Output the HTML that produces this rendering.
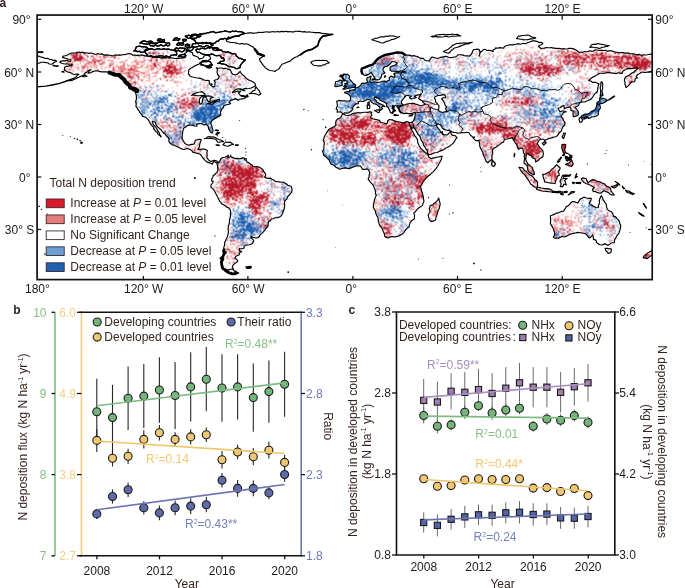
<!DOCTYPE html>
<html><head><meta charset="utf-8"><style>
html,body{margin:0;padding:0;background:#fff;}
svg{display:block;font-family:"Liberation Sans",sans-serif;}
</style></head><body>
<svg width="685" height="588" viewBox="0 0 685 588">
<rect width="685" height="588" fill="#fff"/>
<defs><clipPath id="mclip"><rect x="37.1" y="15.05" width="615.1" height="264.55"/></clipPath>
<clipPath id="lclip"><path d="M59.7,62.1 L61.3,61.1 L63.2,60.8 L65.0,60.9 L66.7,60.3 L68.4,61.1 L70.2,61.4 L71.0,59.8 L69.1,59.5 L67.2,58.7 L65.6,58.3 L63.9,57.9 L62.3,57.3 L63.2,56.1 L65.0,55.7 L66.8,55.2 L68.4,54.4 L70.1,53.5 L71.8,53.0 L73.7,53.0 L75.6,53.0 L77.4,52.3 L79.2,52.1 L80.8,52.6 L82.6,52.1 L84.1,52.8 L85.9,52.8 L87.6,53.0 L89.3,53.4 L91.1,53.0 L92.8,53.5 L94.5,54.1 L96.3,54.2 L98.1,53.5 L99.8,54.2 L101.6,53.9 L103.3,54.6 L105.0,55.1 L106.8,54.9 L108.6,55.1 L110.3,55.2 L112.0,55.8 L113.8,55.5 L115.5,54.9 L117.3,55.2 L119.0,54.9 L120.7,55.1 L122.5,54.8 L124.2,54.6 L126.0,54.4 L127.7,53.7 L129.5,53.5 L131.3,54.1 L133.0,55.2 L134.7,55.0 L136.4,55.4 L138.2,55.4 L139.9,55.2 L141.7,54.9 L143.4,55.4 L145.1,55.9 L146.9,55.8 L148.6,56.1 L150.4,56.1 L152.2,56.2 L153.8,57.3 L155.6,57.2 L157.3,57.8 L159.2,57.3 L160.9,57.9 L162.6,57.6 L164.4,57.9 L166.1,57.5 L167.8,57.8 L169.6,58.2 L171.3,57.9 L173.1,58.0 L174.8,58.5 L176.6,58.4 L178.3,58.5 L180.0,58.1 L181.8,58.2 L183.5,57.9 L185.3,57.5 L185.2,55.4 L184.4,53.5 L186.4,52.4 L187.9,50.9 L190.1,51.7 L192.3,52.6 L193.1,55.2 L194.8,55.9 L196.6,56.5 L198.3,57.5 L199.2,59.3 L200.9,58.5 L202.7,58.2 L203.9,56.7 L204.5,54.9 L206.2,55.2 L208.0,55.4 L209.7,56.1 L210.6,58.7 L209.2,59.8 L207.9,61.0 L206.2,60.6 L204.5,60.5 L202.7,60.5 L201.5,61.6 L200.1,62.6 L199.2,64.0 L197.1,64.9 L194.9,65.7 L193.1,66.9 L191.4,68.0 L189.9,68.8 L188.8,70.0 L188.6,72.0 L188.4,74.0 L190.5,76.3 L192.3,77.0 L194.0,77.2 L195.7,77.7 L197.5,78.0 L199.4,78.1 L201.1,78.6 L202.7,79.6 L204.3,80.0 L205.9,80.5 L207.5,80.3 L209.2,80.5 L209.3,83.3 L210.6,85.0 L211.9,86.0 L213.2,87.1 L214.9,86.2 L214.8,84.3 L215.3,82.4 L214.1,80.6 L215.5,79.9 L217.2,79.5 L218.4,78.4 L219.3,76.3 L217.5,74.5 L217.0,71.9 L217.5,69.3 L216.3,67.9 L218.2,68.2 L220.0,68.0 L221.9,68.0 L223.6,68.6 L225.4,68.2 L227.1,68.7 L228.9,69.4 L230.6,70.1 L231.5,72.8 L233.2,74.5 L235.9,74.7 L237.4,74.1 L238.5,72.8 L240.2,71.4 L241.0,73.0 L242.0,74.5 L244.6,76.3 L246.3,78.4 L248.9,80.1 L250.7,80.8 L252.4,81.5 L255.0,83.3 L255.6,85.5 L253.3,86.9 L251.2,88.0 L248.9,88.5 L247.2,88.7 L245.4,88.4 L243.7,89.0 L242.0,89.6 L240.2,88.9 L238.5,88.9 L236.7,89.2 L235.0,90.0 L233.7,91.1 L232.4,92.4 L234.2,92.2 L235.9,91.5 L237.6,91.0 L240.7,91.5 L238.5,92.9 L239.7,94.7 L241.1,96.1 L242.8,96.4 L244.6,96.6 L246.3,96.9 L248.1,96.1 L245.4,97.8 L243.8,98.8 L242.0,98.9 L239.7,99.3 L237.8,100.4 L237.6,99.6 L235.9,98.9 L233.2,99.6 L230.6,100.4 L229.4,102.2 L230.6,103.8 L228.9,104.3 L226.3,104.8 L223.6,105.9 L223.6,107.3 L221.9,109.0 L221.4,110.4 L220.2,112.2 L220.9,114.8 L219.3,116.2 L216.8,117.6 L214.6,118.8 L213.1,119.7 L211.8,120.8 L210.7,123.6 L211.7,125.3 L212.1,127.2 L212.6,128.9 L213.0,130.6 L212.5,132.8 L211.3,133.0 L210.0,131.3 L208.5,128.8 L208.3,126.2 L206.2,124.4 L203.9,125.0 L201.8,123.7 L199.2,123.6 L196.6,124.1 L197.0,126.2 L194.9,126.0 L192.3,125.1 L190.5,125.2 L188.8,125.1 L187.0,125.8 L185.4,127.2 L183.5,128.3 L183.3,129.9 L182.8,131.4 L182.5,133.2 L182.3,135.0 L182.1,138.1 L183.2,140.9 L184.9,143.4 L186.3,144.3 L187.9,145.1 L189.7,144.9 L191.4,144.4 L194.0,144.1 L194.9,142.0 L195.2,140.2 L197.2,139.7 L199.2,139.3 L201.3,139.5 L200.3,142.0 L199.6,144.8 L199.6,146.5 L198.7,148.1 L197.8,149.3 L201.0,149.3 L202.7,149.0 L204.5,149.1 L207.3,150.4 L206.9,153.3 L207.2,155.1 L206.9,156.9 L207.1,158.1 L208.8,160.2 L210.9,161.6 L213.5,160.4 L215.8,160.5 L217.7,161.9 L217.4,163.0 L216.1,162.5 L214.1,161.4 L212.8,162.8 L212.5,164.2 L211.1,163.5 L208.8,162.6 L206.7,161.9 L204.5,159.8 L203.1,158.4 L202.3,157.0 L201.3,155.6 L200.1,154.2 L198.4,153.4 L196.6,153.3 L194.9,152.6 L193.1,152.5 L192.0,150.9 L190.5,149.8 L187.9,148.6 L186.1,148.7 L184.4,149.5 L182.6,149.3 L180.9,148.6 L178.3,147.2 L175.7,146.0 L174.0,145.1 L172.2,144.9 L171.0,143.8 L169.6,142.8 L168.7,141.1 L169.1,139.2 L167.8,137.1 L166.2,135.8 L165.2,134.1 L163.6,133.3 L162.6,131.8 L160.9,129.7 L159.1,128.1 L157.0,126.2 L155.8,124.4 L155.5,122.3 L152.5,121.3 L153.0,124.1 L154.0,125.5 L155.3,126.5 L156.8,128.8 L158.2,131.4 L159.3,132.9 L159.8,134.6 L161.2,136.5 L161.0,136.9 L160.0,135.7 L157.7,134.1 L157.2,132.3 L155.7,131.5 L154.8,130.0 L153.5,128.5 L153.9,127.8 L152.9,126.5 L151.8,125.3 L150.4,123.6 L149.2,121.5 L148.5,120.1 L146.4,117.8 L144.3,116.7 L142.4,116.4 L141.7,114.6 L139.9,112.4 L139.1,110.8 L138.2,109.9 L136.8,107.3 L135.9,106.2 L136.3,103.8 L135.6,102.0 L136.4,99.0 L136.4,96.1 L135.9,93.8 L135.2,92.2 L138.2,92.4 L138.5,91.2 L137.3,90.3 L134.7,88.9 L132.5,88.4 L130.3,87.6 L129.5,85.5 L127.9,84.7 L126.9,83.3 L125.1,81.5 L124.2,79.8 L122.7,78.9 L121.6,77.5 L120.3,76.2 L119.0,75.0 L117.2,75.2 L115.5,74.7 L112.9,74.0 L111.1,73.5 L109.4,72.6 L107.7,72.0 L105.9,71.9 L103.7,71.9 L101.6,71.9 L99.3,71.4 L97.2,70.7 L94.6,71.0 L92.0,71.9 L90.2,72.9 L88.0,73.3 L89.4,70.7 L91.1,69.8 L89.4,70.4 L87.6,71.0 L86.6,72.4 L85.0,73.1 L83.8,75.0 L82.3,75.8 L80.6,76.4 L78.9,77.3 L77.1,78.0 L75.5,79.0 L73.7,79.4 L72.0,80.4 L70.2,80.6 L68.5,80.5 L66.9,81.2 L65.3,81.5 L66.7,80.5 L68.4,80.1 L70.6,79.4 L72.8,78.5 L74.7,77.9 L76.3,76.8 L77.3,75.2 L78.9,74.3 L76.3,74.0 L74.5,74.5 L72.8,74.0 L70.2,72.4 L68.3,72.3 L66.7,71.5 L64.4,70.1 L64.6,67.5 L65.8,66.3 L67.9,66.3 L69.9,65.6 L71.9,65.7 L72.3,64.0 L69.3,64.2 L67.1,63.9 L64.9,64.0 L62.3,63.5 L60.6,62.8Z M217.7,161.9 L218.8,163.0 L219.8,160.7 L220.9,158.8 L222.2,157.7 L224.9,157.2 L226.8,156.2 L228.4,155.3 L227.8,157.7 L228.9,157.2 L230.3,156.7 L230.6,155.6 L231.1,156.9 L233.6,157.9 L235.4,158.6 L237.2,158.4 L239.2,158.8 L241.1,158.4 L242.9,157.9 L244.7,158.3 L244.6,159.5 L246.3,160.4 L247.2,162.1 L248.4,162.5 L250.7,164.2 L252.1,165.1 L252.9,166.5 L254.9,166.8 L256.8,166.5 L258.9,167.0 L261.5,168.4 L262.9,169.6 L263.8,171.7 L265.5,173.8 L265.7,175.9 L264.6,177.0 L266.3,177.9 L268.1,178.4 L270.7,178.1 L272.1,179.2 L273.7,180.0 L275.1,181.2 L277.3,181.6 L279.5,181.9 L281.6,182.2 L283.8,182.3 L285.1,183.4 L286.7,184.1 L287.8,185.4 L289.5,185.8 L291.1,186.3 L291.7,187.9 L292.0,189.6 L291.7,192.4 L290.2,193.8 L289.0,195.4 L287.6,196.9 L287.0,198.9 L284.9,200.7 L284.4,202.8 L284.7,205.0 L284.3,208.2 L283.8,209.8 L283.3,211.5 L282.5,213.5 L281.5,215.5 L279.5,217.1 L277.3,217.7 L275.1,217.8 L273.5,218.8 L271.6,219.0 L270.3,220.7 L268.5,221.7 L268.2,223.9 L267.9,226.1 L267.0,227.5 L265.8,228.7 L264.9,230.1 L263.8,231.3 L261.7,233.6 L260.3,234.6 L259.6,236.0 L258.2,237.6 L255.9,238.0 L253.3,237.4 L250.9,236.6 L251.0,238.0 L252.9,239.4 L253.8,240.8 L252.4,243.6 L249.8,244.8 L247.6,245.0 L245.4,245.3 L244.0,246.2 L244.2,248.0 L241.4,249.0 L239.3,248.5 L239.3,250.6 L241.6,251.6 L240.0,252.3 L239.0,255.0 L237.5,255.5 L236.0,256.2 L234.8,258.3 L236.3,259.1 L237.6,260.2 L237.8,261.1 L236.6,262.5 L235.0,263.2 L233.2,265.0 L232.2,267.6 L233.4,268.6 L233.2,269.9 L235.0,271.6 L237.0,272.2 L238.8,273.0 L235.9,273.4 L233.2,273.9 L230.6,273.4 L228.0,272.1 L226.5,271.2 L225.4,269.9 L222.8,268.6 L222.3,267.1 L221.9,265.5 L222.1,263.7 L221.4,262.0 L222.3,260.6 L222.9,259.0 L221.0,258.5 L222.8,256.7 L224.0,254.1 L225.4,252.3 L223.6,251.5 L224.0,249.7 L223.8,247.9 L224.2,246.2 L224.7,244.5 L224.5,242.7 L225.5,241.1 L226.1,239.2 L227.1,237.5 L227.7,235.7 L228.2,233.1 L228.5,231.3 L228.0,229.6 L228.3,227.8 L228.2,226.1 L229.0,224.4 L229.4,222.6 L229.5,220.3 L229.9,218.2 L230.5,216.0 L230.3,213.8 L230.6,211.6 L230.1,209.4 L228.4,207.8 L226.7,207.1 L225.4,205.9 L223.6,204.7 L221.6,203.8 L220.7,202.4 L219.6,201.2 L218.8,199.6 L218.1,198.0 L217.2,196.3 L216.3,194.5 L215.4,192.7 L214.4,190.8 L213.4,189.1 L211.1,187.5 L210.9,185.2 L212.7,183.0 L213.2,181.4 L211.6,180.9 L211.8,178.8 L213.0,177.0 L213.2,175.4 L214.9,174.7 L215.3,173.8 L217.0,172.4 L217.9,170.3 L217.7,167.4 L217.5,165.3 L216.8,164.0Z M409.0,122.2 L406.8,121.6 L405.0,122.2 L403.3,122.9 L401.5,122.6 L399.8,122.0 L396.6,121.6 L394.6,120.9 L392.8,119.9 L391.1,119.7 L389.3,119.5 L387.6,120.9 L387.6,122.7 L385.8,123.9 L384.1,123.0 L382.3,122.8 L380.6,122.3 L379.4,120.4 L377.4,119.8 L375.4,119.4 L372.8,118.8 L371.0,117.8 L370.5,116.6 L371.9,115.3 L371.0,113.1 L371.9,112.2 L370.1,111.8 L367.5,112.4 L365.8,112.2 L364.0,112.2 L361.4,112.7 L359.7,112.9 L357.9,112.5 L356.2,113.1 L354.4,113.1 L352.6,113.5 L351.0,114.5 L348.9,115.5 L345.7,115.3 L343.5,114.1 L342.2,114.3 L341.7,115.9 L340.8,117.4 L339.4,118.2 L337.9,118.7 L336.0,120.9 L335.6,123.6 L336.0,125.3 L334.4,126.5 L332.6,127.6 L330.0,128.6 L328.5,129.8 L327.4,131.4 L326.3,133.4 L325.1,135.3 L324.3,136.8 L323.9,138.5 L323.1,140.2 L324.4,142.8 L323.9,145.5 L323.9,147.2 L323.9,149.0 L322.4,151.2 L323.4,153.3 L323.6,155.1 L325.7,156.7 L327.1,158.1 L329.2,160.0 L329.7,161.4 L330.9,163.9 L333.5,165.1 L334.8,166.3 L336.1,167.4 L338.0,168.1 L339.6,169.3 L341.4,168.8 L343.1,168.1 L345.7,167.9 L347.4,168.5 L349.2,168.6 L351.0,167.9 L352.7,167.2 L355.3,166.1 L357.9,165.8 L360.5,166.0 L361.5,167.7 L362.6,169.3 L364.9,169.3 L367.5,168.9 L368.7,170.2 L369.8,172.6 L369.1,175.2 L368.9,177.9 L368.0,178.8 L369.0,180.4 L370.1,181.9 L372.1,183.8 L373.6,185.8 L374.2,187.7 L375.1,189.7 L375.4,191.9 L375.6,193.7 L376.2,195.4 L375.3,197.6 L374.5,199.8 L374.1,202.0 L373.5,204.2 L373.3,207.3 L374.5,209.4 L375.5,211.0 L375.6,213.0 L376.5,214.7 L377.1,216.4 L378.0,217.3 L378.1,219.1 L378.3,220.8 L378.8,222.6 L379.2,224.3 L380.1,226.0 L381.5,227.3 L382.4,229.3 L383.2,231.3 L384.4,233.9 L384.8,236.6 L386.7,237.8 L387.6,238.0 L389.4,237.5 L391.1,236.6 L392.8,236.5 L394.6,236.9 L396.3,236.6 L398.9,236.0 L401.5,234.5 L403.0,233.5 L404.1,232.2 L405.9,229.6 L407.6,227.8 L409.2,226.9 L409.4,224.9 L410.1,222.9 L411.1,221.3 L412.6,220.0 L414.4,219.0 L414.3,217.3 L414.6,215.5 L413.7,212.9 L415.3,211.8 L416.4,210.3 L417.6,208.9 L419.0,207.7 L420.8,206.6 L422.5,205.4 L423.0,203.4 L423.9,201.5 L423.7,199.8 L423.4,198.0 L423.3,196.3 L422.7,194.6 L422.2,192.7 L421.6,191.0 L421.1,188.4 L420.4,186.6 L421.6,184.9 L422.8,182.3 L424.2,180.5 L425.9,178.4 L427.3,177.1 L428.6,175.8 L430.1,174.8 L431.2,173.5 L432.4,172.4 L433.7,171.4 L434.7,170.0 L436.2,168.4 L437.3,166.5 L438.5,164.9 L439.2,163.0 L440.4,161.3 L441.3,159.5 L441.5,157.8 L442.2,156.3 L440.5,156.4 L439.0,157.0 L437.2,157.0 L435.5,157.6 L433.3,157.9 L431.2,158.8 L428.6,157.0 L428.2,155.1 L426.8,153.3 L425.1,152.5 L423.8,151.1 L422.5,149.8 L420.7,148.1 L419.0,145.5 L417.8,142.8 L417.6,140.2 L416.9,138.5 L415.9,137.0 L414.8,135.8 L413.7,133.2 L412.0,130.6 L411.1,128.8 L410.1,126.8 L409.6,124.6Z M409.6,124.6 L410.6,126.0 L411.1,127.6 L412.5,128.3 L413.4,126.4 L413.7,125.3 L413.7,127.9 L415.4,129.5 L416.4,131.4 L417.3,132.9 L418.1,134.4 L419.3,135.6 L420.2,136.9 L420.7,138.5 L421.2,140.2 L422.4,141.9 L423.3,143.7 L423.8,145.7 L425.1,147.2 L426.0,149.1 L427.3,150.7 L427.5,152.5 L428.2,154.2 L430.3,154.7 L432.9,153.5 L435.0,152.7 L437.3,152.5 L439.9,151.1 L441.8,150.4 L443.7,149.7 L445.2,148.4 L446.9,147.6 L449.5,146.3 L451.8,144.4 L453.5,142.8 L454.7,141.1 L455.6,139.2 L457.0,137.8 L455.2,135.7 L452.1,135.1 L450.9,133.4 L450.9,130.9 L449.5,132.3 L447.7,134.6 L446.0,135.0 L444.3,134.6 L442.7,134.1 L442.2,131.3 L441.6,133.2 L440.8,132.3 L439.9,130.4 L438.2,128.3 L436.9,126.5 L436.4,124.4 L438.2,123.9 L440.2,124.8 L441.6,126.4 L442.5,128.3 L444.1,129.6 L446.0,130.0 L447.7,130.5 L449.5,130.4 L452.1,131.8 L453.8,132.4 L455.6,132.5 L457.7,133.1 L460.0,133.0 L462.1,132.5 L464.3,132.7 L466.5,132.4 L468.7,132.5 L470.4,135.0 L472.7,137.1 L474.8,137.1 L473.0,137.8 L474.3,139.2 L475.7,140.6 L477.4,140.6 L479.1,140.2 L479.1,142.0 L479.7,143.7 L479.7,146.0 L480.5,148.1 L481.8,150.7 L482.8,152.5 L483.2,154.6 L483.9,156.2 L484.9,157.7 L485.3,159.5 L486.1,161.2 L487.9,162.8 L489.1,161.4 L490.5,160.7 L492.0,159.0 L491.9,156.0 L492.7,153.3 L492.6,151.6 L492.4,149.8 L494.3,148.1 L496.2,147.2 L497.5,145.8 L499.2,144.9 L500.6,143.9 L501.9,142.6 L503.6,142.0 L504.4,139.3 L507.0,139.0 L509.7,138.5 L512.3,137.6 L513.5,140.2 L514.9,142.3 L516.6,144.6 L517.5,147.6 L518.7,149.3 L521.0,148.1 L522.7,148.1 L523.3,151.1 L523.5,152.8 L524.5,154.2 L524.2,156.4 L524.7,158.6 L524.3,160.3 L524.1,162.1 L524.1,163.3 L525.7,164.3 L527.1,165.6 L527.6,168.2 L527.8,170.1 L528.8,171.7 L530.1,172.8 L531.5,173.7 L533.2,174.7 L534.4,174.4 L534.1,172.1 L533.0,170.0 L532.3,167.4 L530.6,166.1 L529.5,164.9 L528.0,164.2 L527.1,162.5 L525.9,160.4 L525.7,158.6 L526.2,156.0 L527.1,153.5 L528.0,153.3 L528.8,154.7 L531.5,156.0 L532.3,157.7 L534.9,158.6 L535.8,161.2 L535.5,161.9 L537.0,161.2 L538.4,160.4 L539.7,158.6 L541.2,157.7 L542.8,156.9 L543.3,154.2 L543.2,152.5 L542.8,150.7 L541.1,148.6 L539.8,147.3 L538.6,145.8 L537.2,143.7 L538.4,141.1 L540.2,139.3 L541.9,139.2 L543.8,139.3 L545.4,141.4 L544.9,140.2 L547.2,139.3 L548.8,138.4 L550.6,138.1 L552.4,137.6 L554.1,137.0 L555.9,136.7 L557.4,135.6 L558.5,134.1 L559.5,132.4 L561.1,131.4 L562.0,128.8 L562.9,126.8 L564.6,125.3 L565.1,122.7 L563.7,120.9 L562.9,118.3 L561.1,116.6 L562.0,114.8 L563.7,112.5 L566.3,111.8 L564.6,111.2 L562.9,110.8 L560.2,111.8 L558.5,109.5 L558.1,108.3 L560.2,107.8 L561.9,106.5 L563.7,105.5 L564.1,107.1 L564.6,108.7 L564.1,109.0 L566.3,107.8 L569.3,107.1 L570.7,107.8 L571.0,110.4 L573.3,111.3 L573.0,113.9 L573.3,116.6 L575.1,116.4 L577.7,115.5 L578.5,113.9 L578.2,111.3 L576.8,109.5 L575.1,107.3 L576.8,106.4 L578.5,105.5 L579.4,102.9 L582.0,102.0 L584.7,102.0 L586.8,101.0 L589.0,100.3 L591.1,99.2 L592.5,97.3 L594.2,94.7 L595.6,93.1 L597.4,92.0 L597.7,89.4 L597.9,87.6 L598.3,85.9 L599.1,83.8 L597.4,83.4 L596.0,82.4 L594.2,82.3 L592.5,82.4 L590.8,81.0 L588.7,80.6 L590.0,79.2 L591.6,78.0 L593.3,76.8 L595.2,76.1 L596.9,74.9 L598.5,73.9 L600.3,73.3 L602.1,73.2 L603.9,73.5 L605.6,72.9 L607.6,72.6 L609.7,72.6 L611.7,73.1 L613.9,73.1 L616.0,73.6 L618.7,72.8 L620.4,73.3 L622.1,73.3 L623.0,71.0 L624.8,70.1 L626.5,68.9 L628.2,68.6 L630.0,68.6 L631.7,68.7 L633.7,68.1 L635.8,68.1 L637.8,67.9 L637.0,69.5 L635.4,70.4 L634.4,71.9 L632.4,72.7 L630.6,73.8 L629.1,75.4 L627.3,76.1 L625.6,77.1 L624.6,78.7 L624.4,80.6 L625.1,82.3 L624.8,84.1 L625.6,85.8 L626.0,87.6 L628.3,85.9 L629.6,84.1 L631.7,82.0 L633.5,82.0 L634.9,81.0 L635.2,78.5 L637.5,78.0 L636.1,76.3 L637.8,74.5 L639.7,73.6 L641.3,72.2 L643.3,72.1 L645.3,72.5 L647.2,72.1 L649.2,71.9 L651.1,71.4 L652.6,70.2 L654.4,69.6 L656.1,68.8 L657.9,68.5 L659.5,67.7 L661.4,67.5 L663.1,67.6 L664.9,67.9 L666.5,67.0 L667.4,65.4 L668.5,63.9 L670.1,63.1 L669.7,61.4 L669.8,59.6 L670.4,57.9 L670.1,56.1 L668.3,56.0 L666.6,55.9 L664.8,55.9 L663.2,54.8 L661.4,55.2 L659.6,55.2 L657.9,54.7 L656.1,55.0 L654.4,54.9 L652.6,54.7 L650.9,54.1 L649.2,54.2 L647.5,54.7 L645.7,55.0 L643.9,54.7 L642.2,55.1 L640.5,55.1 L638.8,54.3 L636.9,54.9 L635.2,54.3 L633.5,53.8 L631.7,53.8 L630.0,53.7 L628.3,52.9 L626.5,53.1 L624.7,53.1 L623.0,52.6 L621.3,52.5 L619.5,52.7 L617.8,52.2 L616.0,52.2 L614.3,51.7 L612.6,51.1 L610.9,50.8 L609.1,50.9 L607.2,51.1 L605.6,50.3 L603.8,50.5 L602.1,50.4 L600.3,50.4 L598.6,50.3 L596.9,50.0 L595.1,49.9 L593.4,51.0 L591.7,51.4 L589.8,50.8 L588.1,51.6 L586.4,51.7 L584.6,51.5 L582.9,52.3 L581.1,52.0 L579.4,52.6 L577.8,51.2 L575.9,50.0 L574.3,49.1 L572.5,48.6 L570.7,48.2 L569.0,48.4 L567.3,49.0 L565.5,49.0 L563.7,48.6 L562.0,49.1 L560.3,48.5 L558.5,48.3 L556.7,48.6 L555.0,48.1 L553.3,48.1 L551.5,47.6 L549.8,47.7 L548.0,47.7 L546.2,47.6 L544.5,48.1 L542.8,48.2 L541.1,48.6 L539.9,47.4 L538.4,46.5 L539.8,45.2 L541.6,44.7 L542.8,43.3 L541.2,42.3 L539.2,42.6 L537.6,41.6 L534.6,40.9 L532.6,40.9 L530.7,41.5 L528.9,42.3 L527.1,43.0 L525.4,43.7 L523.5,43.2 L521.9,43.8 L520.1,44.3 L518.3,43.6 L516.6,44.2 L514.9,44.2 L513.2,44.9 L511.4,44.9 L509.7,44.7 L507.9,45.2 L506.2,45.8 L504.4,46.5 L503.6,48.2 L501.6,47.9 L499.7,47.6 L497.7,48.2 L495.7,47.9 L494.7,49.3 L493.1,50.0 L493.1,51.7 L491.0,50.6 L488.7,50.3 L486.9,50.5 L485.3,49.4 L483.5,49.5 L482.4,50.9 L480.9,51.7 L479.7,53.8 L479.1,56.1 L479.9,54.0 L480.0,51.7 L479.1,49.5 L477.4,49.1 L475.7,49.4 L473.9,49.5 L472.7,50.8 L472.2,52.6 L471.1,54.5 L469.5,56.1 L467.8,55.8 L466.0,55.9 L464.3,55.6 L462.3,54.9 L460.3,54.7 L458.2,54.7 L456.9,55.9 L455.6,57.0 L453.9,57.0 L452.1,57.5 L450.4,57.6 L448.6,57.2 L446.0,56.3 L444.4,56.6 L442.9,57.1 L441.2,57.1 L439.7,57.7 L438.2,58.2 L436.1,58.2 L434.1,57.5 L432.1,57.0 L430.5,58.6 L429.4,60.5 L429.8,61.0 L427.4,60.7 L425.1,60.5 L423.3,58.4 L421.1,58.4 L419.0,57.5 L417.4,56.5 L415.5,56.1 L413.8,55.6 L411.9,56.1 L410.3,55.4 L408.5,55.1 L406.7,55.1 L405.0,54.7 L403.4,53.4 L401.5,52.6 L399.3,52.7 L397.2,52.4 L395.0,53.1 L392.8,53.3 L391.1,53.7 L389.2,53.6 L387.6,54.4 L385.9,55.2 L384.1,55.2 L382.5,56.5 L380.6,57.0 L378.0,58.7 L376.6,60.0 L375.4,61.4 L374.5,63.1 L371.9,64.9 L369.3,65.7 L367.0,66.2 L364.9,67.3 L363.3,68.0 L361.8,68.7 L361.4,71.0 L362.3,73.6 L364.0,75.2 L366.7,75.4 L368.2,74.5 L369.8,73.6 L371.2,72.2 L371.9,73.6 L372.4,74.7 L373.6,76.1 L375.0,78.4 L375.4,79.9 L377.5,79.9 L379.2,79.5 L380.6,78.4 L381.5,76.3 L381.8,74.3 L383.5,73.8 L385.0,72.8 L383.2,70.8 L382.9,69.3 L384.1,67.5 L385.3,66.4 L387.2,66.3 L388.5,65.2 L390.2,63.8 L391.9,61.7 L394.6,61.7 L397.2,63.1 L396.3,64.3 L394.7,65.3 L392.8,65.7 L390.2,67.0 L390.0,70.1 L391.6,71.2 L394.0,71.2 L396.3,71.5 L398.5,71.6 L400.7,71.0 L402.4,71.2 L404.1,71.5 L405.5,72.1 L402.4,72.2 L401.5,72.8 L398.9,72.9 L396.7,72.7 L394.6,73.1 L393.7,74.0 L395.1,75.0 L394.2,76.3 L395.1,77.1 L392.8,77.1 L391.1,76.1 L389.3,77.5 L389.3,79.2 L389.7,80.3 L387.6,80.8 L386.7,81.7 L385.0,81.0 L382.3,81.2 L380.7,82.0 L378.9,82.2 L377.1,82.4 L374.5,81.7 L371.9,82.4 L370.1,81.5 L369.8,80.6 L370.7,78.4 L371.0,76.1 L369.3,77.0 L367.0,77.8 L366.8,79.8 L367.7,82.4 L364.9,83.3 L363.1,83.1 L361.4,83.6 L360.7,85.4 L358.8,86.8 L357.1,87.5 L355.5,87.8 L355.3,89.0 L353.0,89.9 L350.6,90.5 L349.4,89.9 L350.1,91.7 L347.5,91.5 L344.5,92.2 L345.2,93.3 L346.9,93.4 L348.3,94.1 L350.1,95.9 L350.6,98.2 L350.1,100.8 L348.4,101.2 L346.6,101.0 L344.9,100.9 L343.1,100.8 L341.3,100.8 L339.6,100.4 L336.7,101.3 L337.2,103.4 L337.4,106.0 L336.7,107.5 L336.1,109.0 L337.4,109.9 L337.2,112.2 L339.6,111.8 L341.7,112.5 L342.9,113.9 L344.9,112.7 L346.9,113.1 L348.9,112.7 L351.3,111.1 L353.0,109.0 L352.2,107.8 L353.4,106.6 L354.3,105.2 L356.1,103.9 L358.3,103.6 L358.1,101.7 L360.5,101.0 L363.2,101.5 L365.8,100.3 L368.0,99.2 L370.5,100.1 L371.2,101.8 L373.6,103.6 L375.3,104.0 L376.8,104.8 L378.3,105.9 L379.9,106.9 L379.9,108.7 L379.9,110.4 L381.5,109.5 L382.5,108.7 L381.5,107.4 L382.7,106.0 L385.0,106.7 L383.2,105.2 L380.6,103.9 L379.7,103.4 L377.1,102.2 L376.2,100.6 L374.2,99.0 L374.2,97.6 L376.2,96.8 L376.6,98.2 L378.0,97.6 L379.7,99.9 L382.3,101.3 L385.0,102.5 L386.7,103.8 L386.5,106.2 L388.5,107.8 L389.3,109.5 L390.4,112.2 L391.9,113.2 L392.8,111.7 L393.2,110.4 L394.6,110.1 L392.8,108.7 L392.1,106.4 L394.2,105.7 L396.1,105.8 L398.0,105.5 L398.9,106.0 L401.1,105.4 L403.3,104.8 L401.5,103.4 L401.4,101.3 L402.8,99.4 L404.3,97.6 L406.2,95.5 L408.2,95.5 L411.1,96.4 L409.4,97.5 L411.1,99.0 L413.7,98.5 L416.5,97.5 L414.3,96.6 L415.7,95.5 L417.3,95.1 L419.0,94.7 L421.2,94.3 L419.8,95.9 L418.6,98.5 L419.8,99.4 L422.5,101.1 L423.6,102.9 L425.3,104.1 L424.7,104.6 L422.5,105.3 L420.7,105.5 L419.0,105.3 L417.3,104.5 L415.5,104.1 L413.8,103.3 L412.0,103.4 L410.2,103.5 L408.5,103.8 L406.7,104.1 L405.0,104.8 L403.3,105.2 L400.7,106.4 L398.4,107.8 L399.4,109.5 L400.1,111.3 L401.5,112.5 L404.1,113.6 L405.9,113.1 L408.5,113.6 L411.1,113.6 L413.7,112.9 L415.5,112.5 L415.1,114.3 L415.3,115.7 L414.6,117.4 L414.1,119.2 L412.9,121.8 L411.1,122.5 L409.0,122.2Z M35.3,56.1 L37.0,56.3 L38.8,56.1 L40.4,56.9 L42.3,57.2 L43.9,57.9 L45.6,58.5 L47.5,58.4 L49.6,59.3 L51.9,59.6 L53.3,60.6 L55.3,60.1 L56.7,61.2 L54.5,62.2 L53.2,63.2 L51.9,64.2 L49.2,64.0 L47.7,62.8 L45.8,62.6 L43.6,62.2 L41.4,62.2 L38.8,63.3 L37.0,62.8 L35.3,63.3 L34.8,61.5 L35.3,59.7 L35.0,57.9Z M240.2,67.5 L237.6,68.6 L235.6,68.5 L234.1,67.3 L232.4,67.2 L230.7,66.5 L228.9,66.8 L227.3,65.5 L225.6,64.6 L223.6,64.0 L221.6,63.9 L219.6,63.1 L217.5,63.5 L219.3,62.8 L220.7,61.3 L222.7,61.2 L224.5,60.5 L223.6,57.9 L221.6,58.1 L220.4,56.0 L218.7,55.3 L216.6,55.8 L214.8,55.3 L213.2,54.4 L211.4,53.9 L209.7,54.9 L207.9,54.9 L206.2,54.9 L204.5,54.4 L202.6,54.2 L201.0,53.3 L199.4,52.2 L197.5,52.6 L195.7,50.0 L197.3,48.9 L199.5,49.6 L201.0,48.2 L202.7,48.3 L204.5,48.8 L206.2,48.7 L207.9,47.4 L209.7,48.2 L211.4,47.3 L213.2,47.9 L215.1,47.6 L216.5,48.7 L217.9,49.9 L219.6,50.1 L221.4,50.0 L222.7,51.6 L224.5,51.6 L226.0,52.6 L227.8,51.7 L229.3,52.4 L230.9,53.1 L232.4,53.9 L234.1,53.5 L235.7,54.2 L236.4,55.9 L237.6,57.0 L238.9,58.4 L240.7,58.4 L242.2,59.1 L243.7,59.8 L245.4,60.0 L243.7,61.5 L242.0,63.1 L240.2,65.7Z M147.8,56.1 L149.4,56.3 L151.1,55.6 L152.8,57.0 L154.5,57.0 L156.1,56.2 L157.8,56.6 L159.5,55.8 L161.2,55.8 L162.8,56.0 L164.5,56.8 L166.2,55.9 L167.8,56.5 L169.7,57.1 L171.2,55.2 L173.0,55.2 L174.7,54.7 L176.6,55.2 L176.6,52.6 L175.1,50.9 L173.1,50.0 L170.8,49.8 L168.7,49.1 L167.1,49.1 L165.5,49.3 L163.9,48.7 L162.2,49.1 L160.6,49.4 L159.0,48.9 L157.4,48.8 L155.7,49.3 L154.0,49.8 L152.1,48.7 L150.4,49.1 L148.6,49.3 L146.8,49.1 L145.2,50.0 L145.2,52.6 L146.6,54.2Z M133.8,51.0 L135.7,50.6 L137.3,51.7 L139.1,51.2 L140.8,52.4 L142.5,52.3 L144.2,51.7 L145.6,50.6 L147.3,50.2 L148.9,49.4 L150.4,48.6 L148.4,48.8 L146.9,47.4 L145.2,46.8 L143.4,46.6 L141.7,46.8 L139.9,46.1 L138.2,46.4 L136.4,46.8 L135.8,48.3 L135.1,49.9Z M176.6,50.9 L178.3,50.5 L180.0,51.2 L181.7,52.0 L183.5,51.2 L184.6,49.9 L185.3,48.2 L183.5,48.1 L181.8,48.2 L180.0,47.7 L178.5,48.8 L176.3,47.8 L174.8,49.1Z M186.1,50.9 L188.1,49.9 L190.3,50.8 L192.3,50.0 L194.0,47.4 L192.3,46.7 L190.5,47.6 L188.8,47.8 L187.0,47.4 L187.1,49.2Z M201.0,64.9 L202.8,64.9 L204.5,65.6 L206.2,66.1 L208.3,65.9 L210.2,64.8 L212.3,65.2 L211.4,63.7 L210.6,62.2 L208.7,61.2 L206.7,61.7 L204.7,61.6 L202.7,61.4 L201.0,63.1Z M204.6,138.6 L206.2,138.2 L207.4,137.0 L209.0,136.5 L211.1,137.0 L213.2,136.7 L214.6,137.4 L216.1,138.0 L217.5,138.8 L219.0,139.6 L220.6,140.0 L222.1,140.7 L223.5,141.6 L221.5,141.8 L219.5,142.2 L217.5,142.1 L216.8,140.7 L215.8,139.3 L214.0,139.0 L212.3,138.6 L210.6,138.1 L208.4,138.5 L206.2,138.5Z M222.8,144.8 L224.2,143.4 L225.7,142.1 L227.4,142.3 L229.0,142.3 L230.6,142.3 L232.0,143.5 L233.6,144.4 L231.6,144.7 L229.8,145.4 L228.0,146.2 L226.2,146.0 L224.5,145.4Z M216.1,144.8 L217.9,144.7 L219.6,145.3 L218.8,145.6 L216.3,145.1Z M235.5,144.8 L238.3,144.8 L238.1,145.5 L235.5,145.5Z M249.3,93.6 L250.9,93.0 L252.0,91.7 L253.4,90.8 L255.0,90.3 L255.2,88.4 L255.9,86.8 L256.9,88.2 L258.0,89.5 L259.4,90.6 L259.8,92.4 L261.0,93.8 L258.9,95.2 L257.0,94.3 L255.0,93.6 L253.1,93.5 L251.2,93.5Z M137.7,92.4 L135.8,91.5 L133.8,91.2 L132.2,90.0 L130.6,88.9 L128.8,88.0 L130.5,87.9 L132.1,88.7 L133.8,88.9 L135.0,90.2 L136.4,91.2Z M310.8,62.2 L312.5,61.3 L314.3,60.7 L316.1,60.4 L317.8,60.5 L319.6,60.3 L321.3,60.5 L323.0,60.2 L324.8,60.5 L326.5,60.5 L327.8,61.7 L329.2,62.8 L327.6,63.5 L325.9,63.8 L324.6,65.0 L322.7,64.9 L321.3,65.9 L319.3,65.8 L317.4,65.8 L315.4,65.5 L313.5,65.2 L312.1,63.8Z M342.8,89.2 L344.7,89.1 L346.6,88.7 L348.7,88.1 L351.0,88.0 L353.0,87.3 L355.1,87.3 L355.7,84.8 L353.2,83.4 L351.8,81.5 L350.1,79.8 L348.9,78.5 L349.6,76.1 L347.5,74.3 L345.7,74.4 L344.0,74.3 L342.2,76.3 L342.9,78.5 L344.2,80.6 L347.1,80.8 L346.9,82.7 L347.5,83.6 L344.7,83.6 L345.4,85.4 L343.6,86.2 L345.3,86.8 L347.1,86.9 L344.9,87.5Z M342.2,85.5 L341.9,82.7 L342.9,81.3 L341.6,80.4 L340.0,80.1 L337.9,81.3 L335.3,82.0 L335.4,83.4 L334.7,86.1 L336.1,86.8 L338.7,86.2 L340.4,85.6Z M367.3,108.7 L369.4,108.5 L369.9,106.9 L369.8,105.2 L367.0,105.3 L367.4,107.0Z M367.7,104.5 L369.1,104.5 L369.3,101.7 L367.9,102.4Z M374.3,110.8 L376.0,111.1 L377.4,112.2 L379.0,112.7 L379.9,109.9 L378.1,109.9 L376.2,110.1Z M393.7,115.2 L395.3,115.6 L397.0,115.2 L398.6,115.5 L398.0,115.2 L396.3,114.9 L394.6,114.6Z M409.0,116.2 L412.0,115.7 L413.0,114.5 L410.1,115.3Z M580.8,117.6 L582.9,117.8 L585.5,117.4 L588.1,117.1 L588.7,118.5 L590.8,117.6 L591.6,116.7 L594.2,116.6 L596.5,116.0 L598.4,114.6 L598.3,112.2 L599.0,110.1 L600.5,107.8 L600.1,106.0 L599.7,104.3 L596.9,104.5 L596.2,106.9 L595.6,109.0 L593.4,110.6 L591.3,111.5 L589.5,113.2 L587.8,114.1 L584.7,114.1 L583.3,115.1 L581.7,115.7Z M579.4,117.8 L581.2,117.6 L582.7,120.1 L581.5,122.2 L579.8,122.3 L579.1,119.5Z M583.8,119.2 L585.7,118.4 L587.6,117.8 L586.9,116.9 L584.1,117.6Z M596.9,104.3 L599.0,103.8 L600.7,103.6 L602.4,103.4 L604.4,102.4 L606.5,101.3 L606.1,99.6 L604.7,98.8 L603.1,98.2 L601.5,98.0 L600.0,97.3 L599.7,99.2 L599.5,101.1 L596.9,102.5Z M600.3,96.4 L603.0,95.5 L602.7,93.8 L602.1,92.1 L602.1,90.3 L602.7,88.6 L602.6,86.8 L602.8,85.1 L602.5,83.5 L602.1,81.9 L601.2,81.9 L600.7,83.5 L601.0,85.2 L600.3,86.8 L600.3,89.0 L600.7,91.2 L600.7,93.4 L600.2,95.5Z M562.2,136.7 L563.1,134.9 L563.7,133.0 L565.5,133.2 L564.8,134.9 L564.2,136.7 L563.7,138.5 L563.2,138.5Z M542.3,143.4 L544.5,141.8 L546.3,142.7 L545.0,143.8 L543.8,145.1Z M491.9,165.6 L491.6,163.7 L492.0,161.8 L492.2,159.8 L493.0,161.4 L494.6,162.4 L495.5,163.9 L494.0,166.5Z M562.0,144.6 L563.9,144.3 L565.8,144.6 L565.5,147.2 L564.6,149.8 L565.5,152.5 L567.2,153.3 L569.0,154.2 L567.2,153.3 L565.5,153.0 L563.7,153.0 L562.9,151.6 L562.0,149.0 L561.7,146.8Z M565.5,164.7 L567.0,163.5 L569.0,163.0 L570.4,161.5 L571.6,159.8 L572.4,161.9 L573.3,163.9 L571.6,166.5 L569.0,165.6 L567.3,164.9Z M565.3,156.2 L567.4,156.9 L566.3,158.6 L565.5,158.4Z M566.2,157.9 L568.1,158.1 L567.6,161.1 L566.3,160.4Z M567.7,157.4 L569.1,157.6 L568.1,160.2Z M568.6,159.3 L570.0,159.3 L569.8,160.2 L568.6,160.2Z M569.5,156.9 L571.0,157.2 L571.0,159.5 L570.2,159.5Z M569.5,155.1 L571.9,155.5 L571.9,157.6 L570.7,157.6Z M557.3,162.1 L558.3,160.2 L559.9,158.8 L561.1,157.0 L561.6,157.7 L560.3,159.2 L559.6,161.1 L558.1,162.5Z M542.8,174.4 L543.1,176.6 L543.7,178.8 L544.4,180.3 L544.5,181.9 L547.2,182.3 L549.3,183.0 L551.5,183.1 L553.3,183.3 L555.0,183.7 L555.4,182.1 L555.9,180.5 L556.8,178.4 L557.6,176.1 L559.4,175.2 L558.9,173.4 L558.1,171.7 L559.4,170.1 L560.2,168.2 L559.3,166.9 L557.8,166.0 L556.7,164.7 L555.0,166.5 L553.3,168.2 L551.9,169.2 L550.8,170.5 L549.8,171.7 L548.0,172.6 L546.3,173.5 L544.6,174.3Z M518.9,167.2 L520.8,167.5 L522.7,167.9 L523.7,169.1 L524.6,170.5 L526.3,171.2 L527.1,172.6 L528.8,173.9 L530.4,175.3 L532.3,176.1 L533.8,177.8 L534.9,179.6 L536.5,180.7 L537.6,182.3 L537.4,183.9 L537.7,185.6 L537.2,187.2 L534.9,187.2 L533.4,186.3 L532.2,184.9 L530.6,184.0 L529.8,182.5 L529.0,181.0 L528.0,179.6 L526.8,177.9 L525.6,176.2 L524.5,174.4 L523.0,173.5 L522.1,172.1 L521.0,170.9 L520.1,169.0Z M536.2,188.9 L537.6,187.5 L539.4,187.4 L541.1,188.0 L543.3,188.3 L545.4,188.9 L547.2,188.6 L548.9,188.9 L550.8,189.5 L552.4,190.7 L552.2,192.2 L550.3,191.7 L548.3,191.6 L546.3,191.4 L544.5,191.2 L542.7,191.2 L541.1,190.7 L538.4,190.0Z M560.2,186.6 L560.9,184.9 L561.1,183.1 L559.9,181.4 L561.1,179.3 L561.6,177.0 L562.9,175.2 L564.9,175.0 L566.9,175.1 L569.0,175.2 L570.7,174.4 L569.8,176.1 L567.8,176.1 L565.8,176.4 L563.7,176.1 L562.9,178.8 L565.0,178.3 L567.2,178.6 L565.8,179.4 L564.6,180.5 L565.6,182.6 L566.3,184.9 L563.7,184.0 L562.9,186.6Z M553.3,191.5 L555.0,191.7 L556.8,191.7 L558.5,191.8 L560.2,191.4 L560.2,192.4 L558.5,192.3 L556.7,192.7 L555.0,192.0 L553.3,192.4Z M561.6,191.7 L563.5,192.0 L565.3,191.4 L567.2,191.4 L567.2,192.2 L565.4,192.6 L563.5,192.0 L561.6,192.4Z M568.1,194.9 L569.8,193.7 L571.0,191.9 L572.9,191.5 L574.7,191.7 L573.2,192.8 L571.3,193.2 L569.8,194.3Z M575.1,177.9 L575.7,175.6 L576.8,173.5 L575.9,176.1 L577.5,176.6Z M575.9,182.6 L577.6,182.6 L579.2,182.4 L580.8,182.3 L580.3,183.7 L578.3,183.3 L576.3,183.5Z M581.2,178.8 L582.9,177.9 L584.7,178.3 L586.4,178.8 L587.0,180.9 L588.1,182.8 L589.5,181.6 L591.0,180.6 L592.5,179.6 L594.1,179.9 L595.6,180.3 L597.0,181.4 L598.6,181.6 L600.2,181.9 L601.6,182.8 L603.2,183.3 L604.7,184.0 L605.8,185.6 L607.3,186.6 L609.9,187.5 L610.7,189.2 L610.8,191.0 L612.2,192.2 L613.2,193.7 L614.3,195.0 L611.7,194.9 L609.7,193.9 L608.2,192.4 L606.0,191.6 L603.8,190.7 L602.4,191.7 L601.2,193.1 L598.6,192.9 L596.7,192.4 L595.1,191.2 L593.4,191.7 L592.5,189.3 L594.2,187.5 L592.5,186.5 L590.8,185.4 L589.0,184.5 L586.4,183.7 L583.8,182.3 L582.0,180.2Z M611.3,186.6 L614.3,185.8 L616.1,185.1 L617.8,184.4 L616.9,186.6 L614.3,187.9 L612.7,187.5Z M550.6,215.5 L551.9,215.2 L553.4,214.6 L554.9,214.1 L556.2,213.1 L558.3,212.9 L560.2,212.0 L561.9,211.3 L563.7,211.2 L564.4,209.7 L565.4,208.3 L566.0,206.8 L568.1,205.9 L569.8,204.2 L571.0,202.7 L572.4,201.5 L575.1,201.9 L577.7,203.1 L579.1,200.7 L580.3,198.9 L582.0,198.4 L583.8,197.1 L586.4,198.0 L589.0,198.4 L591.3,198.4 L590.8,200.7 L589.0,203.3 L590.7,204.4 L592.5,205.4 L594.2,206.6 L596.0,207.7 L598.3,207.5 L598.5,205.3 L599.5,203.3 L599.3,201.1 L599.7,198.9 L600.5,197.3 L601.2,195.7 L602.4,197.4 L603.0,199.4 L604.7,202.1 L605.8,203.4 L606.3,205.0 L606.7,207.2 L607.3,209.4 L608.7,210.4 L610.2,211.2 L611.7,212.0 L612.9,213.9 L613.4,216.1 L615.7,216.9 L616.9,218.6 L618.5,219.9 L619.5,221.7 L619.8,223.5 L620.6,225.1 L620.6,226.9 L620.2,229.2 L619.5,231.3 L618.7,233.9 L617.4,235.0 L616.4,236.4 L615.8,238.2 L614.6,239.7 L614.3,242.7 L612.5,242.7 L610.8,243.2 L609.5,244.6 L607.8,245.5 L606.4,244.4 L604.7,243.9 L602.1,245.0 L600.3,244.8 L598.6,244.1 L596.5,242.3 L596.0,240.1 L593.4,239.4 L593.4,238.0 L592.8,234.8 L591.3,236.3 L589.9,238.0 L588.5,237.4 L587.6,235.8 L586.4,234.5 L584.8,233.5 L582.9,233.1 L581.2,232.7 L579.4,232.6 L577.7,232.4 L576.0,232.9 L574.2,233.1 L572.4,233.6 L570.6,233.9 L569.0,234.8 L567.3,235.8 L565.5,236.6 L563.7,236.7 L562.0,236.4 L560.2,237.2 L558.5,238.3 L556.7,238.0 L555.0,238.3 L553.3,237.1 L554.5,235.3 L554.7,233.1 L554.0,230.9 L553.3,228.7 L551.9,226.1 L550.3,223.4 L550.6,221.7 L550.6,219.9 L550.4,217.7Z M605.1,248.3 L607.2,248.3 L609.2,248.7 L611.3,248.7 L611.3,250.7 L610.8,252.7 L608.2,253.4 L607.3,252.0 L605.9,250.9Z M643.1,257.6 L644.4,255.6 L646.2,254.1 L647.6,253.1 L649.0,252.1 L650.6,251.5 L652.1,249.8 L653.5,248.0 L655.0,249.0 L656.7,249.7 L655.8,251.0 L654.9,252.4 L654.1,253.7 L652.4,254.6 L650.9,255.8 L649.1,257.1 L647.4,258.6 L645.3,258.1Z M438.7,198.0 L439.2,200.1 L439.7,202.1 L440.2,204.2 L439.6,206.8 L439.2,208.6 L438.1,210.2 L437.8,212.0 L437.2,213.6 L436.9,215.2 L436.3,216.7 L435.8,218.3 L435.5,219.9 L434.7,220.8 L433.0,220.9 L431.5,221.7 L429.4,219.9 L428.7,217.3 L428.2,214.7 L430.0,212.0 L429.7,210.3 L429.4,208.5 L430.3,205.6 L432.9,204.7 L434.0,203.3 L435.5,202.4 L437.3,200.7Z M178.3,56.8 L180.1,56.3 L181.8,56.8 L183.5,57.3 L186.0,55.6 L184.6,54.3 L182.7,54.5 L180.9,55.0 L179.2,55.2Z M213.2,49.8 L215.2,50.3 L217.2,50.5 L219.3,49.8 L217.5,47.9 L215.8,47.8 L214.1,48.4 L212.3,48.2Z M207.1,67.5 L209.3,67.9 L211.4,67.3 L209.7,66.1 L207.9,66.3 L206.2,66.6Z M209.7,84.1 L212.1,84.5 L211.4,83.8Z M240.2,89.8 L241.8,90.0 L243.3,90.6 L244.9,90.8 L243.7,90.1 L241.1,89.4Z M240.7,95.5 L242.6,96.2 L244.6,96.4 L243.7,95.5Z M245.4,97.1 L248.1,96.6 L247.2,94.7 L246.0,95.4Z M53.1,65.9 L54.7,65.7 L56.3,66.4 L58.0,66.3 L58.3,65.7 L55.9,65.7 L53.6,65.2Z M82.7,76.6 L84.9,76.8 L87.1,76.3 L85.3,75.2 L83.3,75.6Z M61.8,71.9 L64.1,72.1 L63.5,71.2Z M215.8,134.4 L217.5,132.3 L219.6,132.8 L218.1,133.7 L217.0,135.0Z M218.4,130.6 L216.7,130.7 L215.1,130.2 L216.3,129.9Z M245.8,266.9 L247.7,266.9 L249.6,266.4 L251.5,266.7 L250.7,268.1 L248.9,268.4 L247.2,268.5Z M223.3,250.2 L224.5,250.2 L224.3,252.9 L223.1,252.7Z M230.6,269.3 L233.2,269.2 L234.1,270.7 L235.8,271.2 L237.2,272.4 L238.8,273.0 L237.0,273.8 L235.1,274.0 L233.2,274.2 L231.4,274.0 L229.8,273.2 L228.0,273.0 L226.3,271.9 L224.5,270.7 L226.5,269.9 L228.6,269.9Z M371.9,80.3 L374.7,79.6 L374.2,78.7 L372.4,79.1Z M384.3,77.3 L385.7,76.4 L385.1,75.6Z M356.9,107.8 L358.8,107.4 L358.1,107.1Z M491.9,165.6 L491.9,163.7 L492.1,161.8 L492.2,159.8 L493.3,161.2 L494.4,162.6 L495.5,163.9 L494.0,166.5Z M562.5,155.5 L564.6,153.3 L564.1,155.6Z M552.4,191.4 L554.3,191.4 L556.2,191.5 L555.9,192.6 L554.1,192.3 L552.4,192.4Z M556.4,191.7 L558.5,191.2 L560.6,191.4 L560.2,192.6 L558.5,192.5 L556.7,192.8Z M560.6,193.6 L563.4,193.8 L562.9,194.9 L560.8,194.3Z M572.4,182.4 L574.5,182.6 L573.8,183.7 L572.6,183.3Z M615.2,181.6 L616.9,182.6 L618.7,183.7 L619.9,185.1 L618.3,184.5 L617.0,182.8Z M622.3,186.1 L623.3,187.4 L624.6,188.4 L623.9,188.9 L622.5,187.2Z M625.6,190.1 L627.1,190.9 L628.8,191.1 L630.3,191.9 L631.7,192.8 L634.4,193.8 L632.6,194.5 L631.1,193.7 L629.7,192.9 L628.0,192.6 L626.5,191.9Z M643.1,203.6 L644.5,204.2 L644.6,206.1 L646.4,208.2 L646.2,207.3 L645.2,205.9 L643.9,204.7Z M638.7,212.4 L640.4,213.6 L642.2,214.7 L644.1,216.2 L643.1,215.9 L641.0,214.9 L639.2,213.4Z M661.9,207.7 L664.2,207.3 L664.0,208.9 L662.3,208.9Z M606.5,100.8 L609.1,99.4 L611.7,97.6 L614.3,95.9 L614.6,96.2 L613.0,97.5 L611.2,98.6 L609.4,99.7Z M514.2,156.9 L514.9,154.4 L514.5,153.3 L514.0,156.0Z M341.5,75.0 L342.2,76.3 L341.4,77.1 L339.6,76.3 L340.8,74.9Z"/></clipPath>
<filter id="fLR" x="37" y="15" width="616" height="265" filterUnits="userSpaceOnUse" color-interpolation-filters="sRGB">
<feGaussianBlur in="SourceAlpha" stdDeviation="2.5" result="d"/>
<feTurbulence type="fractalNoise" baseFrequency="0.55" numOctaves="1" seed="11" result="n1"/>
<feColorMatrix in="n1" type="matrix" values="0 0 0 0 0 0 0 0 0 0 0 0 0 0 0 1 0 0 0 0" result="a1"/>
<feTurbulence type="fractalNoise" baseFrequency="0.12" numOctaves="2" seed="111" result="n2"/>
<feColorMatrix in="n2" type="matrix" values="0 0 0 0 0 0 0 0 0 0 0 0 0 0 0 1 0 0 0 0" result="a2"/>
<feComposite in="a1" in2="a2" operator="arithmetic" k2="0.7" k3="0.30000000000000004" result="n"/>
<feColorMatrix in="n" type="matrix" values="0 0 0 0 0 0 0 0 0 0 0 0 0 0 0 0 0 0 4 -1.5" result="na"/>
<feComposite in="d" in2="na" operator="arithmetic" k1="0" k2="1" k3="-1" k4="0.499" result="c"/>
<feComponentTransfer in="c" result="t"><feFuncA type="discrete" tableValues="0 1"/></feComponentTransfer>
<feFlood flood-color="#e8797b"/><feComposite in2="t" operator="in"/><feConvolveMatrix order="3" kernelMatrix="1 2 1 2 6 2 1 2 1" divisor="18"/></filter>
<filter id="fLB" x="37" y="15" width="616" height="265" filterUnits="userSpaceOnUse" color-interpolation-filters="sRGB">
<feGaussianBlur in="SourceAlpha" stdDeviation="2.5" result="d"/>
<feTurbulence type="fractalNoise" baseFrequency="0.55" numOctaves="1" seed="23" result="n1"/>
<feColorMatrix in="n1" type="matrix" values="0 0 0 0 0 0 0 0 0 0 0 0 0 0 0 1 0 0 0 0" result="a1"/>
<feTurbulence type="fractalNoise" baseFrequency="0.12" numOctaves="2" seed="123" result="n2"/>
<feColorMatrix in="n2" type="matrix" values="0 0 0 0 0 0 0 0 0 0 0 0 0 0 0 1 0 0 0 0" result="a2"/>
<feComposite in="a1" in2="a2" operator="arithmetic" k2="0.7" k3="0.30000000000000004" result="n"/>
<feColorMatrix in="n" type="matrix" values="0 0 0 0 0 0 0 0 0 0 0 0 0 0 0 0 0 0 4 -1.5" result="na"/>
<feComposite in="d" in2="na" operator="arithmetic" k1="0" k2="1" k3="-1" k4="0.499" result="c"/>
<feComponentTransfer in="c" result="t"><feFuncA type="discrete" tableValues="0 1"/></feComponentTransfer>
<feFlood flood-color="#6c9fd4"/><feComposite in2="t" operator="in"/><feConvolveMatrix order="3" kernelMatrix="1 2 1 2 6 2 1 2 1" divisor="18"/></filter>
<filter id="fDR" x="37" y="15" width="616" height="265" filterUnits="userSpaceOnUse" color-interpolation-filters="sRGB">
<feGaussianBlur in="SourceAlpha" stdDeviation="2.5" result="d"/>
<feTurbulence type="fractalNoise" baseFrequency="0.55" numOctaves="1" seed="37" result="n1"/>
<feColorMatrix in="n1" type="matrix" values="0 0 0 0 0 0 0 0 0 0 0 0 0 0 0 1 0 0 0 0" result="a1"/>
<feTurbulence type="fractalNoise" baseFrequency="0.12" numOctaves="2" seed="137" result="n2"/>
<feColorMatrix in="n2" type="matrix" values="0 0 0 0 0 0 0 0 0 0 0 0 0 0 0 1 0 0 0 0" result="a2"/>
<feComposite in="a1" in2="a2" operator="arithmetic" k2="0.7" k3="0.30000000000000004" result="n"/>
<feColorMatrix in="n" type="matrix" values="0 0 0 0 0 0 0 0 0 0 0 0 0 0 0 0 0 0 4 -1.5" result="na"/>
<feComposite in="d" in2="na" operator="arithmetic" k1="0" k2="1" k3="-1" k4="0.499" result="c"/>
<feComponentTransfer in="c" result="t"><feFuncA type="discrete" tableValues="0 1"/></feComponentTransfer>
<feFlood flood-color="#b8192b"/><feComposite in2="t" operator="in"/><feConvolveMatrix order="3" kernelMatrix="1 2 1 2 6 2 1 2 1" divisor="18"/></filter>
<filter id="fDB" x="37" y="15" width="616" height="265" filterUnits="userSpaceOnUse" color-interpolation-filters="sRGB">
<feGaussianBlur in="SourceAlpha" stdDeviation="2.5" result="d"/>
<feTurbulence type="fractalNoise" baseFrequency="0.55" numOctaves="1" seed="51" result="n1"/>
<feColorMatrix in="n1" type="matrix" values="0 0 0 0 0 0 0 0 0 0 0 0 0 0 0 1 0 0 0 0" result="a1"/>
<feTurbulence type="fractalNoise" baseFrequency="0.12" numOctaves="2" seed="151" result="n2"/>
<feColorMatrix in="n2" type="matrix" values="0 0 0 0 0 0 0 0 0 0 0 0 0 0 0 1 0 0 0 0" result="a2"/>
<feComposite in="a1" in2="a2" operator="arithmetic" k2="0.7" k3="0.30000000000000004" result="n"/>
<feColorMatrix in="n" type="matrix" values="0 0 0 0 0 0 0 0 0 0 0 0 0 0 0 0 0 0 4 -1.5" result="na"/>
<feComposite in="d" in2="na" operator="arithmetic" k1="0" k2="1" k3="-1" k4="0.499" result="c"/>
<feComponentTransfer in="c" result="t"><feFuncA type="discrete" tableValues="0 1"/></feComponentTransfer>
<feFlood flood-color="#1c5cad"/><feComposite in2="t" operator="in"/><feConvolveMatrix order="3" kernelMatrix="1 2 1 2 6 2 1 2 1" divisor="18"/></filter>
</defs>
<g clip-path="url(#mclip)">
<path d="M59.7,62.1 L61.3,61.1 L63.2,60.8 L65.0,60.9 L66.7,60.3 L68.4,61.1 L70.2,61.4 L71.0,59.8 L69.1,59.5 L67.2,58.7 L65.6,58.3 L63.9,57.9 L62.3,57.3 L63.2,56.1 L65.0,55.7 L66.8,55.2 L68.4,54.4 L70.1,53.5 L71.8,53.0 L73.7,53.0 L75.6,53.0 L77.4,52.3 L79.2,52.1 L80.8,52.6 L82.6,52.1 L84.1,52.8 L85.9,52.8 L87.6,53.0 L89.3,53.4 L91.1,53.0 L92.8,53.5 L94.5,54.1 L96.3,54.2 L98.1,53.5 L99.8,54.2 L101.6,53.9 L103.3,54.6 L105.0,55.1 L106.8,54.9 L108.6,55.1 L110.3,55.2 L112.0,55.8 L113.8,55.5 L115.5,54.9 L117.3,55.2 L119.0,54.9 L120.7,55.1 L122.5,54.8 L124.2,54.6 L126.0,54.4 L127.7,53.7 L129.5,53.5 L131.3,54.1 L133.0,55.2 L134.7,55.0 L136.4,55.4 L138.2,55.4 L139.9,55.2 L141.7,54.9 L143.4,55.4 L145.1,55.9 L146.9,55.8 L148.6,56.1 L150.4,56.1 L152.2,56.2 L153.8,57.3 L155.6,57.2 L157.3,57.8 L159.2,57.3 L160.9,57.9 L162.6,57.6 L164.4,57.9 L166.1,57.5 L167.8,57.8 L169.6,58.2 L171.3,57.9 L173.1,58.0 L174.8,58.5 L176.6,58.4 L178.3,58.5 L180.0,58.1 L181.8,58.2 L183.5,57.9 L185.3,57.5 L185.2,55.4 L184.4,53.5 L186.4,52.4 L187.9,50.9 L190.1,51.7 L192.3,52.6 L193.1,55.2 L194.8,55.9 L196.6,56.5 L198.3,57.5 L199.2,59.3 L200.9,58.5 L202.7,58.2 L203.9,56.7 L204.5,54.9 L206.2,55.2 L208.0,55.4 L209.7,56.1 L210.6,58.7 L209.2,59.8 L207.9,61.0 L206.2,60.6 L204.5,60.5 L202.7,60.5 L201.5,61.6 L200.1,62.6 L199.2,64.0 L197.1,64.9 L194.9,65.7 L193.1,66.9 L191.4,68.0 L189.9,68.8 L188.8,70.0 L188.6,72.0 L188.4,74.0 L190.5,76.3 L192.3,77.0 L194.0,77.2 L195.7,77.7 L197.5,78.0 L199.4,78.1 L201.1,78.6 L202.7,79.6 L204.3,80.0 L205.9,80.5 L207.5,80.3 L209.2,80.5 L209.3,83.3 L210.6,85.0 L211.9,86.0 L213.2,87.1 L214.9,86.2 L214.8,84.3 L215.3,82.4 L214.1,80.6 L215.5,79.9 L217.2,79.5 L218.4,78.4 L219.3,76.3 L217.5,74.5 L217.0,71.9 L217.5,69.3 L216.3,67.9 L218.2,68.2 L220.0,68.0 L221.9,68.0 L223.6,68.6 L225.4,68.2 L227.1,68.7 L228.9,69.4 L230.6,70.1 L231.5,72.8 L233.2,74.5 L235.9,74.7 L237.4,74.1 L238.5,72.8 L240.2,71.4 L241.0,73.0 L242.0,74.5 L244.6,76.3 L246.3,78.4 L248.9,80.1 L250.7,80.8 L252.4,81.5 L255.0,83.3 L255.6,85.5 L253.3,86.9 L251.2,88.0 L248.9,88.5 L247.2,88.7 L245.4,88.4 L243.7,89.0 L242.0,89.6 L240.2,88.9 L238.5,88.9 L236.7,89.2 L235.0,90.0 L233.7,91.1 L232.4,92.4 L234.2,92.2 L235.9,91.5 L237.6,91.0 L240.7,91.5 L238.5,92.9 L239.7,94.7 L241.1,96.1 L242.8,96.4 L244.6,96.6 L246.3,96.9 L248.1,96.1 L245.4,97.8 L243.8,98.8 L242.0,98.9 L239.7,99.3 L237.8,100.4 L237.6,99.6 L235.9,98.9 L233.2,99.6 L230.6,100.4 L229.4,102.2 L230.6,103.8 L228.9,104.3 L226.3,104.8 L223.6,105.9 L223.6,107.3 L221.9,109.0 L221.4,110.4 L220.2,112.2 L220.9,114.8 L219.3,116.2 L216.8,117.6 L214.6,118.8 L213.1,119.7 L211.8,120.8 L210.7,123.6 L211.7,125.3 L212.1,127.2 L212.6,128.9 L213.0,130.6 L212.5,132.8 L211.3,133.0 L210.0,131.3 L208.5,128.8 L208.3,126.2 L206.2,124.4 L203.9,125.0 L201.8,123.7 L199.2,123.6 L196.6,124.1 L197.0,126.2 L194.9,126.0 L192.3,125.1 L190.5,125.2 L188.8,125.1 L187.0,125.8 L185.4,127.2 L183.5,128.3 L183.3,129.9 L182.8,131.4 L182.5,133.2 L182.3,135.0 L182.1,138.1 L183.2,140.9 L184.9,143.4 L186.3,144.3 L187.9,145.1 L189.7,144.9 L191.4,144.4 L194.0,144.1 L194.9,142.0 L195.2,140.2 L197.2,139.7 L199.2,139.3 L201.3,139.5 L200.3,142.0 L199.6,144.8 L199.6,146.5 L198.7,148.1 L197.8,149.3 L201.0,149.3 L202.7,149.0 L204.5,149.1 L207.3,150.4 L206.9,153.3 L207.2,155.1 L206.9,156.9 L207.1,158.1 L208.8,160.2 L210.9,161.6 L213.5,160.4 L215.8,160.5 L217.7,161.9 L217.4,163.0 L216.1,162.5 L214.1,161.4 L212.8,162.8 L212.5,164.2 L211.1,163.5 L208.8,162.6 L206.7,161.9 L204.5,159.8 L203.1,158.4 L202.3,157.0 L201.3,155.6 L200.1,154.2 L198.4,153.4 L196.6,153.3 L194.9,152.6 L193.1,152.5 L192.0,150.9 L190.5,149.8 L187.9,148.6 L186.1,148.7 L184.4,149.5 L182.6,149.3 L180.9,148.6 L178.3,147.2 L175.7,146.0 L174.0,145.1 L172.2,144.9 L171.0,143.8 L169.6,142.8 L168.7,141.1 L169.1,139.2 L167.8,137.1 L166.2,135.8 L165.2,134.1 L163.6,133.3 L162.6,131.8 L160.9,129.7 L159.1,128.1 L157.0,126.2 L155.8,124.4 L155.5,122.3 L152.5,121.3 L153.0,124.1 L154.0,125.5 L155.3,126.5 L156.8,128.8 L158.2,131.4 L159.3,132.9 L159.8,134.6 L161.2,136.5 L161.0,136.9 L160.0,135.7 L157.7,134.1 L157.2,132.3 L155.7,131.5 L154.8,130.0 L153.5,128.5 L153.9,127.8 L152.9,126.5 L151.8,125.3 L150.4,123.6 L149.2,121.5 L148.5,120.1 L146.4,117.8 L144.3,116.7 L142.4,116.4 L141.7,114.6 L139.9,112.4 L139.1,110.8 L138.2,109.9 L136.8,107.3 L135.9,106.2 L136.3,103.8 L135.6,102.0 L136.4,99.0 L136.4,96.1 L135.9,93.8 L135.2,92.2 L138.2,92.4 L138.5,91.2 L137.3,90.3 L134.7,88.9 L132.5,88.4 L130.3,87.6 L129.5,85.5 L127.9,84.7 L126.9,83.3 L125.1,81.5 L124.2,79.8 L122.7,78.9 L121.6,77.5 L120.3,76.2 L119.0,75.0 L117.2,75.2 L115.5,74.7 L112.9,74.0 L111.1,73.5 L109.4,72.6 L107.7,72.0 L105.9,71.9 L103.7,71.9 L101.6,71.9 L99.3,71.4 L97.2,70.7 L94.6,71.0 L92.0,71.9 L90.2,72.9 L88.0,73.3 L89.4,70.7 L91.1,69.8 L89.4,70.4 L87.6,71.0 L86.6,72.4 L85.0,73.1 L83.8,75.0 L82.3,75.8 L80.6,76.4 L78.9,77.3 L77.1,78.0 L75.5,79.0 L73.7,79.4 L72.0,80.4 L70.2,80.6 L68.5,80.5 L66.9,81.2 L65.3,81.5 L66.7,80.5 L68.4,80.1 L70.6,79.4 L72.8,78.5 L74.7,77.9 L76.3,76.8 L77.3,75.2 L78.9,74.3 L76.3,74.0 L74.5,74.5 L72.8,74.0 L70.2,72.4 L68.3,72.3 L66.7,71.5 L64.4,70.1 L64.6,67.5 L65.8,66.3 L67.9,66.3 L69.9,65.6 L71.9,65.7 L72.3,64.0 L69.3,64.2 L67.1,63.9 L64.9,64.0 L62.3,63.5 L60.6,62.8Z M217.7,161.9 L218.8,163.0 L219.8,160.7 L220.9,158.8 L222.2,157.7 L224.9,157.2 L226.8,156.2 L228.4,155.3 L227.8,157.7 L228.9,157.2 L230.3,156.7 L230.6,155.6 L231.1,156.9 L233.6,157.9 L235.4,158.6 L237.2,158.4 L239.2,158.8 L241.1,158.4 L242.9,157.9 L244.7,158.3 L244.6,159.5 L246.3,160.4 L247.2,162.1 L248.4,162.5 L250.7,164.2 L252.1,165.1 L252.9,166.5 L254.9,166.8 L256.8,166.5 L258.9,167.0 L261.5,168.4 L262.9,169.6 L263.8,171.7 L265.5,173.8 L265.7,175.9 L264.6,177.0 L266.3,177.9 L268.1,178.4 L270.7,178.1 L272.1,179.2 L273.7,180.0 L275.1,181.2 L277.3,181.6 L279.5,181.9 L281.6,182.2 L283.8,182.3 L285.1,183.4 L286.7,184.1 L287.8,185.4 L289.5,185.8 L291.1,186.3 L291.7,187.9 L292.0,189.6 L291.7,192.4 L290.2,193.8 L289.0,195.4 L287.6,196.9 L287.0,198.9 L284.9,200.7 L284.4,202.8 L284.7,205.0 L284.3,208.2 L283.8,209.8 L283.3,211.5 L282.5,213.5 L281.5,215.5 L279.5,217.1 L277.3,217.7 L275.1,217.8 L273.5,218.8 L271.6,219.0 L270.3,220.7 L268.5,221.7 L268.2,223.9 L267.9,226.1 L267.0,227.5 L265.8,228.7 L264.9,230.1 L263.8,231.3 L261.7,233.6 L260.3,234.6 L259.6,236.0 L258.2,237.6 L255.9,238.0 L253.3,237.4 L250.9,236.6 L251.0,238.0 L252.9,239.4 L253.8,240.8 L252.4,243.6 L249.8,244.8 L247.6,245.0 L245.4,245.3 L244.0,246.2 L244.2,248.0 L241.4,249.0 L239.3,248.5 L239.3,250.6 L241.6,251.6 L240.0,252.3 L239.0,255.0 L237.5,255.5 L236.0,256.2 L234.8,258.3 L236.3,259.1 L237.6,260.2 L237.8,261.1 L236.6,262.5 L235.0,263.2 L233.2,265.0 L232.2,267.6 L233.4,268.6 L233.2,269.9 L235.0,271.6 L237.0,272.2 L238.8,273.0 L235.9,273.4 L233.2,273.9 L230.6,273.4 L228.0,272.1 L226.5,271.2 L225.4,269.9 L222.8,268.6 L222.3,267.1 L221.9,265.5 L222.1,263.7 L221.4,262.0 L222.3,260.6 L222.9,259.0 L221.0,258.5 L222.8,256.7 L224.0,254.1 L225.4,252.3 L223.6,251.5 L224.0,249.7 L223.8,247.9 L224.2,246.2 L224.7,244.5 L224.5,242.7 L225.5,241.1 L226.1,239.2 L227.1,237.5 L227.7,235.7 L228.2,233.1 L228.5,231.3 L228.0,229.6 L228.3,227.8 L228.2,226.1 L229.0,224.4 L229.4,222.6 L229.5,220.3 L229.9,218.2 L230.5,216.0 L230.3,213.8 L230.6,211.6 L230.1,209.4 L228.4,207.8 L226.7,207.1 L225.4,205.9 L223.6,204.7 L221.6,203.8 L220.7,202.4 L219.6,201.2 L218.8,199.6 L218.1,198.0 L217.2,196.3 L216.3,194.5 L215.4,192.7 L214.4,190.8 L213.4,189.1 L211.1,187.5 L210.9,185.2 L212.7,183.0 L213.2,181.4 L211.6,180.9 L211.8,178.8 L213.0,177.0 L213.2,175.4 L214.9,174.7 L215.3,173.8 L217.0,172.4 L217.9,170.3 L217.7,167.4 L217.5,165.3 L216.8,164.0Z M409.0,122.2 L406.8,121.6 L405.0,122.2 L403.3,122.9 L401.5,122.6 L399.8,122.0 L396.6,121.6 L394.6,120.9 L392.8,119.9 L391.1,119.7 L389.3,119.5 L387.6,120.9 L387.6,122.7 L385.8,123.9 L384.1,123.0 L382.3,122.8 L380.6,122.3 L379.4,120.4 L377.4,119.8 L375.4,119.4 L372.8,118.8 L371.0,117.8 L370.5,116.6 L371.9,115.3 L371.0,113.1 L371.9,112.2 L370.1,111.8 L367.5,112.4 L365.8,112.2 L364.0,112.2 L361.4,112.7 L359.7,112.9 L357.9,112.5 L356.2,113.1 L354.4,113.1 L352.6,113.5 L351.0,114.5 L348.9,115.5 L345.7,115.3 L343.5,114.1 L342.2,114.3 L341.7,115.9 L340.8,117.4 L339.4,118.2 L337.9,118.7 L336.0,120.9 L335.6,123.6 L336.0,125.3 L334.4,126.5 L332.6,127.6 L330.0,128.6 L328.5,129.8 L327.4,131.4 L326.3,133.4 L325.1,135.3 L324.3,136.8 L323.9,138.5 L323.1,140.2 L324.4,142.8 L323.9,145.5 L323.9,147.2 L323.9,149.0 L322.4,151.2 L323.4,153.3 L323.6,155.1 L325.7,156.7 L327.1,158.1 L329.2,160.0 L329.7,161.4 L330.9,163.9 L333.5,165.1 L334.8,166.3 L336.1,167.4 L338.0,168.1 L339.6,169.3 L341.4,168.8 L343.1,168.1 L345.7,167.9 L347.4,168.5 L349.2,168.6 L351.0,167.9 L352.7,167.2 L355.3,166.1 L357.9,165.8 L360.5,166.0 L361.5,167.7 L362.6,169.3 L364.9,169.3 L367.5,168.9 L368.7,170.2 L369.8,172.6 L369.1,175.2 L368.9,177.9 L368.0,178.8 L369.0,180.4 L370.1,181.9 L372.1,183.8 L373.6,185.8 L374.2,187.7 L375.1,189.7 L375.4,191.9 L375.6,193.7 L376.2,195.4 L375.3,197.6 L374.5,199.8 L374.1,202.0 L373.5,204.2 L373.3,207.3 L374.5,209.4 L375.5,211.0 L375.6,213.0 L376.5,214.7 L377.1,216.4 L378.0,217.3 L378.1,219.1 L378.3,220.8 L378.8,222.6 L379.2,224.3 L380.1,226.0 L381.5,227.3 L382.4,229.3 L383.2,231.3 L384.4,233.9 L384.8,236.6 L386.7,237.8 L387.6,238.0 L389.4,237.5 L391.1,236.6 L392.8,236.5 L394.6,236.9 L396.3,236.6 L398.9,236.0 L401.5,234.5 L403.0,233.5 L404.1,232.2 L405.9,229.6 L407.6,227.8 L409.2,226.9 L409.4,224.9 L410.1,222.9 L411.1,221.3 L412.6,220.0 L414.4,219.0 L414.3,217.3 L414.6,215.5 L413.7,212.9 L415.3,211.8 L416.4,210.3 L417.6,208.9 L419.0,207.7 L420.8,206.6 L422.5,205.4 L423.0,203.4 L423.9,201.5 L423.7,199.8 L423.4,198.0 L423.3,196.3 L422.7,194.6 L422.2,192.7 L421.6,191.0 L421.1,188.4 L420.4,186.6 L421.6,184.9 L422.8,182.3 L424.2,180.5 L425.9,178.4 L427.3,177.1 L428.6,175.8 L430.1,174.8 L431.2,173.5 L432.4,172.4 L433.7,171.4 L434.7,170.0 L436.2,168.4 L437.3,166.5 L438.5,164.9 L439.2,163.0 L440.4,161.3 L441.3,159.5 L441.5,157.8 L442.2,156.3 L440.5,156.4 L439.0,157.0 L437.2,157.0 L435.5,157.6 L433.3,157.9 L431.2,158.8 L428.6,157.0 L428.2,155.1 L426.8,153.3 L425.1,152.5 L423.8,151.1 L422.5,149.8 L420.7,148.1 L419.0,145.5 L417.8,142.8 L417.6,140.2 L416.9,138.5 L415.9,137.0 L414.8,135.8 L413.7,133.2 L412.0,130.6 L411.1,128.8 L410.1,126.8 L409.6,124.6Z M409.6,124.6 L410.6,126.0 L411.1,127.6 L412.5,128.3 L413.4,126.4 L413.7,125.3 L413.7,127.9 L415.4,129.5 L416.4,131.4 L417.3,132.9 L418.1,134.4 L419.3,135.6 L420.2,136.9 L420.7,138.5 L421.2,140.2 L422.4,141.9 L423.3,143.7 L423.8,145.7 L425.1,147.2 L426.0,149.1 L427.3,150.7 L427.5,152.5 L428.2,154.2 L430.3,154.7 L432.9,153.5 L435.0,152.7 L437.3,152.5 L439.9,151.1 L441.8,150.4 L443.7,149.7 L445.2,148.4 L446.9,147.6 L449.5,146.3 L451.8,144.4 L453.5,142.8 L454.7,141.1 L455.6,139.2 L457.0,137.8 L455.2,135.7 L452.1,135.1 L450.9,133.4 L450.9,130.9 L449.5,132.3 L447.7,134.6 L446.0,135.0 L444.3,134.6 L442.7,134.1 L442.2,131.3 L441.6,133.2 L440.8,132.3 L439.9,130.4 L438.2,128.3 L436.9,126.5 L436.4,124.4 L438.2,123.9 L440.2,124.8 L441.6,126.4 L442.5,128.3 L444.1,129.6 L446.0,130.0 L447.7,130.5 L449.5,130.4 L452.1,131.8 L453.8,132.4 L455.6,132.5 L457.7,133.1 L460.0,133.0 L462.1,132.5 L464.3,132.7 L466.5,132.4 L468.7,132.5 L470.4,135.0 L472.7,137.1 L474.8,137.1 L473.0,137.8 L474.3,139.2 L475.7,140.6 L477.4,140.6 L479.1,140.2 L479.1,142.0 L479.7,143.7 L479.7,146.0 L480.5,148.1 L481.8,150.7 L482.8,152.5 L483.2,154.6 L483.9,156.2 L484.9,157.7 L485.3,159.5 L486.1,161.2 L487.9,162.8 L489.1,161.4 L490.5,160.7 L492.0,159.0 L491.9,156.0 L492.7,153.3 L492.6,151.6 L492.4,149.8 L494.3,148.1 L496.2,147.2 L497.5,145.8 L499.2,144.9 L500.6,143.9 L501.9,142.6 L503.6,142.0 L504.4,139.3 L507.0,139.0 L509.7,138.5 L512.3,137.6 L513.5,140.2 L514.9,142.3 L516.6,144.6 L517.5,147.6 L518.7,149.3 L521.0,148.1 L522.7,148.1 L523.3,151.1 L523.5,152.8 L524.5,154.2 L524.2,156.4 L524.7,158.6 L524.3,160.3 L524.1,162.1 L524.1,163.3 L525.7,164.3 L527.1,165.6 L527.6,168.2 L527.8,170.1 L528.8,171.7 L530.1,172.8 L531.5,173.7 L533.2,174.7 L534.4,174.4 L534.1,172.1 L533.0,170.0 L532.3,167.4 L530.6,166.1 L529.5,164.9 L528.0,164.2 L527.1,162.5 L525.9,160.4 L525.7,158.6 L526.2,156.0 L527.1,153.5 L528.0,153.3 L528.8,154.7 L531.5,156.0 L532.3,157.7 L534.9,158.6 L535.8,161.2 L535.5,161.9 L537.0,161.2 L538.4,160.4 L539.7,158.6 L541.2,157.7 L542.8,156.9 L543.3,154.2 L543.2,152.5 L542.8,150.7 L541.1,148.6 L539.8,147.3 L538.6,145.8 L537.2,143.7 L538.4,141.1 L540.2,139.3 L541.9,139.2 L543.8,139.3 L545.4,141.4 L544.9,140.2 L547.2,139.3 L548.8,138.4 L550.6,138.1 L552.4,137.6 L554.1,137.0 L555.9,136.7 L557.4,135.6 L558.5,134.1 L559.5,132.4 L561.1,131.4 L562.0,128.8 L562.9,126.8 L564.6,125.3 L565.1,122.7 L563.7,120.9 L562.9,118.3 L561.1,116.6 L562.0,114.8 L563.7,112.5 L566.3,111.8 L564.6,111.2 L562.9,110.8 L560.2,111.8 L558.5,109.5 L558.1,108.3 L560.2,107.8 L561.9,106.5 L563.7,105.5 L564.1,107.1 L564.6,108.7 L564.1,109.0 L566.3,107.8 L569.3,107.1 L570.7,107.8 L571.0,110.4 L573.3,111.3 L573.0,113.9 L573.3,116.6 L575.1,116.4 L577.7,115.5 L578.5,113.9 L578.2,111.3 L576.8,109.5 L575.1,107.3 L576.8,106.4 L578.5,105.5 L579.4,102.9 L582.0,102.0 L584.7,102.0 L586.8,101.0 L589.0,100.3 L591.1,99.2 L592.5,97.3 L594.2,94.7 L595.6,93.1 L597.4,92.0 L597.7,89.4 L597.9,87.6 L598.3,85.9 L599.1,83.8 L597.4,83.4 L596.0,82.4 L594.2,82.3 L592.5,82.4 L590.8,81.0 L588.7,80.6 L590.0,79.2 L591.6,78.0 L593.3,76.8 L595.2,76.1 L596.9,74.9 L598.5,73.9 L600.3,73.3 L602.1,73.2 L603.9,73.5 L605.6,72.9 L607.6,72.6 L609.7,72.6 L611.7,73.1 L613.9,73.1 L616.0,73.6 L618.7,72.8 L620.4,73.3 L622.1,73.3 L623.0,71.0 L624.8,70.1 L626.5,68.9 L628.2,68.6 L630.0,68.6 L631.7,68.7 L633.7,68.1 L635.8,68.1 L637.8,67.9 L637.0,69.5 L635.4,70.4 L634.4,71.9 L632.4,72.7 L630.6,73.8 L629.1,75.4 L627.3,76.1 L625.6,77.1 L624.6,78.7 L624.4,80.6 L625.1,82.3 L624.8,84.1 L625.6,85.8 L626.0,87.6 L628.3,85.9 L629.6,84.1 L631.7,82.0 L633.5,82.0 L634.9,81.0 L635.2,78.5 L637.5,78.0 L636.1,76.3 L637.8,74.5 L639.7,73.6 L641.3,72.2 L643.3,72.1 L645.3,72.5 L647.2,72.1 L649.2,71.9 L651.1,71.4 L652.6,70.2 L654.4,69.6 L656.1,68.8 L657.9,68.5 L659.5,67.7 L661.4,67.5 L663.1,67.6 L664.9,67.9 L666.5,67.0 L667.4,65.4 L668.5,63.9 L670.1,63.1 L669.7,61.4 L669.8,59.6 L670.4,57.9 L670.1,56.1 L668.3,56.0 L666.6,55.9 L664.8,55.9 L663.2,54.8 L661.4,55.2 L659.6,55.2 L657.9,54.7 L656.1,55.0 L654.4,54.9 L652.6,54.7 L650.9,54.1 L649.2,54.2 L647.5,54.7 L645.7,55.0 L643.9,54.7 L642.2,55.1 L640.5,55.1 L638.8,54.3 L636.9,54.9 L635.2,54.3 L633.5,53.8 L631.7,53.8 L630.0,53.7 L628.3,52.9 L626.5,53.1 L624.7,53.1 L623.0,52.6 L621.3,52.5 L619.5,52.7 L617.8,52.2 L616.0,52.2 L614.3,51.7 L612.6,51.1 L610.9,50.8 L609.1,50.9 L607.2,51.1 L605.6,50.3 L603.8,50.5 L602.1,50.4 L600.3,50.4 L598.6,50.3 L596.9,50.0 L595.1,49.9 L593.4,51.0 L591.7,51.4 L589.8,50.8 L588.1,51.6 L586.4,51.7 L584.6,51.5 L582.9,52.3 L581.1,52.0 L579.4,52.6 L577.8,51.2 L575.9,50.0 L574.3,49.1 L572.5,48.6 L570.7,48.2 L569.0,48.4 L567.3,49.0 L565.5,49.0 L563.7,48.6 L562.0,49.1 L560.3,48.5 L558.5,48.3 L556.7,48.6 L555.0,48.1 L553.3,48.1 L551.5,47.6 L549.8,47.7 L548.0,47.7 L546.2,47.6 L544.5,48.1 L542.8,48.2 L541.1,48.6 L539.9,47.4 L538.4,46.5 L539.8,45.2 L541.6,44.7 L542.8,43.3 L541.2,42.3 L539.2,42.6 L537.6,41.6 L534.6,40.9 L532.6,40.9 L530.7,41.5 L528.9,42.3 L527.1,43.0 L525.4,43.7 L523.5,43.2 L521.9,43.8 L520.1,44.3 L518.3,43.6 L516.6,44.2 L514.9,44.2 L513.2,44.9 L511.4,44.9 L509.7,44.7 L507.9,45.2 L506.2,45.8 L504.4,46.5 L503.6,48.2 L501.6,47.9 L499.7,47.6 L497.7,48.2 L495.7,47.9 L494.7,49.3 L493.1,50.0 L493.1,51.7 L491.0,50.6 L488.7,50.3 L486.9,50.5 L485.3,49.4 L483.5,49.5 L482.4,50.9 L480.9,51.7 L479.7,53.8 L479.1,56.1 L479.9,54.0 L480.0,51.7 L479.1,49.5 L477.4,49.1 L475.7,49.4 L473.9,49.5 L472.7,50.8 L472.2,52.6 L471.1,54.5 L469.5,56.1 L467.8,55.8 L466.0,55.9 L464.3,55.6 L462.3,54.9 L460.3,54.7 L458.2,54.7 L456.9,55.9 L455.6,57.0 L453.9,57.0 L452.1,57.5 L450.4,57.6 L448.6,57.2 L446.0,56.3 L444.4,56.6 L442.9,57.1 L441.2,57.1 L439.7,57.7 L438.2,58.2 L436.1,58.2 L434.1,57.5 L432.1,57.0 L430.5,58.6 L429.4,60.5 L429.8,61.0 L427.4,60.7 L425.1,60.5 L423.3,58.4 L421.1,58.4 L419.0,57.5 L417.4,56.5 L415.5,56.1 L413.8,55.6 L411.9,56.1 L410.3,55.4 L408.5,55.1 L406.7,55.1 L405.0,54.7 L403.4,53.4 L401.5,52.6 L399.3,52.7 L397.2,52.4 L395.0,53.1 L392.8,53.3 L391.1,53.7 L389.2,53.6 L387.6,54.4 L385.9,55.2 L384.1,55.2 L382.5,56.5 L380.6,57.0 L378.0,58.7 L376.6,60.0 L375.4,61.4 L374.5,63.1 L371.9,64.9 L369.3,65.7 L367.0,66.2 L364.9,67.3 L363.3,68.0 L361.8,68.7 L361.4,71.0 L362.3,73.6 L364.0,75.2 L366.7,75.4 L368.2,74.5 L369.8,73.6 L371.2,72.2 L371.9,73.6 L372.4,74.7 L373.6,76.1 L375.0,78.4 L375.4,79.9 L377.5,79.9 L379.2,79.5 L380.6,78.4 L381.5,76.3 L381.8,74.3 L383.5,73.8 L385.0,72.8 L383.2,70.8 L382.9,69.3 L384.1,67.5 L385.3,66.4 L387.2,66.3 L388.5,65.2 L390.2,63.8 L391.9,61.7 L394.6,61.7 L397.2,63.1 L396.3,64.3 L394.7,65.3 L392.8,65.7 L390.2,67.0 L390.0,70.1 L391.6,71.2 L394.0,71.2 L396.3,71.5 L398.5,71.6 L400.7,71.0 L402.4,71.2 L404.1,71.5 L405.5,72.1 L402.4,72.2 L401.5,72.8 L398.9,72.9 L396.7,72.7 L394.6,73.1 L393.7,74.0 L395.1,75.0 L394.2,76.3 L395.1,77.1 L392.8,77.1 L391.1,76.1 L389.3,77.5 L389.3,79.2 L389.7,80.3 L387.6,80.8 L386.7,81.7 L385.0,81.0 L382.3,81.2 L380.7,82.0 L378.9,82.2 L377.1,82.4 L374.5,81.7 L371.9,82.4 L370.1,81.5 L369.8,80.6 L370.7,78.4 L371.0,76.1 L369.3,77.0 L367.0,77.8 L366.8,79.8 L367.7,82.4 L364.9,83.3 L363.1,83.1 L361.4,83.6 L360.7,85.4 L358.8,86.8 L357.1,87.5 L355.5,87.8 L355.3,89.0 L353.0,89.9 L350.6,90.5 L349.4,89.9 L350.1,91.7 L347.5,91.5 L344.5,92.2 L345.2,93.3 L346.9,93.4 L348.3,94.1 L350.1,95.9 L350.6,98.2 L350.1,100.8 L348.4,101.2 L346.6,101.0 L344.9,100.9 L343.1,100.8 L341.3,100.8 L339.6,100.4 L336.7,101.3 L337.2,103.4 L337.4,106.0 L336.7,107.5 L336.1,109.0 L337.4,109.9 L337.2,112.2 L339.6,111.8 L341.7,112.5 L342.9,113.9 L344.9,112.7 L346.9,113.1 L348.9,112.7 L351.3,111.1 L353.0,109.0 L352.2,107.8 L353.4,106.6 L354.3,105.2 L356.1,103.9 L358.3,103.6 L358.1,101.7 L360.5,101.0 L363.2,101.5 L365.8,100.3 L368.0,99.2 L370.5,100.1 L371.2,101.8 L373.6,103.6 L375.3,104.0 L376.8,104.8 L378.3,105.9 L379.9,106.9 L379.9,108.7 L379.9,110.4 L381.5,109.5 L382.5,108.7 L381.5,107.4 L382.7,106.0 L385.0,106.7 L383.2,105.2 L380.6,103.9 L379.7,103.4 L377.1,102.2 L376.2,100.6 L374.2,99.0 L374.2,97.6 L376.2,96.8 L376.6,98.2 L378.0,97.6 L379.7,99.9 L382.3,101.3 L385.0,102.5 L386.7,103.8 L386.5,106.2 L388.5,107.8 L389.3,109.5 L390.4,112.2 L391.9,113.2 L392.8,111.7 L393.2,110.4 L394.6,110.1 L392.8,108.7 L392.1,106.4 L394.2,105.7 L396.1,105.8 L398.0,105.5 L398.9,106.0 L401.1,105.4 L403.3,104.8 L401.5,103.4 L401.4,101.3 L402.8,99.4 L404.3,97.6 L406.2,95.5 L408.2,95.5 L411.1,96.4 L409.4,97.5 L411.1,99.0 L413.7,98.5 L416.5,97.5 L414.3,96.6 L415.7,95.5 L417.3,95.1 L419.0,94.7 L421.2,94.3 L419.8,95.9 L418.6,98.5 L419.8,99.4 L422.5,101.1 L423.6,102.9 L425.3,104.1 L424.7,104.6 L422.5,105.3 L420.7,105.5 L419.0,105.3 L417.3,104.5 L415.5,104.1 L413.8,103.3 L412.0,103.4 L410.2,103.5 L408.5,103.8 L406.7,104.1 L405.0,104.8 L403.3,105.2 L400.7,106.4 L398.4,107.8 L399.4,109.5 L400.1,111.3 L401.5,112.5 L404.1,113.6 L405.9,113.1 L408.5,113.6 L411.1,113.6 L413.7,112.9 L415.5,112.5 L415.1,114.3 L415.3,115.7 L414.6,117.4 L414.1,119.2 L412.9,121.8 L411.1,122.5 L409.0,122.2Z M35.3,56.1 L37.0,56.3 L38.8,56.1 L40.4,56.9 L42.3,57.2 L43.9,57.9 L45.6,58.5 L47.5,58.4 L49.6,59.3 L51.9,59.6 L53.3,60.6 L55.3,60.1 L56.7,61.2 L54.5,62.2 L53.2,63.2 L51.9,64.2 L49.2,64.0 L47.7,62.8 L45.8,62.6 L43.6,62.2 L41.4,62.2 L38.8,63.3 L37.0,62.8 L35.3,63.3 L34.8,61.5 L35.3,59.7 L35.0,57.9Z M240.2,67.5 L237.6,68.6 L235.6,68.5 L234.1,67.3 L232.4,67.2 L230.7,66.5 L228.9,66.8 L227.3,65.5 L225.6,64.6 L223.6,64.0 L221.6,63.9 L219.6,63.1 L217.5,63.5 L219.3,62.8 L220.7,61.3 L222.7,61.2 L224.5,60.5 L223.6,57.9 L221.6,58.1 L220.4,56.0 L218.7,55.3 L216.6,55.8 L214.8,55.3 L213.2,54.4 L211.4,53.9 L209.7,54.9 L207.9,54.9 L206.2,54.9 L204.5,54.4 L202.6,54.2 L201.0,53.3 L199.4,52.2 L197.5,52.6 L195.7,50.0 L197.3,48.9 L199.5,49.6 L201.0,48.2 L202.7,48.3 L204.5,48.8 L206.2,48.7 L207.9,47.4 L209.7,48.2 L211.4,47.3 L213.2,47.9 L215.1,47.6 L216.5,48.7 L217.9,49.9 L219.6,50.1 L221.4,50.0 L222.7,51.6 L224.5,51.6 L226.0,52.6 L227.8,51.7 L229.3,52.4 L230.9,53.1 L232.4,53.9 L234.1,53.5 L235.7,54.2 L236.4,55.9 L237.6,57.0 L238.9,58.4 L240.7,58.4 L242.2,59.1 L243.7,59.8 L245.4,60.0 L243.7,61.5 L242.0,63.1 L240.2,65.7Z M147.8,56.1 L149.4,56.3 L151.1,55.6 L152.8,57.0 L154.5,57.0 L156.1,56.2 L157.8,56.6 L159.5,55.8 L161.2,55.8 L162.8,56.0 L164.5,56.8 L166.2,55.9 L167.8,56.5 L169.7,57.1 L171.2,55.2 L173.0,55.2 L174.7,54.7 L176.6,55.2 L176.6,52.6 L175.1,50.9 L173.1,50.0 L170.8,49.8 L168.7,49.1 L167.1,49.1 L165.5,49.3 L163.9,48.7 L162.2,49.1 L160.6,49.4 L159.0,48.9 L157.4,48.8 L155.7,49.3 L154.0,49.8 L152.1,48.7 L150.4,49.1 L148.6,49.3 L146.8,49.1 L145.2,50.0 L145.2,52.6 L146.6,54.2Z M133.8,51.0 L135.7,50.6 L137.3,51.7 L139.1,51.2 L140.8,52.4 L142.5,52.3 L144.2,51.7 L145.6,50.6 L147.3,50.2 L148.9,49.4 L150.4,48.6 L148.4,48.8 L146.9,47.4 L145.2,46.8 L143.4,46.6 L141.7,46.8 L139.9,46.1 L138.2,46.4 L136.4,46.8 L135.8,48.3 L135.1,49.9Z M196.6,43.0 L198.2,43.9 L199.9,43.0 L201.6,43.5 L203.2,43.6 L204.9,42.7 L206.6,42.5 L208.2,43.5 L209.9,42.7 L211.5,43.2 L213.2,43.5 L215.3,42.9 L216.7,41.2 L218.4,41.3 L219.5,39.5 L221.0,38.9 L222.8,39.1 L224.6,38.3 L226.8,39.0 L228.5,37.2 L230.6,37.7 L232.3,36.9 L234.0,36.3 L235.7,36.0 L237.6,36.4 L239.3,36.0 L240.8,34.6 L242.8,34.1 L244.6,33.3 L243.0,32.4 L241.2,31.8 L239.3,31.6 L237.6,31.7 L235.9,31.1 L234.1,31.5 L232.4,31.0 L230.6,32.0 L228.9,31.8 L227.1,31.4 L225.4,30.8 L223.6,31.4 L221.9,31.6 L220.3,31.8 L218.7,32.4 L217.0,32.5 L215.4,32.8 L213.6,31.5 L212.0,31.9 L210.4,32.0 L208.8,32.8 L207.1,32.7 L205.6,33.6 L203.9,33.4 L202.3,34.2 L200.7,33.9 L199.1,34.3 L197.4,34.8 L195.7,34.2 L193.7,34.4 L192.6,36.6 L190.5,36.8 L191.3,38.5 L192.7,39.5 L194.7,40.0 L195.4,41.7Z M192.3,46.3 L194.0,47.1 L195.7,47.0 L197.5,46.7 L199.2,45.8 L201.0,46.0 L202.7,46.7 L204.5,46.9 L206.2,45.4 L207.9,45.7 L209.7,47.0 L211.4,46.3 L213.2,44.7 L211.2,44.9 L209.8,43.4 L207.9,43.1 L206.2,43.4 L204.5,42.8 L202.7,42.4 L201.0,42.9 L199.2,43.2 L197.5,43.0 L195.8,43.7 L193.9,43.6 L192.3,44.2Z M187.0,37.7 L188.7,38.5 L190.5,37.7 L192.2,38.6 L194.0,38.2 L196.0,38.4 L197.4,36.8 L199.4,37.0 L201.0,36.0 L199.2,36.0 L197.4,35.9 L195.7,35.3 L194.0,34.7 L192.2,34.5 L190.6,35.9 L188.7,35.2 L187.1,36.0 L185.3,36.0Z M150.4,45.6 L152.2,45.9 L153.9,46.2 L155.6,44.6 L157.4,46.2 L159.1,45.9 L160.8,44.5 L162.6,45.8 L164.4,45.8 L166.1,44.6 L167.9,46.0 L169.6,45.1 L169.6,43.0 L167.8,43.1 L166.1,42.9 L164.4,42.4 L162.6,42.2 L160.9,42.4 L159.1,42.1 L157.4,43.1 L155.6,42.9 L153.9,43.6 L152.2,43.5 L150.4,43.2 L148.7,43.3Z M176.6,50.9 L178.3,50.5 L180.0,51.2 L181.7,52.0 L183.5,51.2 L184.6,49.9 L185.3,48.2 L183.5,48.1 L181.8,48.2 L180.0,47.7 L178.5,48.8 L176.3,47.8 L174.8,49.1Z M186.1,50.9 L188.1,49.9 L190.3,50.8 L192.3,50.0 L194.0,47.4 L192.3,46.7 L190.5,47.6 L188.8,47.8 L187.0,47.4 L187.1,49.2Z M201.0,64.9 L202.8,64.9 L204.5,65.6 L206.2,66.1 L208.3,65.9 L210.2,64.8 L212.3,65.2 L211.4,63.7 L210.6,62.2 L208.7,61.2 L206.7,61.7 L204.7,61.6 L202.7,61.4 L201.0,63.1Z M176.6,44.7 L178.3,45.5 L180.0,44.5 L181.8,45.3 L183.5,44.7 L183.5,42.4 L181.8,43.1 L180.0,42.8 L178.3,43.0Z M204.6,138.6 L206.2,138.2 L207.4,137.0 L209.0,136.5 L211.1,137.0 L213.2,136.7 L214.6,137.4 L216.1,138.0 L217.5,138.8 L219.0,139.6 L220.6,140.0 L222.1,140.7 L223.5,141.6 L221.5,141.8 L219.5,142.2 L217.5,142.1 L216.8,140.7 L215.8,139.3 L214.0,139.0 L212.3,138.6 L210.6,138.1 L208.4,138.5 L206.2,138.5Z M222.8,144.8 L224.2,143.4 L225.7,142.1 L227.4,142.3 L229.0,142.3 L230.6,142.3 L232.0,143.5 L233.6,144.4 L231.6,144.7 L229.8,145.4 L228.0,146.2 L226.2,146.0 L224.5,145.4Z M216.1,144.8 L217.9,144.7 L219.6,145.3 L218.8,145.6 L216.3,145.1Z M235.5,144.8 L238.3,144.8 L238.1,145.5 L235.5,145.5Z M249.3,93.6 L250.9,93.0 L252.0,91.7 L253.4,90.8 L255.0,90.3 L255.2,88.4 L255.9,86.8 L256.9,88.2 L258.0,89.5 L259.4,90.6 L259.8,92.4 L261.0,93.8 L258.9,95.2 L257.0,94.3 L255.0,93.6 L253.1,93.5 L251.2,93.5Z M137.7,92.4 L135.8,91.5 L133.8,91.2 L132.2,90.0 L130.6,88.9 L128.8,88.0 L130.5,87.9 L132.1,88.7 L133.8,88.9 L135.0,90.2 L136.4,91.2Z M310.8,62.2 L312.5,61.3 L314.3,60.7 L316.1,60.4 L317.8,60.5 L319.6,60.3 L321.3,60.5 L323.0,60.2 L324.8,60.5 L326.5,60.5 L327.8,61.7 L329.2,62.8 L327.6,63.5 L325.9,63.8 L324.6,65.0 L322.7,64.9 L321.3,65.9 L319.3,65.8 L317.4,65.8 L315.4,65.5 L313.5,65.2 L312.1,63.8Z M342.8,89.2 L344.7,89.1 L346.6,88.7 L348.7,88.1 L351.0,88.0 L353.0,87.3 L355.1,87.3 L355.7,84.8 L353.2,83.4 L351.8,81.5 L350.1,79.8 L348.9,78.5 L349.6,76.1 L347.5,74.3 L345.7,74.4 L344.0,74.3 L342.2,76.3 L342.9,78.5 L344.2,80.6 L347.1,80.8 L346.9,82.7 L347.5,83.6 L344.7,83.6 L345.4,85.4 L343.6,86.2 L345.3,86.8 L347.1,86.9 L344.9,87.5Z M342.2,85.5 L341.9,82.7 L342.9,81.3 L341.6,80.4 L340.0,80.1 L337.9,81.3 L335.3,82.0 L335.4,83.4 L334.7,86.1 L336.1,86.8 L338.7,86.2 L340.4,85.6Z M371.9,39.5 L373.6,39.0 L375.3,38.2 L377.2,38.2 L378.9,37.5 L380.6,36.8 L382.4,36.8 L384.1,36.9 L385.8,36.1 L387.6,36.5 L389.3,35.9 L391.1,36.0 L392.8,35.9 L394.6,36.2 L396.3,36.7 L398.0,37.0 L399.8,36.8 L398.0,37.3 L396.3,38.2 L394.7,38.9 L392.9,39.4 L391.1,39.8 L389.4,40.7 L387.6,41.1 L385.8,41.7 L384.2,42.6 L382.3,43.0 L380.5,42.7 L378.9,41.7 L377.1,41.6 L375.4,40.7 L373.5,40.5Z M443.4,51.7 L445.0,50.6 L446.9,50.0 L448.6,49.1 L449.7,47.9 L451.2,47.0 L452.1,45.6 L453.9,44.9 L455.6,44.1 L457.3,43.3 L459.0,43.6 L460.6,43.0 L462.3,43.3 L463.9,42.9 L465.6,43.0 L467.2,43.1 L468.9,42.9 L470.5,42.6 L472.2,42.4 L470.5,42.7 L469.1,43.7 L467.4,43.9 L465.7,44.0 L464.1,44.6 L462.6,45.2 L460.8,45.9 L459.2,46.6 L457.4,47.2 L455.6,47.7 L453.9,48.2 L452.9,49.6 L451.3,50.3 L450.4,51.7 L448.6,53.3 L446.9,52.7 L445.1,52.2Z M516.6,38.6 L518.4,38.8 L520.1,39.2 L521.9,39.2 L523.6,39.9 L525.4,39.8 L527.1,39.7 L528.9,39.4 L530.6,38.9 L532.4,38.9 L534.1,38.5 L535.8,38.1 L534.1,37.4 L532.2,37.2 L530.6,36.3 L529.0,35.3 L527.1,35.1 L525.4,35.2 L523.6,35.5 L521.9,35.5 L520.2,36.1 L518.4,36.0Z M589.9,47.4 L591.7,47.1 L593.4,47.3 L595.1,47.7 L596.9,47.6 L598.6,48.4 L600.3,48.2 L602.0,47.3 L603.8,47.2 L605.5,46.5 L607.4,46.4 L609.1,45.6 L607.3,45.5 L605.6,45.0 L603.8,44.7 L602.1,44.4 L600.3,44.2 L598.6,43.5 L596.9,43.9 L595.2,44.4 L593.4,44.3 L591.6,44.7Z M431.2,36.5 L432.9,36.9 L434.7,36.6 L436.4,36.4 L438.1,37.1 L439.9,36.7 L441.6,37.0 L443.4,36.8 L445.1,36.4 L446.9,36.4 L448.6,37.0 L450.4,36.7 L452.1,36.0 L453.9,36.3 L455.6,36.2 L457.3,35.9 L459.1,35.7 L460.8,36.0 L459.0,35.2 L457.3,34.2 L455.6,34.5 L453.9,34.5 L452.1,34.0 L450.4,34.5 L448.6,34.6 L446.9,34.5 L445.1,34.8 L443.4,34.2 L441.6,34.5 L439.9,34.6 L438.1,34.8 L436.3,35.0 L434.7,36.0 L432.9,36.1Z M367.3,108.7 L369.4,108.5 L369.9,106.9 L369.8,105.2 L367.0,105.3 L367.4,107.0Z M367.7,104.5 L369.1,104.5 L369.3,101.7 L367.9,102.4Z M374.3,110.8 L376.0,111.1 L377.4,112.2 L379.0,112.7 L379.9,109.9 L378.1,109.9 L376.2,110.1Z M393.7,115.2 L395.3,115.6 L397.0,115.2 L398.6,115.5 L398.0,115.2 L396.3,114.9 L394.6,114.6Z M409.0,116.2 L412.0,115.7 L413.0,114.5 L410.1,115.3Z M580.8,117.6 L582.9,117.8 L585.5,117.4 L588.1,117.1 L588.7,118.5 L590.8,117.6 L591.6,116.7 L594.2,116.6 L596.5,116.0 L598.4,114.6 L598.3,112.2 L599.0,110.1 L600.5,107.8 L600.1,106.0 L599.7,104.3 L596.9,104.5 L596.2,106.9 L595.6,109.0 L593.4,110.6 L591.3,111.5 L589.5,113.2 L587.8,114.1 L584.7,114.1 L583.3,115.1 L581.7,115.7Z M579.4,117.8 L581.2,117.6 L582.7,120.1 L581.5,122.2 L579.8,122.3 L579.1,119.5Z M583.8,119.2 L585.7,118.4 L587.6,117.8 L586.9,116.9 L584.1,117.6Z M596.9,104.3 L599.0,103.8 L600.7,103.6 L602.4,103.4 L604.4,102.4 L606.5,101.3 L606.1,99.6 L604.7,98.8 L603.1,98.2 L601.5,98.0 L600.0,97.3 L599.7,99.2 L599.5,101.1 L596.9,102.5Z M600.3,96.4 L603.0,95.5 L602.7,93.8 L602.1,92.1 L602.1,90.3 L602.7,88.6 L602.6,86.8 L602.8,85.1 L602.5,83.5 L602.1,81.9 L601.2,81.9 L600.7,83.5 L601.0,85.2 L600.3,86.8 L600.3,89.0 L600.7,91.2 L600.7,93.4 L600.2,95.5Z M562.2,136.7 L563.1,134.9 L563.7,133.0 L565.5,133.2 L564.8,134.9 L564.2,136.7 L563.7,138.5 L563.2,138.5Z M542.3,143.4 L544.5,141.8 L546.3,142.7 L545.0,143.8 L543.8,145.1Z M491.9,165.6 L491.6,163.7 L492.0,161.8 L492.2,159.8 L493.0,161.4 L494.6,162.4 L495.5,163.9 L494.0,166.5Z M562.0,144.6 L563.9,144.3 L565.8,144.6 L565.5,147.2 L564.6,149.8 L565.5,152.5 L567.2,153.3 L569.0,154.2 L567.2,153.3 L565.5,153.0 L563.7,153.0 L562.9,151.6 L562.0,149.0 L561.7,146.8Z M565.5,164.7 L567.0,163.5 L569.0,163.0 L570.4,161.5 L571.6,159.8 L572.4,161.9 L573.3,163.9 L571.6,166.5 L569.0,165.6 L567.3,164.9Z M565.3,156.2 L567.4,156.9 L566.3,158.6 L565.5,158.4Z M566.2,157.9 L568.1,158.1 L567.6,161.1 L566.3,160.4Z M567.7,157.4 L569.1,157.6 L568.1,160.2Z M568.6,159.3 L570.0,159.3 L569.8,160.2 L568.6,160.2Z M569.5,156.9 L571.0,157.2 L571.0,159.5 L570.2,159.5Z M569.5,155.1 L571.9,155.5 L571.9,157.6 L570.7,157.6Z M557.3,162.1 L558.3,160.2 L559.9,158.8 L561.1,157.0 L561.6,157.7 L560.3,159.2 L559.6,161.1 L558.1,162.5Z M542.8,174.4 L543.1,176.6 L543.7,178.8 L544.4,180.3 L544.5,181.9 L547.2,182.3 L549.3,183.0 L551.5,183.1 L553.3,183.3 L555.0,183.7 L555.4,182.1 L555.9,180.5 L556.8,178.4 L557.6,176.1 L559.4,175.2 L558.9,173.4 L558.1,171.7 L559.4,170.1 L560.2,168.2 L559.3,166.9 L557.8,166.0 L556.7,164.7 L555.0,166.5 L553.3,168.2 L551.9,169.2 L550.8,170.5 L549.8,171.7 L548.0,172.6 L546.3,173.5 L544.6,174.3Z M518.9,167.2 L520.8,167.5 L522.7,167.9 L523.7,169.1 L524.6,170.5 L526.3,171.2 L527.1,172.6 L528.8,173.9 L530.4,175.3 L532.3,176.1 L533.8,177.8 L534.9,179.6 L536.5,180.7 L537.6,182.3 L537.4,183.9 L537.7,185.6 L537.2,187.2 L534.9,187.2 L533.4,186.3 L532.2,184.9 L530.6,184.0 L529.8,182.5 L529.0,181.0 L528.0,179.6 L526.8,177.9 L525.6,176.2 L524.5,174.4 L523.0,173.5 L522.1,172.1 L521.0,170.9 L520.1,169.0Z M536.2,188.9 L537.6,187.5 L539.4,187.4 L541.1,188.0 L543.3,188.3 L545.4,188.9 L547.2,188.6 L548.9,188.9 L550.8,189.5 L552.4,190.7 L552.2,192.2 L550.3,191.7 L548.3,191.6 L546.3,191.4 L544.5,191.2 L542.7,191.2 L541.1,190.7 L538.4,190.0Z M560.2,186.6 L560.9,184.9 L561.1,183.1 L559.9,181.4 L561.1,179.3 L561.6,177.0 L562.9,175.2 L564.9,175.0 L566.9,175.1 L569.0,175.2 L570.7,174.4 L569.8,176.1 L567.8,176.1 L565.8,176.4 L563.7,176.1 L562.9,178.8 L565.0,178.3 L567.2,178.6 L565.8,179.4 L564.6,180.5 L565.6,182.6 L566.3,184.9 L563.7,184.0 L562.9,186.6Z M553.3,191.5 L555.0,191.7 L556.8,191.7 L558.5,191.8 L560.2,191.4 L560.2,192.4 L558.5,192.3 L556.7,192.7 L555.0,192.0 L553.3,192.4Z M561.6,191.7 L563.5,192.0 L565.3,191.4 L567.2,191.4 L567.2,192.2 L565.4,192.6 L563.5,192.0 L561.6,192.4Z M568.1,194.9 L569.8,193.7 L571.0,191.9 L572.9,191.5 L574.7,191.7 L573.2,192.8 L571.3,193.2 L569.8,194.3Z M575.1,177.9 L575.7,175.6 L576.8,173.5 L575.9,176.1 L577.5,176.6Z M575.9,182.6 L577.6,182.6 L579.2,182.4 L580.8,182.3 L580.3,183.7 L578.3,183.3 L576.3,183.5Z M581.2,178.8 L582.9,177.9 L584.7,178.3 L586.4,178.8 L587.0,180.9 L588.1,182.8 L589.5,181.6 L591.0,180.6 L592.5,179.6 L594.1,179.9 L595.6,180.3 L597.0,181.4 L598.6,181.6 L600.2,181.9 L601.6,182.8 L603.2,183.3 L604.7,184.0 L605.8,185.6 L607.3,186.6 L609.9,187.5 L610.7,189.2 L610.8,191.0 L612.2,192.2 L613.2,193.7 L614.3,195.0 L611.7,194.9 L609.7,193.9 L608.2,192.4 L606.0,191.6 L603.8,190.7 L602.4,191.7 L601.2,193.1 L598.6,192.9 L596.7,192.4 L595.1,191.2 L593.4,191.7 L592.5,189.3 L594.2,187.5 L592.5,186.5 L590.8,185.4 L589.0,184.5 L586.4,183.7 L583.8,182.3 L582.0,180.2Z M611.3,186.6 L614.3,185.8 L616.1,185.1 L617.8,184.4 L616.9,186.6 L614.3,187.9 L612.7,187.5Z M550.6,215.5 L551.9,215.2 L553.4,214.6 L554.9,214.1 L556.2,213.1 L558.3,212.9 L560.2,212.0 L561.9,211.3 L563.7,211.2 L564.4,209.7 L565.4,208.3 L566.0,206.8 L568.1,205.9 L569.8,204.2 L571.0,202.7 L572.4,201.5 L575.1,201.9 L577.7,203.1 L579.1,200.7 L580.3,198.9 L582.0,198.4 L583.8,197.1 L586.4,198.0 L589.0,198.4 L591.3,198.4 L590.8,200.7 L589.0,203.3 L590.7,204.4 L592.5,205.4 L594.2,206.6 L596.0,207.7 L598.3,207.5 L598.5,205.3 L599.5,203.3 L599.3,201.1 L599.7,198.9 L600.5,197.3 L601.2,195.7 L602.4,197.4 L603.0,199.4 L604.7,202.1 L605.8,203.4 L606.3,205.0 L606.7,207.2 L607.3,209.4 L608.7,210.4 L610.2,211.2 L611.7,212.0 L612.9,213.9 L613.4,216.1 L615.7,216.9 L616.9,218.6 L618.5,219.9 L619.5,221.7 L619.8,223.5 L620.6,225.1 L620.6,226.9 L620.2,229.2 L619.5,231.3 L618.7,233.9 L617.4,235.0 L616.4,236.4 L615.8,238.2 L614.6,239.7 L614.3,242.7 L612.5,242.7 L610.8,243.2 L609.5,244.6 L607.8,245.5 L606.4,244.4 L604.7,243.9 L602.1,245.0 L600.3,244.8 L598.6,244.1 L596.5,242.3 L596.0,240.1 L593.4,239.4 L593.4,238.0 L592.8,234.8 L591.3,236.3 L589.9,238.0 L588.5,237.4 L587.6,235.8 L586.4,234.5 L584.8,233.5 L582.9,233.1 L581.2,232.7 L579.4,232.6 L577.7,232.4 L576.0,232.9 L574.2,233.1 L572.4,233.6 L570.6,233.9 L569.0,234.8 L567.3,235.8 L565.5,236.6 L563.7,236.7 L562.0,236.4 L560.2,237.2 L558.5,238.3 L556.7,238.0 L555.0,238.3 L553.3,237.1 L554.5,235.3 L554.7,233.1 L554.0,230.9 L553.3,228.7 L551.9,226.1 L550.3,223.4 L550.6,221.7 L550.6,219.9 L550.4,217.7Z M605.1,248.3 L607.2,248.3 L609.2,248.7 L611.3,248.7 L611.3,250.7 L610.8,252.7 L608.2,253.4 L607.3,252.0 L605.9,250.9Z M643.1,257.6 L644.4,255.6 L646.2,254.1 L647.6,253.1 L649.0,252.1 L650.6,251.5 L652.1,249.8 L653.5,248.0 L655.0,249.0 L656.7,249.7 L655.8,251.0 L654.9,252.4 L654.1,253.7 L652.4,254.6 L650.9,255.8 L649.1,257.1 L647.4,258.6 L645.3,258.1Z M438.7,198.0 L439.2,200.1 L439.7,202.1 L440.2,204.2 L439.6,206.8 L439.2,208.6 L438.1,210.2 L437.8,212.0 L437.2,213.6 L436.9,215.2 L436.3,216.7 L435.8,218.3 L435.5,219.9 L434.7,220.8 L433.0,220.9 L431.5,221.7 L429.4,219.9 L428.7,217.3 L428.2,214.7 L430.0,212.0 L429.7,210.3 L429.4,208.5 L430.3,205.6 L432.9,204.7 L434.0,203.3 L435.5,202.4 L437.3,200.7Z M37.9,52.6 L39.6,52.1 L41.4,52.7 L43.1,52.3 L42.3,51.6 L40.1,51.9 L37.9,51.7Z M226.3,39.8 L227.8,39.3 L229.4,38.6 L231.0,38.1 L232.5,37.4 L234.1,36.8 L235.9,36.6 L237.5,35.6 L239.3,35.2 L241.1,34.6 L242.7,33.9 L244.6,33.7 L246.3,33.3 L248.0,33.1 L249.8,32.9 L251.5,32.8 L253.3,33.4 L255.1,33.0 L256.8,32.9 L258.5,32.2 L260.3,32.5 L262.0,32.3 L263.6,32.3 L265.2,32.0 L266.8,31.8 L268.5,32.1 L270.1,32.1 L271.7,31.7 L273.3,31.6 L274.9,32.0 L276.5,31.8 L278.1,31.6 L279.7,32.0 L281.3,31.4 L282.9,31.6 L284.5,31.6 L286.2,31.2 L287.8,31.9 L289.4,31.6 L291.0,31.8 L292.6,31.8 L294.2,31.8 L295.8,31.2 L297.4,31.3 L299.0,31.3 L300.6,31.4 L302.3,32.0 L303.9,31.6 L305.6,31.9 L307.3,32.2 L309.1,31.8 L310.8,32.2 L312.6,32.2 L314.3,32.6 L316.1,32.6 L317.8,32.5 L319.5,32.6 L321.1,33.1 L322.7,33.4 L324.4,33.5 L326.0,33.7 L327.7,33.9 L329.3,34.2 L331.0,34.2 L332.6,34.4 L331.0,34.4 L329.4,34.9 L327.9,35.4 L326.3,35.7 L324.7,36.0 L323.1,36.0 L321.9,37.4 L320.4,38.6 L319.7,40.4 L318.7,42.1 L318.3,43.9 L317.8,45.6 L316.3,47.1 L314.4,48.0 L312.6,49.1 L310.9,49.8 L309.0,50.0 L307.3,50.4 L305.6,51.2 L303.7,52.1 L302.0,53.4 L300.4,54.7 L298.6,55.5 L297.1,56.8 L295.1,57.3 L293.8,58.3 L292.3,59.0 L291.1,60.2 L289.8,61.2 L288.2,61.7 L286.7,62.5 L285.1,62.9 L283.7,63.7 L282.1,64.0 L281.2,65.5 L280.1,66.8 L279.5,68.4 L278.0,69.5 L276.3,70.2 L275.1,71.5 L272.5,70.7 L270.2,70.5 L268.1,69.8 L266.9,68.7 L265.5,67.9 L264.2,66.4 L262.9,64.9 L261.7,63.0 L260.3,61.4 L259.4,58.7 L260.9,57.7 L262.4,56.9 L263.8,55.8 L262.1,55.5 L260.8,54.4 L259.3,53.8 L257.7,53.5 L256.8,51.7 L255.0,49.5 L253.8,47.9 L252.4,46.5 L250.8,46.0 L249.4,45.1 L248.1,44.2 L246.3,43.8 L244.5,44.3 L242.8,43.5 L241.1,43.6 L239.3,44.0 L237.6,43.5 L235.9,42.9 L234.2,42.7 L232.4,42.5 L230.6,42.4 L228.4,42.0 L226.3,41.0Z M178.3,56.8 L180.1,56.3 L181.8,56.8 L183.5,57.3 L186.0,55.6 L184.6,54.3 L182.7,54.5 L180.9,55.0 L179.2,55.2Z M185.3,46.3 L187.5,45.4 L189.6,46.3 L189.6,44.9 L187.5,44.1 L185.3,44.9Z M139.9,43.0 L141.8,42.8 L143.4,43.9 L145.2,43.9 L146.9,44.4 L148.3,43.6 L149.7,42.6 L151.6,43.3 L153.0,42.4 L151.0,41.1 L148.7,41.4 L146.9,41.9 L145.1,41.0 L143.4,40.9 L141.7,41.7Z M173.1,40.3 L174.8,40.0 L176.6,39.8 L178.3,40.7 L180.0,38.9 L178.3,38.8 L176.7,37.6 L174.8,38.2Z M182.7,40.7 L184.4,41.1 L186.1,40.7 L186.1,39.3 L184.4,39.3 L182.7,39.3Z M157.4,40.7 L159.1,40.4 L160.8,41.2 L162.6,41.2 L164.3,41.2 L164.3,39.3 L162.3,39.9 L160.3,38.7 L158.2,39.1Z M213.2,49.8 L215.2,50.3 L217.2,50.5 L219.3,49.8 L217.5,47.9 L215.8,47.8 L214.1,48.4 L212.3,48.2Z M207.1,67.5 L209.3,67.9 L211.4,67.3 L209.7,66.1 L207.9,66.3 L206.2,66.6Z M209.7,84.1 L212.1,84.5 L211.4,83.8Z M240.2,89.8 L241.8,90.0 L243.3,90.6 L244.9,90.8 L243.7,90.1 L241.1,89.4Z M240.7,95.5 L242.6,96.2 L244.6,96.4 L243.7,95.5Z M245.4,97.1 L248.1,96.6 L247.2,94.7 L246.0,95.4Z M53.1,65.9 L54.7,65.7 L56.3,66.4 L58.0,66.3 L58.3,65.7 L55.9,65.7 L53.6,65.2Z M82.7,76.6 L84.9,76.8 L87.1,76.3 L85.3,75.2 L83.3,75.6Z M61.8,71.9 L64.1,72.1 L63.5,71.2Z M215.8,134.4 L217.5,132.3 L219.6,132.8 L218.1,133.7 L217.0,135.0Z M218.4,130.6 L216.7,130.7 L215.1,130.2 L216.3,129.9Z M245.8,266.9 L247.7,266.9 L249.6,266.4 L251.5,266.7 L250.7,268.1 L248.9,268.4 L247.2,268.5Z M223.3,250.2 L224.5,250.2 L224.3,252.9 L223.1,252.7Z M230.6,269.3 L233.2,269.2 L234.1,270.7 L235.8,271.2 L237.2,272.4 L238.8,273.0 L237.0,273.8 L235.1,274.0 L233.2,274.2 L231.4,274.0 L229.8,273.2 L228.0,273.0 L226.3,271.9 L224.5,270.7 L226.5,269.9 L228.6,269.9Z M371.9,80.3 L374.7,79.6 L374.2,78.7 L372.4,79.1Z M384.3,77.3 L385.7,76.4 L385.1,75.6Z M356.9,107.8 L358.8,107.4 L358.1,107.1Z M491.9,165.6 L491.9,163.7 L492.1,161.8 L492.2,159.8 L493.3,161.2 L494.4,162.6 L495.5,163.9 L494.0,166.5Z M562.5,155.5 L564.6,153.3 L564.1,155.6Z M552.4,191.4 L554.3,191.4 L556.2,191.5 L555.9,192.6 L554.1,192.3 L552.4,192.4Z M556.4,191.7 L558.5,191.2 L560.6,191.4 L560.2,192.6 L558.5,192.5 L556.7,192.8Z M560.6,193.6 L563.4,193.8 L562.9,194.9 L560.8,194.3Z M572.4,182.4 L574.5,182.6 L573.8,183.7 L572.6,183.3Z M615.2,181.6 L616.9,182.6 L618.7,183.7 L619.9,185.1 L618.3,184.5 L617.0,182.8Z M622.3,186.1 L623.3,187.4 L624.6,188.4 L623.9,188.9 L622.5,187.2Z M625.6,190.1 L627.1,190.9 L628.8,191.1 L630.3,191.9 L631.7,192.8 L634.4,193.8 L632.6,194.5 L631.1,193.7 L629.7,192.9 L628.0,192.6 L626.5,191.9Z M643.1,203.6 L644.5,204.2 L644.6,206.1 L646.4,208.2 L646.2,207.3 L645.2,205.9 L643.9,204.7Z M638.7,212.4 L640.4,213.6 L642.2,214.7 L644.1,216.2 L643.1,215.9 L641.0,214.9 L639.2,213.4Z M661.9,207.7 L664.2,207.3 L664.0,208.9 L662.3,208.9Z M606.5,100.8 L609.1,99.4 L611.7,97.6 L614.3,95.9 L614.6,96.2 L613.0,97.5 L611.2,98.6 L609.4,99.7Z M514.2,156.9 L514.9,154.4 L514.5,153.3 L514.0,156.0Z M341.5,75.0 L342.2,76.3 L341.4,77.1 L339.6,76.3 L340.8,74.9Z" fill="#fff" stroke="none"/>
<g clip-path="url(#lclip)">
<g filter="url(#fLR)"><ellipse cx="92" cy="62" rx="28" ry="9" fill="#000" fill-opacity="0.338" transform="rotate(-5 92 62)"/><ellipse cx="128" cy="72" rx="14" ry="10" fill="#000" fill-opacity="0.39"/><ellipse cx="150" cy="66" rx="30" ry="10" fill="#000" fill-opacity="0.364"/><ellipse cx="160" cy="82" rx="25" ry="8" fill="#000" fill-opacity="0.078"/><ellipse cx="225" cy="80" rx="20" ry="12" fill="#000" fill-opacity="0.156"/><ellipse cx="188" cy="104" rx="12" ry="8" fill="#000" fill-opacity="0.364"/><ellipse cx="168" cy="130" rx="15" ry="10" fill="#000" fill-opacity="0.325" transform="rotate(30 168 130)"/><ellipse cx="180" cy="145" rx="12" ry="8" fill="#000" fill-opacity="0.286" transform="rotate(30 180 145)"/><ellipse cx="200" cy="92" rx="12" ry="6" fill="#000" fill-opacity="0.13"/><ellipse cx="232" cy="56" rx="10" ry="4" fill="#000" fill-opacity="0.26"/><ellipse cx="200" cy="150" rx="10" ry="5" fill="#000" fill-opacity="0.26" transform="rotate(30 200 150)"/><ellipse cx="150" cy="52" rx="15" ry="4" fill="#000" fill-opacity="0.065"/><ellipse cx="240" cy="185" rx="22" ry="18" fill="#000" fill-opacity="0.325" transform="rotate(-30 240 185)"/><ellipse cx="250" cy="170" rx="15" ry="8" fill="#000" fill-opacity="0.325"/><ellipse cx="225" cy="165" rx="12" ry="6" fill="#000" fill-opacity="0.39"/><ellipse cx="272" cy="195" rx="14" ry="16" fill="#000" fill-opacity="0.156"/><ellipse cx="232" cy="200" rx="8" ry="8" fill="#000" fill-opacity="0.26"/><ellipse cx="262" cy="222" rx="12" ry="10" fill="#000" fill-opacity="0.325"/><ellipse cx="235" cy="250" rx="8" ry="18" fill="#000" fill-opacity="0.286"/><ellipse cx="385" cy="59" rx="14" ry="5" fill="#000" fill-opacity="0.416"/><ellipse cx="370" cy="92" rx="20" ry="8" fill="#000" fill-opacity="0.078"/><ellipse cx="410" cy="58" rx="10" ry="5" fill="#000" fill-opacity="0.195"/><ellipse cx="415" cy="108" rx="14" ry="5" fill="#000" fill-opacity="0.429"/><ellipse cx="355" cy="108" rx="8" ry="5" fill="#000" fill-opacity="0.13"/><ellipse cx="460" cy="62" rx="40" ry="6" fill="#000" fill-opacity="0.195"/><ellipse cx="385" cy="175" rx="40" ry="45" fill="#000" fill-opacity="0.13"/><ellipse cx="370" cy="128" rx="48" ry="14" fill="#000" fill-opacity="0.286"/><ellipse cx="340" cy="122" rx="12" ry="5" fill="#000" fill-opacity="0.26"/><ellipse cx="400" cy="180" rx="25" ry="12" fill="#000" fill-opacity="0.39"/><ellipse cx="420" cy="180" rx="8" ry="15" fill="#000" fill-opacity="0.325"/><ellipse cx="398" cy="200" rx="20" ry="6" fill="#000" fill-opacity="0.325"/><ellipse cx="387" cy="228" rx="8" ry="6" fill="#000" fill-opacity="0.325"/><ellipse cx="404" cy="228" rx="8" ry="6" fill="#000" fill-opacity="0.195"/><ellipse cx="434" cy="210" rx="6" ry="10" fill="#000" fill-opacity="0.455" transform="rotate(15 434 210)"/><ellipse cx="428" cy="158" rx="8" ry="6" fill="#000" fill-opacity="0.325"/><ellipse cx="385" cy="165" rx="20" ry="5" fill="#000" fill-opacity="0.195"/><ellipse cx="435" cy="140" rx="14" ry="10" fill="#000" fill-opacity="0.234"/><ellipse cx="470" cy="118" rx="14" ry="8" fill="#000" fill-opacity="0.156"/><ellipse cx="490" cy="125" rx="18" ry="8" fill="#000" fill-opacity="0.325"/><ellipse cx="490" cy="148" rx="10" ry="12" fill="#000" fill-opacity="0.39"/><ellipse cx="445" cy="100" rx="25" ry="8" fill="#000" fill-opacity="0.13"/><ellipse cx="545" cy="60" rx="50" ry="10" fill="#000" fill-opacity="0.364"/><ellipse cx="615" cy="60" rx="38" ry="8" fill="#000" fill-opacity="0.26"/><ellipse cx="590" cy="78" rx="25" ry="6" fill="#000" fill-opacity="0.104"/><ellipse cx="520" cy="115" rx="15" ry="8" fill="#000" fill-opacity="0.325"/><ellipse cx="545" cy="125" rx="20" ry="8" fill="#000" fill-opacity="0.39"/><ellipse cx="580" cy="95" rx="10" ry="8" fill="#000" fill-opacity="0.325"/><ellipse cx="574" cy="110" rx="4" ry="5" fill="#000" fill-opacity="0.39"/><ellipse cx="630" cy="78" rx="6" ry="8" fill="#000" fill-opacity="0.39"/><ellipse cx="520" cy="100" rx="20" ry="5" fill="#000" fill-opacity="0.325"/><ellipse cx="510" cy="135" rx="8" ry="8" fill="#000" fill-opacity="0.195"/><ellipse cx="533" cy="150" rx="10" ry="12" fill="#000" fill-opacity="0.195"/><ellipse cx="529" cy="176" rx="8" ry="11" fill="#000" fill-opacity="0.455" transform="rotate(-40 529 176)"/><ellipse cx="551" cy="173" rx="9" ry="8" fill="#000" fill-opacity="0.39"/><ellipse cx="600" cy="184" rx="18" ry="6" fill="#000" fill-opacity="0.325"/><ellipse cx="550" cy="187" rx="8" ry="2" fill="#000" fill-opacity="0.39"/><ellipse cx="568" cy="160" rx="5" ry="8" fill="#000" fill-opacity="0.26"/><ellipse cx="565" cy="225" rx="15" ry="10" fill="#000" fill-opacity="0.26"/><ellipse cx="610" cy="225" rx="10" ry="15" fill="#000" fill-opacity="0.169"/><ellipse cx="585" cy="215" rx="30" ry="20" fill="#000" fill-opacity="0.104"/><ellipse cx="608" cy="250" rx="4" ry="4" fill="#000" fill-opacity="0.39"/><ellipse cx="650" cy="254" rx="5" ry="3" fill="#000" fill-opacity="0.65"/><ellipse cx="600" cy="200" rx="6" ry="6" fill="#000" fill-opacity="0.325"/></g>
<g filter="url(#fLB)"><ellipse cx="148" cy="98" rx="15" ry="8" fill="#000" fill-opacity="0.286"/><ellipse cx="160" cy="108" rx="18" ry="12" fill="#000" fill-opacity="0.182"/><ellipse cx="140" cy="105" rx="6" ry="15" fill="#000" fill-opacity="0.325"/><ellipse cx="210" cy="112" rx="18" ry="12" fill="#000" fill-opacity="0.26"/><ellipse cx="225" cy="98" rx="15" ry="6" fill="#000" fill-opacity="0.364"/><ellipse cx="205" cy="90" rx="15" ry="8" fill="#000" fill-opacity="0.13"/><ellipse cx="230" cy="80" rx="15" ry="10" fill="#000" fill-opacity="0.078"/><ellipse cx="172" cy="138" rx="10" ry="10" fill="#000" fill-opacity="0.234"/><ellipse cx="240" cy="57" rx="8" ry="4" fill="#000" fill-opacity="0.156"/><ellipse cx="150" cy="50" rx="18" ry="5" fill="#000" fill-opacity="0.234"/><ellipse cx="180" cy="50" rx="15" ry="5" fill="#000" fill-opacity="0.13"/><ellipse cx="278" cy="192" rx="12" ry="14" fill="#000" fill-opacity="0.195"/><ellipse cx="240" cy="160" rx="5" ry="3" fill="#000" fill-opacity="0.455"/><ellipse cx="244" cy="226" rx="13" ry="16" fill="#000" fill-opacity="0.39"/><ellipse cx="225" cy="165" rx="8" ry="6" fill="#000" fill-opacity="0.156"/><ellipse cx="242" cy="161" rx="4" ry="3" fill="#000" fill-opacity="0.52"/><ellipse cx="262" cy="228" rx="10" ry="8" fill="#000" fill-opacity="0.325"/><ellipse cx="276" cy="207" rx="6" ry="6" fill="#000" fill-opacity="0.325"/><ellipse cx="400" cy="85" rx="45" ry="20" fill="#000" fill-opacity="0.364"/><ellipse cx="348" cy="106" rx="10" ry="7" fill="#000" fill-opacity="0.39"/><ellipse cx="385" cy="68" rx="12" ry="10" fill="#000" fill-opacity="0.39"/><ellipse cx="408" cy="62" rx="10" ry="6" fill="#000" fill-opacity="0.325"/><ellipse cx="460" cy="62" rx="40" ry="6" fill="#000" fill-opacity="0.195"/><ellipse cx="470" cy="100" rx="25" ry="10" fill="#000" fill-opacity="0.195"/><ellipse cx="450" cy="82" rx="50" ry="8" fill="#000" fill-opacity="0.325"/><ellipse cx="339" cy="120" rx="10" ry="5" fill="#000" fill-opacity="0.325"/><ellipse cx="385" cy="180" rx="35" ry="40" fill="#000" fill-opacity="0.104"/><ellipse cx="345" cy="158" rx="22" ry="10" fill="#000" fill-opacity="0.325"/><ellipse cx="400" cy="160" rx="22" ry="10" fill="#000" fill-opacity="0.26"/><ellipse cx="390" cy="215" rx="12" ry="10" fill="#000" fill-opacity="0.325"/><ellipse cx="400" cy="185" rx="22" ry="12" fill="#000" fill-opacity="0.195"/><ellipse cx="405" cy="230" rx="8" ry="6" fill="#000" fill-opacity="0.286"/><ellipse cx="425" cy="125" rx="12" ry="8" fill="#000" fill-opacity="0.26"/><ellipse cx="447" cy="115" rx="15" ry="10" fill="#000" fill-opacity="0.39"/><ellipse cx="430" cy="140" rx="12" ry="8" fill="#000" fill-opacity="0.26"/><ellipse cx="485" cy="150" rx="8" ry="8" fill="#000" fill-opacity="0.195"/><ellipse cx="470" cy="118" rx="14" ry="8" fill="#000" fill-opacity="0.195"/><ellipse cx="530" cy="88" rx="25" ry="6" fill="#000" fill-opacity="0.195"/><ellipse cx="545" cy="112" rx="25" ry="15" fill="#000" fill-opacity="0.325"/><ellipse cx="530" cy="92" rx="30" ry="5" fill="#000" fill-opacity="0.286"/><ellipse cx="505" cy="120" rx="15" ry="5" fill="#000" fill-opacity="0.26"/><ellipse cx="580" cy="95" rx="10" ry="8" fill="#000" fill-opacity="0.234"/><ellipse cx="520" cy="115" rx="12" ry="8" fill="#000" fill-opacity="0.26"/><ellipse cx="540" cy="65" rx="40" ry="10" fill="#000" fill-opacity="0.104"/><ellipse cx="592" cy="212" rx="8" ry="12" fill="#000" fill-opacity="0.325"/><ellipse cx="594" cy="225" rx="6" ry="8" fill="#000" fill-opacity="0.26"/><ellipse cx="560" cy="233" rx="6" ry="4" fill="#000" fill-opacity="0.39"/><ellipse cx="612" cy="225" rx="8" ry="12" fill="#000" fill-opacity="0.195"/><ellipse cx="600" cy="185" rx="6" ry="3" fill="#000" fill-opacity="0.195"/></g>
<g filter="url(#fDR)"><ellipse cx="78" cy="58" rx="7" ry="5" fill="#000" fill-opacity="0.91"/><ellipse cx="100" cy="62" rx="20" ry="7" fill="#000" fill-opacity="0.078"/><ellipse cx="132" cy="80" rx="10" ry="7" fill="#000" fill-opacity="0.39"/><ellipse cx="156" cy="61" rx="6" ry="4" fill="#000" fill-opacity="0.65"/><ellipse cx="170" cy="70" rx="10" ry="6" fill="#000" fill-opacity="0.715"/><ellipse cx="188" cy="104" rx="10" ry="6" fill="#000" fill-opacity="0.52"/><ellipse cx="168" cy="130" rx="10" ry="6" fill="#000" fill-opacity="0.13"/><ellipse cx="150" cy="97" rx="3" ry="3" fill="#000" fill-opacity="0.52"/><ellipse cx="232" cy="82" rx="10" ry="8" fill="#000" fill-opacity="0.065"/><ellipse cx="198" cy="151" rx="7" ry="3" fill="#000" fill-opacity="0.455" transform="rotate(20 198 151)"/><ellipse cx="230" cy="57" rx="6" ry="3" fill="#000" fill-opacity="0.195"/><ellipse cx="230" cy="165" rx="12" ry="5" fill="#000" fill-opacity="0.39"/><ellipse cx="240" cy="182" rx="22" ry="14" fill="#000" fill-opacity="0.806" transform="rotate(-35 240 182)"/><ellipse cx="228" cy="168" rx="10" ry="6" fill="#000" fill-opacity="0.325"/><ellipse cx="258" cy="202" rx="12" ry="9" fill="#000" fill-opacity="0.715" transform="rotate(-30 258 202)"/><ellipse cx="230" cy="192" rx="6" ry="8" fill="#000" fill-opacity="0.195"/><ellipse cx="262" cy="222" rx="10" ry="8" fill="#000" fill-opacity="0.156"/><ellipse cx="236" cy="250" rx="6" ry="15" fill="#000" fill-opacity="0.104"/><ellipse cx="385" cy="59" rx="12" ry="4" fill="#000" fill-opacity="0.234"/><ellipse cx="383" cy="100" rx="3" ry="2" fill="#000" fill-opacity="0.65"/><ellipse cx="418" cy="108" rx="10" ry="4" fill="#000" fill-opacity="0.195"/><ellipse cx="400" cy="133" rx="12" ry="12" fill="#000" fill-opacity="0.845"/><ellipse cx="361" cy="123" rx="12" ry="6" fill="#000" fill-opacity="0.715"/><ellipse cx="343" cy="135" rx="16" ry="10" fill="#000" fill-opacity="0.65"/><ellipse cx="371" cy="141" rx="8" ry="6" fill="#000" fill-opacity="0.65"/><ellipse cx="375" cy="130" rx="45" ry="12" fill="#000" fill-opacity="0.325"/><ellipse cx="412" cy="177" rx="12" ry="6" fill="#000" fill-opacity="0.52"/><ellipse cx="420" cy="185" rx="6" ry="12" fill="#000" fill-opacity="0.39"/><ellipse cx="398" cy="200" rx="18" ry="6" fill="#000" fill-opacity="0.455"/><ellipse cx="386" cy="229" rx="6" ry="6" fill="#000" fill-opacity="0.585"/><ellipse cx="434" cy="210" rx="5" ry="8" fill="#000" fill-opacity="0.26" transform="rotate(15 434 210)"/><ellipse cx="390" cy="180" rx="12" ry="8" fill="#000" fill-opacity="0.195"/><ellipse cx="428" cy="158" rx="6" ry="5" fill="#000" fill-opacity="0.26"/><ellipse cx="430" cy="145" rx="8" ry="5" fill="#000" fill-opacity="0.455"/><ellipse cx="492" cy="127" rx="17" ry="7" fill="#000" fill-opacity="0.65"/><ellipse cx="490" cy="145" rx="8" ry="8" fill="#000" fill-opacity="0.195"/><ellipse cx="430" cy="115" rx="6" ry="4" fill="#000" fill-opacity="0.13"/><ellipse cx="540" cy="69" rx="22" ry="7" fill="#000" fill-opacity="0.65"/><ellipse cx="575" cy="59" rx="15" ry="6" fill="#000" fill-opacity="0.65"/><ellipse cx="615" cy="61" rx="35" ry="7" fill="#000" fill-opacity="0.65"/><ellipse cx="640" cy="64" rx="12" ry="7" fill="#000" fill-opacity="0.845"/><ellipse cx="522" cy="101" rx="18" ry="4" fill="#000" fill-opacity="0.546"/><ellipse cx="545" cy="128" rx="18" ry="6" fill="#000" fill-opacity="0.195"/><ellipse cx="512" cy="136" rx="9" ry="9" fill="#000" fill-opacity="0.715"/><ellipse cx="520" cy="140" rx="5" ry="7" fill="#000" fill-opacity="0.585"/><ellipse cx="533" cy="150" rx="9" ry="11" fill="#000" fill-opacity="0.806"/><ellipse cx="567" cy="154" rx="6" ry="13" fill="#000" fill-opacity="0.91"/><ellipse cx="574" cy="108" rx="3" ry="4" fill="#000" fill-opacity="0.26"/><ellipse cx="630" cy="80" rx="5" ry="6" fill="#000" fill-opacity="0.195"/><ellipse cx="580" cy="92" rx="8" ry="6" fill="#000" fill-opacity="0.195"/><ellipse cx="470" cy="120" rx="10" ry="5" fill="#000" fill-opacity="0.065"/><ellipse cx="529" cy="176" rx="7" ry="10" fill="#000" fill-opacity="0.39" transform="rotate(-40 529 176)"/><ellipse cx="552" cy="176" rx="8" ry="6" fill="#000" fill-opacity="0.455"/><ellipse cx="600" cy="184" rx="15" ry="5" fill="#000" fill-opacity="0.455"/><ellipse cx="550" cy="187" rx="7" ry="2" fill="#000" fill-opacity="0.325"/><ellipse cx="530" cy="165" rx="4" ry="4" fill="#000" fill-opacity="0.52"/><ellipse cx="605" cy="222" rx="4" ry="4" fill="#000" fill-opacity="1.0"/><ellipse cx="560" cy="228" rx="8" ry="5" fill="#000" fill-opacity="0.156"/><ellipse cx="650" cy="254" rx="5" ry="3" fill="#000" fill-opacity="0.52"/></g>
<g filter="url(#fDB)"><ellipse cx="162" cy="108" rx="14" ry="9" fill="#000" fill-opacity="0.39"/><ellipse cx="140" cy="110" rx="4" ry="10" fill="#000" fill-opacity="0.26"/><ellipse cx="210" cy="114" rx="15" ry="10" fill="#000" fill-opacity="0.845"/><ellipse cx="189" cy="121" rx="12" ry="5" fill="#000" fill-opacity="0.715"/><ellipse cx="228" cy="101" rx="10" ry="5" fill="#000" fill-opacity="0.494"/><ellipse cx="210" cy="128" rx="4" ry="6" fill="#000" fill-opacity="0.585"/><ellipse cx="165" cy="100" rx="8" ry="6" fill="#000" fill-opacity="0.286"/><ellipse cx="172" cy="140" rx="6" ry="8" fill="#000" fill-opacity="0.234" transform="rotate(30 172 140)"/><ellipse cx="150" cy="96" rx="8" ry="4" fill="#000" fill-opacity="0.156"/><ellipse cx="243" cy="226" rx="11" ry="15" fill="#000" fill-opacity="0.65"/><ellipse cx="258" cy="230" rx="6" ry="6" fill="#000" fill-opacity="0.39"/><ellipse cx="286" cy="190" rx="4" ry="8" fill="#000" fill-opacity="0.26"/><ellipse cx="280" cy="205" rx="5" ry="8" fill="#000" fill-opacity="0.195"/><ellipse cx="270" cy="222" rx="6" ry="6" fill="#000" fill-opacity="0.13"/><ellipse cx="228" cy="168" rx="5" ry="4" fill="#000" fill-opacity="0.195"/><ellipse cx="375" cy="90" rx="28" ry="10" fill="#000" fill-opacity="0.806"/><ellipse cx="345" cy="84" rx="6" ry="8" fill="#000" fill-opacity="0.754"/><ellipse cx="339" cy="84" rx="3" ry="4" fill="#000" fill-opacity="0.325"/><ellipse cx="415" cy="80" rx="22" ry="10" fill="#000" fill-opacity="0.585"/><ellipse cx="385" cy="70" rx="12" ry="10" fill="#000" fill-opacity="0.26"/><ellipse cx="348" cy="106" rx="10" ry="7" fill="#000" fill-opacity="0.364"/><ellipse cx="380" cy="102" rx="5" ry="5" fill="#000" fill-opacity="0.52"/><ellipse cx="392" cy="103" rx="8" ry="5" fill="#000" fill-opacity="0.455"/><ellipse cx="400" cy="88" rx="12" ry="6" fill="#000" fill-opacity="0.585"/><ellipse cx="475" cy="86" rx="25" ry="5" fill="#000" fill-opacity="0.91" transform="rotate(-5 475 86)"/><ellipse cx="466" cy="108" rx="14" ry="3" fill="#000" fill-opacity="0.52"/><ellipse cx="492" cy="89" rx="10" ry="4" fill="#000" fill-opacity="0.78"/><ellipse cx="448" cy="85" rx="12" ry="4" fill="#000" fill-opacity="0.715"/><ellipse cx="430" cy="80" rx="15" ry="8" fill="#000" fill-opacity="0.52"/><ellipse cx="498" cy="80" rx="6" ry="8" fill="#000" fill-opacity="0.455"/><ellipse cx="345" cy="158" rx="22" ry="9" fill="#000" fill-opacity="0.65"/><ellipse cx="400" cy="158" rx="20" ry="8" fill="#000" fill-opacity="0.39"/><ellipse cx="405" cy="164" rx="10" ry="5" fill="#000" fill-opacity="0.39"/><ellipse cx="394" cy="213" rx="9" ry="8" fill="#000" fill-opacity="0.546"/><ellipse cx="412" cy="170" rx="8" ry="5" fill="#000" fill-opacity="0.26"/><ellipse cx="420" cy="118" rx="6" ry="6" fill="#000" fill-opacity="0.585"/><ellipse cx="450" cy="112" rx="12" ry="5" fill="#000" fill-opacity="0.585"/><ellipse cx="435" cy="128" rx="12" ry="10" fill="#000" fill-opacity="0.52"/><ellipse cx="470" cy="102" rx="15" ry="6" fill="#000" fill-opacity="0.13"/><ellipse cx="552" cy="112" rx="20" ry="14" fill="#000" fill-opacity="0.26"/><ellipse cx="525" cy="90" rx="15" ry="3" fill="#000" fill-opacity="0.26"/><ellipse cx="540" cy="120" rx="10" ry="6" fill="#000" fill-opacity="0.195"/><ellipse cx="591" cy="108" rx="17" ry="7" fill="#000" fill-opacity="1.0" transform="rotate(-35 591 108)"/><ellipse cx="602" cy="98" rx="6" ry="4" fill="#000" fill-opacity="0.78"/><ellipse cx="604" cy="98" rx="3" ry="5" fill="#000" fill-opacity="0.65"/><ellipse cx="562" cy="133" rx="2" ry="3" fill="#000" fill-opacity="0.65"/><ellipse cx="590" cy="208" rx="6" ry="6" fill="#000" fill-opacity="0.26"/><ellipse cx="594" cy="225" rx="5" ry="7" fill="#000" fill-opacity="0.39"/><ellipse cx="560" cy="233" rx="5" ry="3" fill="#000" fill-opacity="0.325"/></g>
</g>
<path d="M434.7,97.3 L436.3,96.1 L438.2,95.5 L440.4,95.4 L442.5,94.7 L445.1,95.0 L445.5,97.6 L443.8,97.7 L442.2,98.2 L441.6,99.0 L442.8,100.2 L443.6,101.6 L444.6,102.9 L445.1,105.2 L446.7,106.9 L445.5,108.1 L446.1,109.8 L446.7,111.5 L444.6,111.9 L442.5,112.5 L439.9,111.5 L438.2,110.4 L438.8,108.9 L438.9,107.3 L439.0,106.0 L437.5,103.8 L435.5,101.8 L435.5,99.9 L434.7,98.7Z M192.1,95.2 L193.9,94.9 L195.7,95.4 L197.5,95.7 L199.2,95.7 L201.0,95.5 L203.1,95.3 L205.2,95.5 L204.8,93.8 L203.3,92.7 L201.8,91.7 L200.1,92.0 L198.4,92.2 L195.7,93.1 L193.1,94.3Z M200.1,103.9 L201.8,103.8 L202.4,100.8 L202.7,98.9 L203.6,97.3 L204.6,96.8 L201.8,96.6 L200.5,97.6 L199.6,99.0 L199.3,100.8 L199.4,102.5Z M205.0,96.6 L206.5,98.1 L207.3,100.2 L208.8,101.7 L210.2,101.1 L210.2,98.2 L213.2,97.3 L210.6,96.2 L208.4,95.9 L206.2,96.1Z M207.3,103.9 L209.4,103.8 L211.4,104.3 L213.4,103.4 L215.1,102.0 L213.2,102.0 L211.4,102.4 L209.7,103.1 L207.8,103.4Z M213.5,101.1 L215.5,100.7 L217.6,101.2 L219.6,100.8 L219.3,99.6 L217.6,99.6 L215.9,100.4 L214.2,100.4Z" fill="#fff" stroke="#000" stroke-width="1.15"/>
<path d="M59.7,62.1 L61.3,61.1 L63.2,60.8 L65.0,60.9 L66.7,60.3 L68.4,61.1 L70.2,61.4 L71.0,59.8 L69.1,59.5 L67.2,58.7 L65.6,58.3 L63.9,57.9 L62.3,57.3 L63.2,56.1 L65.0,55.7 L66.8,55.2 L68.4,54.4 L70.1,53.5 L71.8,53.0 L73.7,53.0 L75.6,53.0 L77.4,52.3 L79.2,52.1 L80.8,52.6 L82.6,52.1 L84.1,52.8 L85.9,52.8 L87.6,53.0 L89.3,53.4 L91.1,53.0 L92.8,53.5 L94.5,54.1 L96.3,54.2 L98.1,53.5 L99.8,54.2 L101.6,53.9 L103.3,54.6 L105.0,55.1 L106.8,54.9 L108.6,55.1 L110.3,55.2 L112.0,55.8 L113.8,55.5 L115.5,54.9 L117.3,55.2 L119.0,54.9 L120.7,55.1 L122.5,54.8 L124.2,54.6 L126.0,54.4 L127.7,53.7 L129.5,53.5 L131.3,54.1 L133.0,55.2 L134.7,55.0 L136.4,55.4 L138.2,55.4 L139.9,55.2 L141.7,54.9 L143.4,55.4 L145.1,55.9 L146.9,55.8 L148.6,56.1 L150.4,56.1 L152.2,56.2 L153.8,57.3 L155.6,57.2 L157.3,57.8 L159.2,57.3 L160.9,57.9 L162.6,57.6 L164.4,57.9 L166.1,57.5 L167.8,57.8 L169.6,58.2 L171.3,57.9 L173.1,58.0 L174.8,58.5 L176.6,58.4 L178.3,58.5 L180.0,58.1 L181.8,58.2 L183.5,57.9 L185.3,57.5 L185.2,55.4 L184.4,53.5 L186.4,52.4 L187.9,50.9 L190.1,51.7 L192.3,52.6 L193.1,55.2 L194.8,55.9 L196.6,56.5 L198.3,57.5 L199.2,59.3 L200.9,58.5 L202.7,58.2 L203.9,56.7 L204.5,54.9 L206.2,55.2 L208.0,55.4 L209.7,56.1 L210.6,58.7 L209.2,59.8 L207.9,61.0 L206.2,60.6 L204.5,60.5 L202.7,60.5 L201.5,61.6 L200.1,62.6 L199.2,64.0 L197.1,64.9 L194.9,65.7 L193.1,66.9 L191.4,68.0 L189.9,68.8 L188.8,70.0 L188.6,72.0 L188.4,74.0 L190.5,76.3 L192.3,77.0 L194.0,77.2 L195.7,77.7 L197.5,78.0 L199.4,78.1 L201.1,78.6 L202.7,79.6 L204.3,80.0 L205.9,80.5 L207.5,80.3 L209.2,80.5 L209.3,83.3 L210.6,85.0 L211.9,86.0 L213.2,87.1 L214.9,86.2 L214.8,84.3 L215.3,82.4 L214.1,80.6 L215.5,79.9 L217.2,79.5 L218.4,78.4 L219.3,76.3 L217.5,74.5 L217.0,71.9 L217.5,69.3 L216.3,67.9 L218.2,68.2 L220.0,68.0 L221.9,68.0 L223.6,68.6 L225.4,68.2 L227.1,68.7 L228.9,69.4 L230.6,70.1 L231.5,72.8 L233.2,74.5 L235.9,74.7 L237.4,74.1 L238.5,72.8 L240.2,71.4 L241.0,73.0 L242.0,74.5 L244.6,76.3 L246.3,78.4 L248.9,80.1 L250.7,80.8 L252.4,81.5 L255.0,83.3 L255.6,85.5 L253.3,86.9 L251.2,88.0 L248.9,88.5 L247.2,88.7 L245.4,88.4 L243.7,89.0 L242.0,89.6 L240.2,88.9 L238.5,88.9 L236.7,89.2 L235.0,90.0 L233.7,91.1 L232.4,92.4 L234.2,92.2 L235.9,91.5 L237.6,91.0 L240.7,91.5 L238.5,92.9 L239.7,94.7 L241.1,96.1 L242.8,96.4 L244.6,96.6 L246.3,96.9 L248.1,96.1 L245.4,97.8 L243.8,98.8 L242.0,98.9 L239.7,99.3 L237.8,100.4 L237.6,99.6 L235.9,98.9 L233.2,99.6 L230.6,100.4 L229.4,102.2 L230.6,103.8 L228.9,104.3 L226.3,104.8 L223.6,105.9 L223.6,107.3 L221.9,109.0 L221.4,110.4 L220.2,112.2 L220.9,114.8 L219.3,116.2 L216.8,117.6 L214.6,118.8 L213.1,119.7 L211.8,120.8 L210.7,123.6 L211.7,125.3 L212.1,127.2 L212.6,128.9 L213.0,130.6 L212.5,132.8 L211.3,133.0 L210.0,131.3 L208.5,128.8 L208.3,126.2 L206.2,124.4 L203.9,125.0 L201.8,123.7 L199.2,123.6 L196.6,124.1 L197.0,126.2 L194.9,126.0 L192.3,125.1 L190.5,125.2 L188.8,125.1 L187.0,125.8 L185.4,127.2 L183.5,128.3 L183.3,129.9 L182.8,131.4 L182.5,133.2 L182.3,135.0 L182.1,138.1 L183.2,140.9 L184.9,143.4 L186.3,144.3 L187.9,145.1 L189.7,144.9 L191.4,144.4 L194.0,144.1 L194.9,142.0 L195.2,140.2 L197.2,139.7 L199.2,139.3 L201.3,139.5 L200.3,142.0 L199.6,144.8 L199.6,146.5 L198.7,148.1 L197.8,149.3 L201.0,149.3 L202.7,149.0 L204.5,149.1 L207.3,150.4 L206.9,153.3 L207.2,155.1 L206.9,156.9 L207.1,158.1 L208.8,160.2 L210.9,161.6 L213.5,160.4 L215.8,160.5 L217.7,161.9 L217.4,163.0 L216.1,162.5 L214.1,161.4 L212.8,162.8 L212.5,164.2 L211.1,163.5 L208.8,162.6 L206.7,161.9 L204.5,159.8 L203.1,158.4 L202.3,157.0 L201.3,155.6 L200.1,154.2 L198.4,153.4 L196.6,153.3 L194.9,152.6 L193.1,152.5 L192.0,150.9 L190.5,149.8 L187.9,148.6 L186.1,148.7 L184.4,149.5 L182.6,149.3 L180.9,148.6 L178.3,147.2 L175.7,146.0 L174.0,145.1 L172.2,144.9 L171.0,143.8 L169.6,142.8 L168.7,141.1 L169.1,139.2 L167.8,137.1 L166.2,135.8 L165.2,134.1 L163.6,133.3 L162.6,131.8 L160.9,129.7 L159.1,128.1 L157.0,126.2 L155.8,124.4 L155.5,122.3 L152.5,121.3 L153.0,124.1 L154.0,125.5 L155.3,126.5 L156.8,128.8 L158.2,131.4 L159.3,132.9 L159.8,134.6 L161.2,136.5 L161.0,136.9 L160.0,135.7 L157.7,134.1 L157.2,132.3 L155.7,131.5 L154.8,130.0 L153.5,128.5 L153.9,127.8 L152.9,126.5 L151.8,125.3 L150.4,123.6 L149.2,121.5 L148.5,120.1 L146.4,117.8 L144.3,116.7 L142.4,116.4 L141.7,114.6 L139.9,112.4 L139.1,110.8 L138.2,109.9 L136.8,107.3 L135.9,106.2 L136.3,103.8 L135.6,102.0 L136.4,99.0 L136.4,96.1 L135.9,93.8 L135.2,92.2 L138.2,92.4 L138.5,91.2 L137.3,90.3 L134.7,88.9 L132.5,88.4 L130.3,87.6 L129.5,85.5 L127.9,84.7 L126.9,83.3 L125.1,81.5 L124.2,79.8 L122.7,78.9 L121.6,77.5 L120.3,76.2 L119.0,75.0 L117.2,75.2 L115.5,74.7 L112.9,74.0 L111.1,73.5 L109.4,72.6 L107.7,72.0 L105.9,71.9 L103.7,71.9 L101.6,71.9 L99.3,71.4 L97.2,70.7 L94.6,71.0 L92.0,71.9 L90.2,72.9 L88.0,73.3 L89.4,70.7 L91.1,69.8 L89.4,70.4 L87.6,71.0 L86.6,72.4 L85.0,73.1 L83.8,75.0 L82.3,75.8 L80.6,76.4 L78.9,77.3 L77.1,78.0 L75.5,79.0 L73.7,79.4 L72.0,80.4 L70.2,80.6 L68.5,80.5 L66.9,81.2 L65.3,81.5 L66.7,80.5 L68.4,80.1 L70.6,79.4 L72.8,78.5 L74.7,77.9 L76.3,76.8 L77.3,75.2 L78.9,74.3 L76.3,74.0 L74.5,74.5 L72.8,74.0 L70.2,72.4 L68.3,72.3 L66.7,71.5 L64.4,70.1 L64.6,67.5 L65.8,66.3 L67.9,66.3 L69.9,65.6 L71.9,65.7 L72.3,64.0 L69.3,64.2 L67.1,63.9 L64.9,64.0 L62.3,63.5 L60.6,62.8Z M217.7,161.9 L218.8,163.0 L219.8,160.7 L220.9,158.8 L222.2,157.7 L224.9,157.2 L226.8,156.2 L228.4,155.3 L227.8,157.7 L228.9,157.2 L230.3,156.7 L230.6,155.6 L231.1,156.9 L233.6,157.9 L235.4,158.6 L237.2,158.4 L239.2,158.8 L241.1,158.4 L242.9,157.9 L244.7,158.3 L244.6,159.5 L246.3,160.4 L247.2,162.1 L248.4,162.5 L250.7,164.2 L252.1,165.1 L252.9,166.5 L254.9,166.8 L256.8,166.5 L258.9,167.0 L261.5,168.4 L262.9,169.6 L263.8,171.7 L265.5,173.8 L265.7,175.9 L264.6,177.0 L266.3,177.9 L268.1,178.4 L270.7,178.1 L272.1,179.2 L273.7,180.0 L275.1,181.2 L277.3,181.6 L279.5,181.9 L281.6,182.2 L283.8,182.3 L285.1,183.4 L286.7,184.1 L287.8,185.4 L289.5,185.8 L291.1,186.3 L291.7,187.9 L292.0,189.6 L291.7,192.4 L290.2,193.8 L289.0,195.4 L287.6,196.9 L287.0,198.9 L284.9,200.7 L284.4,202.8 L284.7,205.0 L284.3,208.2 L283.8,209.8 L283.3,211.5 L282.5,213.5 L281.5,215.5 L279.5,217.1 L277.3,217.7 L275.1,217.8 L273.5,218.8 L271.6,219.0 L270.3,220.7 L268.5,221.7 L268.2,223.9 L267.9,226.1 L267.0,227.5 L265.8,228.7 L264.9,230.1 L263.8,231.3 L261.7,233.6 L260.3,234.6 L259.6,236.0 L258.2,237.6 L255.9,238.0 L253.3,237.4 L250.9,236.6 L251.0,238.0 L252.9,239.4 L253.8,240.8 L252.4,243.6 L249.8,244.8 L247.6,245.0 L245.4,245.3 L244.0,246.2 L244.2,248.0 L241.4,249.0 L239.3,248.5 L239.3,250.6 L241.6,251.6 L240.0,252.3 L239.0,255.0 L237.5,255.5 L236.0,256.2 L234.8,258.3 L236.3,259.1 L237.6,260.2 L237.8,261.1 L236.6,262.5 L235.0,263.2 L233.2,265.0 L232.2,267.6 L233.4,268.6 L233.2,269.9 L235.0,271.6 L237.0,272.2 L238.8,273.0 L235.9,273.4 L233.2,273.9 L230.6,273.4 L228.0,272.1 L226.5,271.2 L225.4,269.9 L222.8,268.6 L222.3,267.1 L221.9,265.5 L222.1,263.7 L221.4,262.0 L222.3,260.6 L222.9,259.0 L221.0,258.5 L222.8,256.7 L224.0,254.1 L225.4,252.3 L223.6,251.5 L224.0,249.7 L223.8,247.9 L224.2,246.2 L224.7,244.5 L224.5,242.7 L225.5,241.1 L226.1,239.2 L227.1,237.5 L227.7,235.7 L228.2,233.1 L228.5,231.3 L228.0,229.6 L228.3,227.8 L228.2,226.1 L229.0,224.4 L229.4,222.6 L229.5,220.3 L229.9,218.2 L230.5,216.0 L230.3,213.8 L230.6,211.6 L230.1,209.4 L228.4,207.8 L226.7,207.1 L225.4,205.9 L223.6,204.7 L221.6,203.8 L220.7,202.4 L219.6,201.2 L218.8,199.6 L218.1,198.0 L217.2,196.3 L216.3,194.5 L215.4,192.7 L214.4,190.8 L213.4,189.1 L211.1,187.5 L210.9,185.2 L212.7,183.0 L213.2,181.4 L211.6,180.9 L211.8,178.8 L213.0,177.0 L213.2,175.4 L214.9,174.7 L215.3,173.8 L217.0,172.4 L217.9,170.3 L217.7,167.4 L217.5,165.3 L216.8,164.0Z M409.0,122.2 L406.8,121.6 L405.0,122.2 L403.3,122.9 L401.5,122.6 L399.8,122.0 L396.6,121.6 L394.6,120.9 L392.8,119.9 L391.1,119.7 L389.3,119.5 L387.6,120.9 L387.6,122.7 L385.8,123.9 L384.1,123.0 L382.3,122.8 L380.6,122.3 L379.4,120.4 L377.4,119.8 L375.4,119.4 L372.8,118.8 L371.0,117.8 L370.5,116.6 L371.9,115.3 L371.0,113.1 L371.9,112.2 L370.1,111.8 L367.5,112.4 L365.8,112.2 L364.0,112.2 L361.4,112.7 L359.7,112.9 L357.9,112.5 L356.2,113.1 L354.4,113.1 L352.6,113.5 L351.0,114.5 L348.9,115.5 L345.7,115.3 L343.5,114.1 L342.2,114.3 L341.7,115.9 L340.8,117.4 L339.4,118.2 L337.9,118.7 L336.0,120.9 L335.6,123.6 L336.0,125.3 L334.4,126.5 L332.6,127.6 L330.0,128.6 L328.5,129.8 L327.4,131.4 L326.3,133.4 L325.1,135.3 L324.3,136.8 L323.9,138.5 L323.1,140.2 L324.4,142.8 L323.9,145.5 L323.9,147.2 L323.9,149.0 L322.4,151.2 L323.4,153.3 L323.6,155.1 L325.7,156.7 L327.1,158.1 L329.2,160.0 L329.7,161.4 L330.9,163.9 L333.5,165.1 L334.8,166.3 L336.1,167.4 L338.0,168.1 L339.6,169.3 L341.4,168.8 L343.1,168.1 L345.7,167.9 L347.4,168.5 L349.2,168.6 L351.0,167.9 L352.7,167.2 L355.3,166.1 L357.9,165.8 L360.5,166.0 L361.5,167.7 L362.6,169.3 L364.9,169.3 L367.5,168.9 L368.7,170.2 L369.8,172.6 L369.1,175.2 L368.9,177.9 L368.0,178.8 L369.0,180.4 L370.1,181.9 L372.1,183.8 L373.6,185.8 L374.2,187.7 L375.1,189.7 L375.4,191.9 L375.6,193.7 L376.2,195.4 L375.3,197.6 L374.5,199.8 L374.1,202.0 L373.5,204.2 L373.3,207.3 L374.5,209.4 L375.5,211.0 L375.6,213.0 L376.5,214.7 L377.1,216.4 L378.0,217.3 L378.1,219.1 L378.3,220.8 L378.8,222.6 L379.2,224.3 L380.1,226.0 L381.5,227.3 L382.4,229.3 L383.2,231.3 L384.4,233.9 L384.8,236.6 L386.7,237.8 L387.6,238.0 L389.4,237.5 L391.1,236.6 L392.8,236.5 L394.6,236.9 L396.3,236.6 L398.9,236.0 L401.5,234.5 L403.0,233.5 L404.1,232.2 L405.9,229.6 L407.6,227.8 L409.2,226.9 L409.4,224.9 L410.1,222.9 L411.1,221.3 L412.6,220.0 L414.4,219.0 L414.3,217.3 L414.6,215.5 L413.7,212.9 L415.3,211.8 L416.4,210.3 L417.6,208.9 L419.0,207.7 L420.8,206.6 L422.5,205.4 L423.0,203.4 L423.9,201.5 L423.7,199.8 L423.4,198.0 L423.3,196.3 L422.7,194.6 L422.2,192.7 L421.6,191.0 L421.1,188.4 L420.4,186.6 L421.6,184.9 L422.8,182.3 L424.2,180.5 L425.9,178.4 L427.3,177.1 L428.6,175.8 L430.1,174.8 L431.2,173.5 L432.4,172.4 L433.7,171.4 L434.7,170.0 L436.2,168.4 L437.3,166.5 L438.5,164.9 L439.2,163.0 L440.4,161.3 L441.3,159.5 L441.5,157.8 L442.2,156.3 L440.5,156.4 L439.0,157.0 L437.2,157.0 L435.5,157.6 L433.3,157.9 L431.2,158.8 L428.6,157.0 L428.2,155.1 L426.8,153.3 L425.1,152.5 L423.8,151.1 L422.5,149.8 L420.7,148.1 L419.0,145.5 L417.8,142.8 L417.6,140.2 L416.9,138.5 L415.9,137.0 L414.8,135.8 L413.7,133.2 L412.0,130.6 L411.1,128.8 L410.1,126.8 L409.6,124.6Z M409.6,124.6 L410.6,126.0 L411.1,127.6 L412.5,128.3 L413.4,126.4 L413.7,125.3 L413.7,127.9 L415.4,129.5 L416.4,131.4 L417.3,132.9 L418.1,134.4 L419.3,135.6 L420.2,136.9 L420.7,138.5 L421.2,140.2 L422.4,141.9 L423.3,143.7 L423.8,145.7 L425.1,147.2 L426.0,149.1 L427.3,150.7 L427.5,152.5 L428.2,154.2 L430.3,154.7 L432.9,153.5 L435.0,152.7 L437.3,152.5 L439.9,151.1 L441.8,150.4 L443.7,149.7 L445.2,148.4 L446.9,147.6 L449.5,146.3 L451.8,144.4 L453.5,142.8 L454.7,141.1 L455.6,139.2 L457.0,137.8 L455.2,135.7 L452.1,135.1 L450.9,133.4 L450.9,130.9 L449.5,132.3 L447.7,134.6 L446.0,135.0 L444.3,134.6 L442.7,134.1 L442.2,131.3 L441.6,133.2 L440.8,132.3 L439.9,130.4 L438.2,128.3 L436.9,126.5 L436.4,124.4 L438.2,123.9 L440.2,124.8 L441.6,126.4 L442.5,128.3 L444.1,129.6 L446.0,130.0 L447.7,130.5 L449.5,130.4 L452.1,131.8 L453.8,132.4 L455.6,132.5 L457.7,133.1 L460.0,133.0 L462.1,132.5 L464.3,132.7 L466.5,132.4 L468.7,132.5 L470.4,135.0 L472.7,137.1 L474.8,137.1 L473.0,137.8 L474.3,139.2 L475.7,140.6 L477.4,140.6 L479.1,140.2 L479.1,142.0 L479.7,143.7 L479.7,146.0 L480.5,148.1 L481.8,150.7 L482.8,152.5 L483.2,154.6 L483.9,156.2 L484.9,157.7 L485.3,159.5 L486.1,161.2 L487.9,162.8 L489.1,161.4 L490.5,160.7 L492.0,159.0 L491.9,156.0 L492.7,153.3 L492.6,151.6 L492.4,149.8 L494.3,148.1 L496.2,147.2 L497.5,145.8 L499.2,144.9 L500.6,143.9 L501.9,142.6 L503.6,142.0 L504.4,139.3 L507.0,139.0 L509.7,138.5 L512.3,137.6 L513.5,140.2 L514.9,142.3 L516.6,144.6 L517.5,147.6 L518.7,149.3 L521.0,148.1 L522.7,148.1 L523.3,151.1 L523.5,152.8 L524.5,154.2 L524.2,156.4 L524.7,158.6 L524.3,160.3 L524.1,162.1 L524.1,163.3 L525.7,164.3 L527.1,165.6 L527.6,168.2 L527.8,170.1 L528.8,171.7 L530.1,172.8 L531.5,173.7 L533.2,174.7 L534.4,174.4 L534.1,172.1 L533.0,170.0 L532.3,167.4 L530.6,166.1 L529.5,164.9 L528.0,164.2 L527.1,162.5 L525.9,160.4 L525.7,158.6 L526.2,156.0 L527.1,153.5 L528.0,153.3 L528.8,154.7 L531.5,156.0 L532.3,157.7 L534.9,158.6 L535.8,161.2 L535.5,161.9 L537.0,161.2 L538.4,160.4 L539.7,158.6 L541.2,157.7 L542.8,156.9 L543.3,154.2 L543.2,152.5 L542.8,150.7 L541.1,148.6 L539.8,147.3 L538.6,145.8 L537.2,143.7 L538.4,141.1 L540.2,139.3 L541.9,139.2 L543.8,139.3 L545.4,141.4 L544.9,140.2 L547.2,139.3 L548.8,138.4 L550.6,138.1 L552.4,137.6 L554.1,137.0 L555.9,136.7 L557.4,135.6 L558.5,134.1 L559.5,132.4 L561.1,131.4 L562.0,128.8 L562.9,126.8 L564.6,125.3 L565.1,122.7 L563.7,120.9 L562.9,118.3 L561.1,116.6 L562.0,114.8 L563.7,112.5 L566.3,111.8 L564.6,111.2 L562.9,110.8 L560.2,111.8 L558.5,109.5 L558.1,108.3 L560.2,107.8 L561.9,106.5 L563.7,105.5 L564.1,107.1 L564.6,108.7 L564.1,109.0 L566.3,107.8 L569.3,107.1 L570.7,107.8 L571.0,110.4 L573.3,111.3 L573.0,113.9 L573.3,116.6 L575.1,116.4 L577.7,115.5 L578.5,113.9 L578.2,111.3 L576.8,109.5 L575.1,107.3 L576.8,106.4 L578.5,105.5 L579.4,102.9 L582.0,102.0 L584.7,102.0 L586.8,101.0 L589.0,100.3 L591.1,99.2 L592.5,97.3 L594.2,94.7 L595.6,93.1 L597.4,92.0 L597.7,89.4 L597.9,87.6 L598.3,85.9 L599.1,83.8 L597.4,83.4 L596.0,82.4 L594.2,82.3 L592.5,82.4 L590.8,81.0 L588.7,80.6 L590.0,79.2 L591.6,78.0 L593.3,76.8 L595.2,76.1 L596.9,74.9 L598.5,73.9 L600.3,73.3 L602.1,73.2 L603.9,73.5 L605.6,72.9 L607.6,72.6 L609.7,72.6 L611.7,73.1 L613.9,73.1 L616.0,73.6 L618.7,72.8 L620.4,73.3 L622.1,73.3 L623.0,71.0 L624.8,70.1 L626.5,68.9 L628.2,68.6 L630.0,68.6 L631.7,68.7 L633.7,68.1 L635.8,68.1 L637.8,67.9 L637.0,69.5 L635.4,70.4 L634.4,71.9 L632.4,72.7 L630.6,73.8 L629.1,75.4 L627.3,76.1 L625.6,77.1 L624.6,78.7 L624.4,80.6 L625.1,82.3 L624.8,84.1 L625.6,85.8 L626.0,87.6 L628.3,85.9 L629.6,84.1 L631.7,82.0 L633.5,82.0 L634.9,81.0 L635.2,78.5 L637.5,78.0 L636.1,76.3 L637.8,74.5 L639.7,73.6 L641.3,72.2 L643.3,72.1 L645.3,72.5 L647.2,72.1 L649.2,71.9 L651.1,71.4 L652.6,70.2 L654.4,69.6 L656.1,68.8 L657.9,68.5 L659.5,67.7 L661.4,67.5 L663.1,67.6 L664.9,67.9 L666.5,67.0 L667.4,65.4 L668.5,63.9 L670.1,63.1 L669.7,61.4 L669.8,59.6 L670.4,57.9 L670.1,56.1 L668.3,56.0 L666.6,55.9 L664.8,55.9 L663.2,54.8 L661.4,55.2 L659.6,55.2 L657.9,54.7 L656.1,55.0 L654.4,54.9 L652.6,54.7 L650.9,54.1 L649.2,54.2 L647.5,54.7 L645.7,55.0 L643.9,54.7 L642.2,55.1 L640.5,55.1 L638.8,54.3 L636.9,54.9 L635.2,54.3 L633.5,53.8 L631.7,53.8 L630.0,53.7 L628.3,52.9 L626.5,53.1 L624.7,53.1 L623.0,52.6 L621.3,52.5 L619.5,52.7 L617.8,52.2 L616.0,52.2 L614.3,51.7 L612.6,51.1 L610.9,50.8 L609.1,50.9 L607.2,51.1 L605.6,50.3 L603.8,50.5 L602.1,50.4 L600.3,50.4 L598.6,50.3 L596.9,50.0 L595.1,49.9 L593.4,51.0 L591.7,51.4 L589.8,50.8 L588.1,51.6 L586.4,51.7 L584.6,51.5 L582.9,52.3 L581.1,52.0 L579.4,52.6 L577.8,51.2 L575.9,50.0 L574.3,49.1 L572.5,48.6 L570.7,48.2 L569.0,48.4 L567.3,49.0 L565.5,49.0 L563.7,48.6 L562.0,49.1 L560.3,48.5 L558.5,48.3 L556.7,48.6 L555.0,48.1 L553.3,48.1 L551.5,47.6 L549.8,47.7 L548.0,47.7 L546.2,47.6 L544.5,48.1 L542.8,48.2 L541.1,48.6 L539.9,47.4 L538.4,46.5 L539.8,45.2 L541.6,44.7 L542.8,43.3 L541.2,42.3 L539.2,42.6 L537.6,41.6 L534.6,40.9 L532.6,40.9 L530.7,41.5 L528.9,42.3 L527.1,43.0 L525.4,43.7 L523.5,43.2 L521.9,43.8 L520.1,44.3 L518.3,43.6 L516.6,44.2 L514.9,44.2 L513.2,44.9 L511.4,44.9 L509.7,44.7 L507.9,45.2 L506.2,45.8 L504.4,46.5 L503.6,48.2 L501.6,47.9 L499.7,47.6 L497.7,48.2 L495.7,47.9 L494.7,49.3 L493.1,50.0 L493.1,51.7 L491.0,50.6 L488.7,50.3 L486.9,50.5 L485.3,49.4 L483.5,49.5 L482.4,50.9 L480.9,51.7 L479.7,53.8 L479.1,56.1 L479.9,54.0 L480.0,51.7 L479.1,49.5 L477.4,49.1 L475.7,49.4 L473.9,49.5 L472.7,50.8 L472.2,52.6 L471.1,54.5 L469.5,56.1 L467.8,55.8 L466.0,55.9 L464.3,55.6 L462.3,54.9 L460.3,54.7 L458.2,54.7 L456.9,55.9 L455.6,57.0 L453.9,57.0 L452.1,57.5 L450.4,57.6 L448.6,57.2 L446.0,56.3 L444.4,56.6 L442.9,57.1 L441.2,57.1 L439.7,57.7 L438.2,58.2 L436.1,58.2 L434.1,57.5 L432.1,57.0 L430.5,58.6 L429.4,60.5 L429.8,61.0 L427.4,60.7 L425.1,60.5 L423.3,58.4 L421.1,58.4 L419.0,57.5 L417.4,56.5 L415.5,56.1 L413.8,55.6 L411.9,56.1 L410.3,55.4 L408.5,55.1 L406.7,55.1 L405.0,54.7 L403.4,53.4 L401.5,52.6 L399.3,52.7 L397.2,52.4 L395.0,53.1 L392.8,53.3 L391.1,53.7 L389.2,53.6 L387.6,54.4 L385.9,55.2 L384.1,55.2 L382.5,56.5 L380.6,57.0 L378.0,58.7 L376.6,60.0 L375.4,61.4 L374.5,63.1 L371.9,64.9 L369.3,65.7 L367.0,66.2 L364.9,67.3 L363.3,68.0 L361.8,68.7 L361.4,71.0 L362.3,73.6 L364.0,75.2 L366.7,75.4 L368.2,74.5 L369.8,73.6 L371.2,72.2 L371.9,73.6 L372.4,74.7 L373.6,76.1 L375.0,78.4 L375.4,79.9 L377.5,79.9 L379.2,79.5 L380.6,78.4 L381.5,76.3 L381.8,74.3 L383.5,73.8 L385.0,72.8 L383.2,70.8 L382.9,69.3 L384.1,67.5 L385.3,66.4 L387.2,66.3 L388.5,65.2 L390.2,63.8 L391.9,61.7 L394.6,61.7 L397.2,63.1 L396.3,64.3 L394.7,65.3 L392.8,65.7 L390.2,67.0 L390.0,70.1 L391.6,71.2 L394.0,71.2 L396.3,71.5 L398.5,71.6 L400.7,71.0 L402.4,71.2 L404.1,71.5 L405.5,72.1 L402.4,72.2 L401.5,72.8 L398.9,72.9 L396.7,72.7 L394.6,73.1 L393.7,74.0 L395.1,75.0 L394.2,76.3 L395.1,77.1 L392.8,77.1 L391.1,76.1 L389.3,77.5 L389.3,79.2 L389.7,80.3 L387.6,80.8 L386.7,81.7 L385.0,81.0 L382.3,81.2 L380.7,82.0 L378.9,82.2 L377.1,82.4 L374.5,81.7 L371.9,82.4 L370.1,81.5 L369.8,80.6 L370.7,78.4 L371.0,76.1 L369.3,77.0 L367.0,77.8 L366.8,79.8 L367.7,82.4 L364.9,83.3 L363.1,83.1 L361.4,83.6 L360.7,85.4 L358.8,86.8 L357.1,87.5 L355.5,87.8 L355.3,89.0 L353.0,89.9 L350.6,90.5 L349.4,89.9 L350.1,91.7 L347.5,91.5 L344.5,92.2 L345.2,93.3 L346.9,93.4 L348.3,94.1 L350.1,95.9 L350.6,98.2 L350.1,100.8 L348.4,101.2 L346.6,101.0 L344.9,100.9 L343.1,100.8 L341.3,100.8 L339.6,100.4 L336.7,101.3 L337.2,103.4 L337.4,106.0 L336.7,107.5 L336.1,109.0 L337.4,109.9 L337.2,112.2 L339.6,111.8 L341.7,112.5 L342.9,113.9 L344.9,112.7 L346.9,113.1 L348.9,112.7 L351.3,111.1 L353.0,109.0 L352.2,107.8 L353.4,106.6 L354.3,105.2 L356.1,103.9 L358.3,103.6 L358.1,101.7 L360.5,101.0 L363.2,101.5 L365.8,100.3 L368.0,99.2 L370.5,100.1 L371.2,101.8 L373.6,103.6 L375.3,104.0 L376.8,104.8 L378.3,105.9 L379.9,106.9 L379.9,108.7 L379.9,110.4 L381.5,109.5 L382.5,108.7 L381.5,107.4 L382.7,106.0 L385.0,106.7 L383.2,105.2 L380.6,103.9 L379.7,103.4 L377.1,102.2 L376.2,100.6 L374.2,99.0 L374.2,97.6 L376.2,96.8 L376.6,98.2 L378.0,97.6 L379.7,99.9 L382.3,101.3 L385.0,102.5 L386.7,103.8 L386.5,106.2 L388.5,107.8 L389.3,109.5 L390.4,112.2 L391.9,113.2 L392.8,111.7 L393.2,110.4 L394.6,110.1 L392.8,108.7 L392.1,106.4 L394.2,105.7 L396.1,105.8 L398.0,105.5 L398.9,106.0 L401.1,105.4 L403.3,104.8 L401.5,103.4 L401.4,101.3 L402.8,99.4 L404.3,97.6 L406.2,95.5 L408.2,95.5 L411.1,96.4 L409.4,97.5 L411.1,99.0 L413.7,98.5 L416.5,97.5 L414.3,96.6 L415.7,95.5 L417.3,95.1 L419.0,94.7 L421.2,94.3 L419.8,95.9 L418.6,98.5 L419.8,99.4 L422.5,101.1 L423.6,102.9 L425.3,104.1 L424.7,104.6 L422.5,105.3 L420.7,105.5 L419.0,105.3 L417.3,104.5 L415.5,104.1 L413.8,103.3 L412.0,103.4 L410.2,103.5 L408.5,103.8 L406.7,104.1 L405.0,104.8 L403.3,105.2 L400.7,106.4 L398.4,107.8 L399.4,109.5 L400.1,111.3 L401.5,112.5 L404.1,113.6 L405.9,113.1 L408.5,113.6 L411.1,113.6 L413.7,112.9 L415.5,112.5 L415.1,114.3 L415.3,115.7 L414.6,117.4 L414.1,119.2 L412.9,121.8 L411.1,122.5 L409.0,122.2Z M35.3,56.1 L37.0,56.3 L38.8,56.1 L40.4,56.9 L42.3,57.2 L43.9,57.9 L45.6,58.5 L47.5,58.4 L49.6,59.3 L51.9,59.6 L53.3,60.6 L55.3,60.1 L56.7,61.2 L54.5,62.2 L53.2,63.2 L51.9,64.2 L49.2,64.0 L47.7,62.8 L45.8,62.6 L43.6,62.2 L41.4,62.2 L38.8,63.3 L37.0,62.8 L35.3,63.3 L34.8,61.5 L35.3,59.7 L35.0,57.9Z M240.2,67.5 L237.6,68.6 L235.6,68.5 L234.1,67.3 L232.4,67.2 L230.7,66.5 L228.9,66.8 L227.3,65.5 L225.6,64.6 L223.6,64.0 L221.6,63.9 L219.6,63.1 L217.5,63.5 L219.3,62.8 L220.7,61.3 L222.7,61.2 L224.5,60.5 L223.6,57.9 L221.6,58.1 L220.4,56.0 L218.7,55.3 L216.6,55.8 L214.8,55.3 L213.2,54.4 L211.4,53.9 L209.7,54.9 L207.9,54.9 L206.2,54.9 L204.5,54.4 L202.6,54.2 L201.0,53.3 L199.4,52.2 L197.5,52.6 L195.7,50.0 L197.3,48.9 L199.5,49.6 L201.0,48.2 L202.7,48.3 L204.5,48.8 L206.2,48.7 L207.9,47.4 L209.7,48.2 L211.4,47.3 L213.2,47.9 L215.1,47.6 L216.5,48.7 L217.9,49.9 L219.6,50.1 L221.4,50.0 L222.7,51.6 L224.5,51.6 L226.0,52.6 L227.8,51.7 L229.3,52.4 L230.9,53.1 L232.4,53.9 L234.1,53.5 L235.7,54.2 L236.4,55.9 L237.6,57.0 L238.9,58.4 L240.7,58.4 L242.2,59.1 L243.7,59.8 L245.4,60.0 L243.7,61.5 L242.0,63.1 L240.2,65.7Z M147.8,56.1 L149.4,56.3 L151.1,55.6 L152.8,57.0 L154.5,57.0 L156.1,56.2 L157.8,56.6 L159.5,55.8 L161.2,55.8 L162.8,56.0 L164.5,56.8 L166.2,55.9 L167.8,56.5 L169.7,57.1 L171.2,55.2 L173.0,55.2 L174.7,54.7 L176.6,55.2 L176.6,52.6 L175.1,50.9 L173.1,50.0 L170.8,49.8 L168.7,49.1 L167.1,49.1 L165.5,49.3 L163.9,48.7 L162.2,49.1 L160.6,49.4 L159.0,48.9 L157.4,48.8 L155.7,49.3 L154.0,49.8 L152.1,48.7 L150.4,49.1 L148.6,49.3 L146.8,49.1 L145.2,50.0 L145.2,52.6 L146.6,54.2Z M133.8,51.0 L135.7,50.6 L137.3,51.7 L139.1,51.2 L140.8,52.4 L142.5,52.3 L144.2,51.7 L145.6,50.6 L147.3,50.2 L148.9,49.4 L150.4,48.6 L148.4,48.8 L146.9,47.4 L145.2,46.8 L143.4,46.6 L141.7,46.8 L139.9,46.1 L138.2,46.4 L136.4,46.8 L135.8,48.3 L135.1,49.9Z M196.6,43.0 L198.2,43.9 L199.9,43.0 L201.6,43.5 L203.2,43.6 L204.9,42.7 L206.6,42.5 L208.2,43.5 L209.9,42.7 L211.5,43.2 L213.2,43.5 L215.3,42.9 L216.7,41.2 L218.4,41.3 L219.5,39.5 L221.0,38.9 L222.8,39.1 L224.6,38.3 L226.8,39.0 L228.5,37.2 L230.6,37.7 L232.3,36.9 L234.0,36.3 L235.7,36.0 L237.6,36.4 L239.3,36.0 L240.8,34.6 L242.8,34.1 L244.6,33.3 L243.0,32.4 L241.2,31.8 L239.3,31.6 L237.6,31.7 L235.9,31.1 L234.1,31.5 L232.4,31.0 L230.6,32.0 L228.9,31.8 L227.1,31.4 L225.4,30.8 L223.6,31.4 L221.9,31.6 L220.3,31.8 L218.7,32.4 L217.0,32.5 L215.4,32.8 L213.6,31.5 L212.0,31.9 L210.4,32.0 L208.8,32.8 L207.1,32.7 L205.6,33.6 L203.9,33.4 L202.3,34.2 L200.7,33.9 L199.1,34.3 L197.4,34.8 L195.7,34.2 L193.7,34.4 L192.6,36.6 L190.5,36.8 L191.3,38.5 L192.7,39.5 L194.7,40.0 L195.4,41.7Z M192.3,46.3 L194.0,47.1 L195.7,47.0 L197.5,46.7 L199.2,45.8 L201.0,46.0 L202.7,46.7 L204.5,46.9 L206.2,45.4 L207.9,45.7 L209.7,47.0 L211.4,46.3 L213.2,44.7 L211.2,44.9 L209.8,43.4 L207.9,43.1 L206.2,43.4 L204.5,42.8 L202.7,42.4 L201.0,42.9 L199.2,43.2 L197.5,43.0 L195.8,43.7 L193.9,43.6 L192.3,44.2Z M187.0,37.7 L188.7,38.5 L190.5,37.7 L192.2,38.6 L194.0,38.2 L196.0,38.4 L197.4,36.8 L199.4,37.0 L201.0,36.0 L199.2,36.0 L197.4,35.9 L195.7,35.3 L194.0,34.7 L192.2,34.5 L190.6,35.9 L188.7,35.2 L187.1,36.0 L185.3,36.0Z M150.4,45.6 L152.2,45.9 L153.9,46.2 L155.6,44.6 L157.4,46.2 L159.1,45.9 L160.8,44.5 L162.6,45.8 L164.4,45.8 L166.1,44.6 L167.9,46.0 L169.6,45.1 L169.6,43.0 L167.8,43.1 L166.1,42.9 L164.4,42.4 L162.6,42.2 L160.9,42.4 L159.1,42.1 L157.4,43.1 L155.6,42.9 L153.9,43.6 L152.2,43.5 L150.4,43.2 L148.7,43.3Z M176.6,50.9 L178.3,50.5 L180.0,51.2 L181.7,52.0 L183.5,51.2 L184.6,49.9 L185.3,48.2 L183.5,48.1 L181.8,48.2 L180.0,47.7 L178.5,48.8 L176.3,47.8 L174.8,49.1Z M186.1,50.9 L188.1,49.9 L190.3,50.8 L192.3,50.0 L194.0,47.4 L192.3,46.7 L190.5,47.6 L188.8,47.8 L187.0,47.4 L187.1,49.2Z M201.0,64.9 L202.8,64.9 L204.5,65.6 L206.2,66.1 L208.3,65.9 L210.2,64.8 L212.3,65.2 L211.4,63.7 L210.6,62.2 L208.7,61.2 L206.7,61.7 L204.7,61.6 L202.7,61.4 L201.0,63.1Z M176.6,44.7 L178.3,45.5 L180.0,44.5 L181.8,45.3 L183.5,44.7 L183.5,42.4 L181.8,43.1 L180.0,42.8 L178.3,43.0Z M204.6,138.6 L206.2,138.2 L207.4,137.0 L209.0,136.5 L211.1,137.0 L213.2,136.7 L214.6,137.4 L216.1,138.0 L217.5,138.8 L219.0,139.6 L220.6,140.0 L222.1,140.7 L223.5,141.6 L221.5,141.8 L219.5,142.2 L217.5,142.1 L216.8,140.7 L215.8,139.3 L214.0,139.0 L212.3,138.6 L210.6,138.1 L208.4,138.5 L206.2,138.5Z M222.8,144.8 L224.2,143.4 L225.7,142.1 L227.4,142.3 L229.0,142.3 L230.6,142.3 L232.0,143.5 L233.6,144.4 L231.6,144.7 L229.8,145.4 L228.0,146.2 L226.2,146.0 L224.5,145.4Z M216.1,144.8 L217.9,144.7 L219.6,145.3 L218.8,145.6 L216.3,145.1Z M235.5,144.8 L238.3,144.8 L238.1,145.5 L235.5,145.5Z M249.3,93.6 L250.9,93.0 L252.0,91.7 L253.4,90.8 L255.0,90.3 L255.2,88.4 L255.9,86.8 L256.9,88.2 L258.0,89.5 L259.4,90.6 L259.8,92.4 L261.0,93.8 L258.9,95.2 L257.0,94.3 L255.0,93.6 L253.1,93.5 L251.2,93.5Z M137.7,92.4 L135.8,91.5 L133.8,91.2 L132.2,90.0 L130.6,88.9 L128.8,88.0 L130.5,87.9 L132.1,88.7 L133.8,88.9 L135.0,90.2 L136.4,91.2Z M310.8,62.2 L312.5,61.3 L314.3,60.7 L316.1,60.4 L317.8,60.5 L319.6,60.3 L321.3,60.5 L323.0,60.2 L324.8,60.5 L326.5,60.5 L327.8,61.7 L329.2,62.8 L327.6,63.5 L325.9,63.8 L324.6,65.0 L322.7,64.9 L321.3,65.9 L319.3,65.8 L317.4,65.8 L315.4,65.5 L313.5,65.2 L312.1,63.8Z M342.8,89.2 L344.7,89.1 L346.6,88.7 L348.7,88.1 L351.0,88.0 L353.0,87.3 L355.1,87.3 L355.7,84.8 L353.2,83.4 L351.8,81.5 L350.1,79.8 L348.9,78.5 L349.6,76.1 L347.5,74.3 L345.7,74.4 L344.0,74.3 L342.2,76.3 L342.9,78.5 L344.2,80.6 L347.1,80.8 L346.9,82.7 L347.5,83.6 L344.7,83.6 L345.4,85.4 L343.6,86.2 L345.3,86.8 L347.1,86.9 L344.9,87.5Z M342.2,85.5 L341.9,82.7 L342.9,81.3 L341.6,80.4 L340.0,80.1 L337.9,81.3 L335.3,82.0 L335.4,83.4 L334.7,86.1 L336.1,86.8 L338.7,86.2 L340.4,85.6Z M371.9,39.5 L373.6,39.0 L375.3,38.2 L377.2,38.2 L378.9,37.5 L380.6,36.8 L382.4,36.8 L384.1,36.9 L385.8,36.1 L387.6,36.5 L389.3,35.9 L391.1,36.0 L392.8,35.9 L394.6,36.2 L396.3,36.7 L398.0,37.0 L399.8,36.8 L398.0,37.3 L396.3,38.2 L394.7,38.9 L392.9,39.4 L391.1,39.8 L389.4,40.7 L387.6,41.1 L385.8,41.7 L384.2,42.6 L382.3,43.0 L380.5,42.7 L378.9,41.7 L377.1,41.6 L375.4,40.7 L373.5,40.5Z M443.4,51.7 L445.0,50.6 L446.9,50.0 L448.6,49.1 L449.7,47.9 L451.2,47.0 L452.1,45.6 L453.9,44.9 L455.6,44.1 L457.3,43.3 L459.0,43.6 L460.6,43.0 L462.3,43.3 L463.9,42.9 L465.6,43.0 L467.2,43.1 L468.9,42.9 L470.5,42.6 L472.2,42.4 L470.5,42.7 L469.1,43.7 L467.4,43.9 L465.7,44.0 L464.1,44.6 L462.6,45.2 L460.8,45.9 L459.2,46.6 L457.4,47.2 L455.6,47.7 L453.9,48.2 L452.9,49.6 L451.3,50.3 L450.4,51.7 L448.6,53.3 L446.9,52.7 L445.1,52.2Z M516.6,38.6 L518.4,38.8 L520.1,39.2 L521.9,39.2 L523.6,39.9 L525.4,39.8 L527.1,39.7 L528.9,39.4 L530.6,38.9 L532.4,38.9 L534.1,38.5 L535.8,38.1 L534.1,37.4 L532.2,37.2 L530.6,36.3 L529.0,35.3 L527.1,35.1 L525.4,35.2 L523.6,35.5 L521.9,35.5 L520.2,36.1 L518.4,36.0Z M589.9,47.4 L591.7,47.1 L593.4,47.3 L595.1,47.7 L596.9,47.6 L598.6,48.4 L600.3,48.2 L602.0,47.3 L603.8,47.2 L605.5,46.5 L607.4,46.4 L609.1,45.6 L607.3,45.5 L605.6,45.0 L603.8,44.7 L602.1,44.4 L600.3,44.2 L598.6,43.5 L596.9,43.9 L595.2,44.4 L593.4,44.3 L591.6,44.7Z M431.2,36.5 L432.9,36.9 L434.7,36.6 L436.4,36.4 L438.1,37.1 L439.9,36.7 L441.6,37.0 L443.4,36.8 L445.1,36.4 L446.9,36.4 L448.6,37.0 L450.4,36.7 L452.1,36.0 L453.9,36.3 L455.6,36.2 L457.3,35.9 L459.1,35.7 L460.8,36.0 L459.0,35.2 L457.3,34.2 L455.6,34.5 L453.9,34.5 L452.1,34.0 L450.4,34.5 L448.6,34.6 L446.9,34.5 L445.1,34.8 L443.4,34.2 L441.6,34.5 L439.9,34.6 L438.1,34.8 L436.3,35.0 L434.7,36.0 L432.9,36.1Z M367.3,108.7 L369.4,108.5 L369.9,106.9 L369.8,105.2 L367.0,105.3 L367.4,107.0Z M367.7,104.5 L369.1,104.5 L369.3,101.7 L367.9,102.4Z M374.3,110.8 L376.0,111.1 L377.4,112.2 L379.0,112.7 L379.9,109.9 L378.1,109.9 L376.2,110.1Z M393.7,115.2 L395.3,115.6 L397.0,115.2 L398.6,115.5 L398.0,115.2 L396.3,114.9 L394.6,114.6Z M409.0,116.2 L412.0,115.7 L413.0,114.5 L410.1,115.3Z M580.8,117.6 L582.9,117.8 L585.5,117.4 L588.1,117.1 L588.7,118.5 L590.8,117.6 L591.6,116.7 L594.2,116.6 L596.5,116.0 L598.4,114.6 L598.3,112.2 L599.0,110.1 L600.5,107.8 L600.1,106.0 L599.7,104.3 L596.9,104.5 L596.2,106.9 L595.6,109.0 L593.4,110.6 L591.3,111.5 L589.5,113.2 L587.8,114.1 L584.7,114.1 L583.3,115.1 L581.7,115.7Z M579.4,117.8 L581.2,117.6 L582.7,120.1 L581.5,122.2 L579.8,122.3 L579.1,119.5Z M583.8,119.2 L585.7,118.4 L587.6,117.8 L586.9,116.9 L584.1,117.6Z M596.9,104.3 L599.0,103.8 L600.7,103.6 L602.4,103.4 L604.4,102.4 L606.5,101.3 L606.1,99.6 L604.7,98.8 L603.1,98.2 L601.5,98.0 L600.0,97.3 L599.7,99.2 L599.5,101.1 L596.9,102.5Z M600.3,96.4 L603.0,95.5 L602.7,93.8 L602.1,92.1 L602.1,90.3 L602.7,88.6 L602.6,86.8 L602.8,85.1 L602.5,83.5 L602.1,81.9 L601.2,81.9 L600.7,83.5 L601.0,85.2 L600.3,86.8 L600.3,89.0 L600.7,91.2 L600.7,93.4 L600.2,95.5Z M562.2,136.7 L563.1,134.9 L563.7,133.0 L565.5,133.2 L564.8,134.9 L564.2,136.7 L563.7,138.5 L563.2,138.5Z M542.3,143.4 L544.5,141.8 L546.3,142.7 L545.0,143.8 L543.8,145.1Z M491.9,165.6 L491.6,163.7 L492.0,161.8 L492.2,159.8 L493.0,161.4 L494.6,162.4 L495.5,163.9 L494.0,166.5Z M562.0,144.6 L563.9,144.3 L565.8,144.6 L565.5,147.2 L564.6,149.8 L565.5,152.5 L567.2,153.3 L569.0,154.2 L567.2,153.3 L565.5,153.0 L563.7,153.0 L562.9,151.6 L562.0,149.0 L561.7,146.8Z M565.5,164.7 L567.0,163.5 L569.0,163.0 L570.4,161.5 L571.6,159.8 L572.4,161.9 L573.3,163.9 L571.6,166.5 L569.0,165.6 L567.3,164.9Z M565.3,156.2 L567.4,156.9 L566.3,158.6 L565.5,158.4Z M566.2,157.9 L568.1,158.1 L567.6,161.1 L566.3,160.4Z M567.7,157.4 L569.1,157.6 L568.1,160.2Z M568.6,159.3 L570.0,159.3 L569.8,160.2 L568.6,160.2Z M569.5,156.9 L571.0,157.2 L571.0,159.5 L570.2,159.5Z M569.5,155.1 L571.9,155.5 L571.9,157.6 L570.7,157.6Z M557.3,162.1 L558.3,160.2 L559.9,158.8 L561.1,157.0 L561.6,157.7 L560.3,159.2 L559.6,161.1 L558.1,162.5Z M542.8,174.4 L543.1,176.6 L543.7,178.8 L544.4,180.3 L544.5,181.9 L547.2,182.3 L549.3,183.0 L551.5,183.1 L553.3,183.3 L555.0,183.7 L555.4,182.1 L555.9,180.5 L556.8,178.4 L557.6,176.1 L559.4,175.2 L558.9,173.4 L558.1,171.7 L559.4,170.1 L560.2,168.2 L559.3,166.9 L557.8,166.0 L556.7,164.7 L555.0,166.5 L553.3,168.2 L551.9,169.2 L550.8,170.5 L549.8,171.7 L548.0,172.6 L546.3,173.5 L544.6,174.3Z M518.9,167.2 L520.8,167.5 L522.7,167.9 L523.7,169.1 L524.6,170.5 L526.3,171.2 L527.1,172.6 L528.8,173.9 L530.4,175.3 L532.3,176.1 L533.8,177.8 L534.9,179.6 L536.5,180.7 L537.6,182.3 L537.4,183.9 L537.7,185.6 L537.2,187.2 L534.9,187.2 L533.4,186.3 L532.2,184.9 L530.6,184.0 L529.8,182.5 L529.0,181.0 L528.0,179.6 L526.8,177.9 L525.6,176.2 L524.5,174.4 L523.0,173.5 L522.1,172.1 L521.0,170.9 L520.1,169.0Z M536.2,188.9 L537.6,187.5 L539.4,187.4 L541.1,188.0 L543.3,188.3 L545.4,188.9 L547.2,188.6 L548.9,188.9 L550.8,189.5 L552.4,190.7 L552.2,192.2 L550.3,191.7 L548.3,191.6 L546.3,191.4 L544.5,191.2 L542.7,191.2 L541.1,190.7 L538.4,190.0Z M560.2,186.6 L560.9,184.9 L561.1,183.1 L559.9,181.4 L561.1,179.3 L561.6,177.0 L562.9,175.2 L564.9,175.0 L566.9,175.1 L569.0,175.2 L570.7,174.4 L569.8,176.1 L567.8,176.1 L565.8,176.4 L563.7,176.1 L562.9,178.8 L565.0,178.3 L567.2,178.6 L565.8,179.4 L564.6,180.5 L565.6,182.6 L566.3,184.9 L563.7,184.0 L562.9,186.6Z M553.3,191.5 L555.0,191.7 L556.8,191.7 L558.5,191.8 L560.2,191.4 L560.2,192.4 L558.5,192.3 L556.7,192.7 L555.0,192.0 L553.3,192.4Z M561.6,191.7 L563.5,192.0 L565.3,191.4 L567.2,191.4 L567.2,192.2 L565.4,192.6 L563.5,192.0 L561.6,192.4Z M568.1,194.9 L569.8,193.7 L571.0,191.9 L572.9,191.5 L574.7,191.7 L573.2,192.8 L571.3,193.2 L569.8,194.3Z M575.1,177.9 L575.7,175.6 L576.8,173.5 L575.9,176.1 L577.5,176.6Z M575.9,182.6 L577.6,182.6 L579.2,182.4 L580.8,182.3 L580.3,183.7 L578.3,183.3 L576.3,183.5Z M581.2,178.8 L582.9,177.9 L584.7,178.3 L586.4,178.8 L587.0,180.9 L588.1,182.8 L589.5,181.6 L591.0,180.6 L592.5,179.6 L594.1,179.9 L595.6,180.3 L597.0,181.4 L598.6,181.6 L600.2,181.9 L601.6,182.8 L603.2,183.3 L604.7,184.0 L605.8,185.6 L607.3,186.6 L609.9,187.5 L610.7,189.2 L610.8,191.0 L612.2,192.2 L613.2,193.7 L614.3,195.0 L611.7,194.9 L609.7,193.9 L608.2,192.4 L606.0,191.6 L603.8,190.7 L602.4,191.7 L601.2,193.1 L598.6,192.9 L596.7,192.4 L595.1,191.2 L593.4,191.7 L592.5,189.3 L594.2,187.5 L592.5,186.5 L590.8,185.4 L589.0,184.5 L586.4,183.7 L583.8,182.3 L582.0,180.2Z M611.3,186.6 L614.3,185.8 L616.1,185.1 L617.8,184.4 L616.9,186.6 L614.3,187.9 L612.7,187.5Z M550.6,215.5 L551.9,215.2 L553.4,214.6 L554.9,214.1 L556.2,213.1 L558.3,212.9 L560.2,212.0 L561.9,211.3 L563.7,211.2 L564.4,209.7 L565.4,208.3 L566.0,206.8 L568.1,205.9 L569.8,204.2 L571.0,202.7 L572.4,201.5 L575.1,201.9 L577.7,203.1 L579.1,200.7 L580.3,198.9 L582.0,198.4 L583.8,197.1 L586.4,198.0 L589.0,198.4 L591.3,198.4 L590.8,200.7 L589.0,203.3 L590.7,204.4 L592.5,205.4 L594.2,206.6 L596.0,207.7 L598.3,207.5 L598.5,205.3 L599.5,203.3 L599.3,201.1 L599.7,198.9 L600.5,197.3 L601.2,195.7 L602.4,197.4 L603.0,199.4 L604.7,202.1 L605.8,203.4 L606.3,205.0 L606.7,207.2 L607.3,209.4 L608.7,210.4 L610.2,211.2 L611.7,212.0 L612.9,213.9 L613.4,216.1 L615.7,216.9 L616.9,218.6 L618.5,219.9 L619.5,221.7 L619.8,223.5 L620.6,225.1 L620.6,226.9 L620.2,229.2 L619.5,231.3 L618.7,233.9 L617.4,235.0 L616.4,236.4 L615.8,238.2 L614.6,239.7 L614.3,242.7 L612.5,242.7 L610.8,243.2 L609.5,244.6 L607.8,245.5 L606.4,244.4 L604.7,243.9 L602.1,245.0 L600.3,244.8 L598.6,244.1 L596.5,242.3 L596.0,240.1 L593.4,239.4 L593.4,238.0 L592.8,234.8 L591.3,236.3 L589.9,238.0 L588.5,237.4 L587.6,235.8 L586.4,234.5 L584.8,233.5 L582.9,233.1 L581.2,232.7 L579.4,232.6 L577.7,232.4 L576.0,232.9 L574.2,233.1 L572.4,233.6 L570.6,233.9 L569.0,234.8 L567.3,235.8 L565.5,236.6 L563.7,236.7 L562.0,236.4 L560.2,237.2 L558.5,238.3 L556.7,238.0 L555.0,238.3 L553.3,237.1 L554.5,235.3 L554.7,233.1 L554.0,230.9 L553.3,228.7 L551.9,226.1 L550.3,223.4 L550.6,221.7 L550.6,219.9 L550.4,217.7Z M605.1,248.3 L607.2,248.3 L609.2,248.7 L611.3,248.7 L611.3,250.7 L610.8,252.7 L608.2,253.4 L607.3,252.0 L605.9,250.9Z M643.1,257.6 L644.4,255.6 L646.2,254.1 L647.6,253.1 L649.0,252.1 L650.6,251.5 L652.1,249.8 L653.5,248.0 L655.0,249.0 L656.7,249.7 L655.8,251.0 L654.9,252.4 L654.1,253.7 L652.4,254.6 L650.9,255.8 L649.1,257.1 L647.4,258.6 L645.3,258.1Z M438.7,198.0 L439.2,200.1 L439.7,202.1 L440.2,204.2 L439.6,206.8 L439.2,208.6 L438.1,210.2 L437.8,212.0 L437.2,213.6 L436.9,215.2 L436.3,216.7 L435.8,218.3 L435.5,219.9 L434.7,220.8 L433.0,220.9 L431.5,221.7 L429.4,219.9 L428.7,217.3 L428.2,214.7 L430.0,212.0 L429.7,210.3 L429.4,208.5 L430.3,205.6 L432.9,204.7 L434.0,203.3 L435.5,202.4 L437.3,200.7Z M37.9,52.6 L39.6,52.1 L41.4,52.7 L43.1,52.3 L42.3,51.6 L40.1,51.9 L37.9,51.7Z M226.3,39.8 L227.8,39.3 L229.4,38.6 L231.0,38.1 L232.5,37.4 L234.1,36.8 L235.9,36.6 L237.5,35.6 L239.3,35.2 L241.1,34.6 L242.7,33.9 L244.6,33.7 L246.3,33.3 L248.0,33.1 L249.8,32.9 L251.5,32.8 L253.3,33.4 L255.1,33.0 L256.8,32.9 L258.5,32.2 L260.3,32.5 L262.0,32.3 L263.6,32.3 L265.2,32.0 L266.8,31.8 L268.5,32.1 L270.1,32.1 L271.7,31.7 L273.3,31.6 L274.9,32.0 L276.5,31.8 L278.1,31.6 L279.7,32.0 L281.3,31.4 L282.9,31.6 L284.5,31.6 L286.2,31.2 L287.8,31.9 L289.4,31.6 L291.0,31.8 L292.6,31.8 L294.2,31.8 L295.8,31.2 L297.4,31.3 L299.0,31.3 L300.6,31.4 L302.3,32.0 L303.9,31.6 L305.6,31.9 L307.3,32.2 L309.1,31.8 L310.8,32.2 L312.6,32.2 L314.3,32.6 L316.1,32.6 L317.8,32.5 L319.5,32.6 L321.1,33.1 L322.7,33.4 L324.4,33.5 L326.0,33.7 L327.7,33.9 L329.3,34.2 L331.0,34.2 L332.6,34.4 L331.0,34.4 L329.4,34.9 L327.9,35.4 L326.3,35.7 L324.7,36.0 L323.1,36.0 L321.9,37.4 L320.4,38.6 L319.7,40.4 L318.7,42.1 L318.3,43.9 L317.8,45.6 L316.3,47.1 L314.4,48.0 L312.6,49.1 L310.9,49.8 L309.0,50.0 L307.3,50.4 L305.6,51.2 L303.7,52.1 L302.0,53.4 L300.4,54.7 L298.6,55.5 L297.1,56.8 L295.1,57.3 L293.8,58.3 L292.3,59.0 L291.1,60.2 L289.8,61.2 L288.2,61.7 L286.7,62.5 L285.1,62.9 L283.7,63.7 L282.1,64.0 L281.2,65.5 L280.1,66.8 L279.5,68.4 L278.0,69.5 L276.3,70.2 L275.1,71.5 L272.5,70.7 L270.2,70.5 L268.1,69.8 L266.9,68.7 L265.5,67.9 L264.2,66.4 L262.9,64.9 L261.7,63.0 L260.3,61.4 L259.4,58.7 L260.9,57.7 L262.4,56.9 L263.8,55.8 L262.1,55.5 L260.8,54.4 L259.3,53.8 L257.7,53.5 L256.8,51.7 L255.0,49.5 L253.8,47.9 L252.4,46.5 L250.8,46.0 L249.4,45.1 L248.1,44.2 L246.3,43.8 L244.5,44.3 L242.8,43.5 L241.1,43.6 L239.3,44.0 L237.6,43.5 L235.9,42.9 L234.2,42.7 L232.4,42.5 L230.6,42.4 L228.4,42.0 L226.3,41.0Z M178.3,56.8 L180.1,56.3 L181.8,56.8 L183.5,57.3 L186.0,55.6 L184.6,54.3 L182.7,54.5 L180.9,55.0 L179.2,55.2Z M185.3,46.3 L187.5,45.4 L189.6,46.3 L189.6,44.9 L187.5,44.1 L185.3,44.9Z M139.9,43.0 L141.8,42.8 L143.4,43.9 L145.2,43.9 L146.9,44.4 L148.3,43.6 L149.7,42.6 L151.6,43.3 L153.0,42.4 L151.0,41.1 L148.7,41.4 L146.9,41.9 L145.1,41.0 L143.4,40.9 L141.7,41.7Z M173.1,40.3 L174.8,40.0 L176.6,39.8 L178.3,40.7 L180.0,38.9 L178.3,38.8 L176.7,37.6 L174.8,38.2Z M182.7,40.7 L184.4,41.1 L186.1,40.7 L186.1,39.3 L184.4,39.3 L182.7,39.3Z M157.4,40.7 L159.1,40.4 L160.8,41.2 L162.6,41.2 L164.3,41.2 L164.3,39.3 L162.3,39.9 L160.3,38.7 L158.2,39.1Z M213.2,49.8 L215.2,50.3 L217.2,50.5 L219.3,49.8 L217.5,47.9 L215.8,47.8 L214.1,48.4 L212.3,48.2Z M207.1,67.5 L209.3,67.9 L211.4,67.3 L209.7,66.1 L207.9,66.3 L206.2,66.6Z M209.7,84.1 L212.1,84.5 L211.4,83.8Z M240.2,89.8 L241.8,90.0 L243.3,90.6 L244.9,90.8 L243.7,90.1 L241.1,89.4Z M240.7,95.5 L242.6,96.2 L244.6,96.4 L243.7,95.5Z M245.4,97.1 L248.1,96.6 L247.2,94.7 L246.0,95.4Z M53.1,65.9 L54.7,65.7 L56.3,66.4 L58.0,66.3 L58.3,65.7 L55.9,65.7 L53.6,65.2Z M82.7,76.6 L84.9,76.8 L87.1,76.3 L85.3,75.2 L83.3,75.6Z M61.8,71.9 L64.1,72.1 L63.5,71.2Z M215.8,134.4 L217.5,132.3 L219.6,132.8 L218.1,133.7 L217.0,135.0Z M218.4,130.6 L216.7,130.7 L215.1,130.2 L216.3,129.9Z M245.8,266.9 L247.7,266.9 L249.6,266.4 L251.5,266.7 L250.7,268.1 L248.9,268.4 L247.2,268.5Z M223.3,250.2 L224.5,250.2 L224.3,252.9 L223.1,252.7Z M230.6,269.3 L233.2,269.2 L234.1,270.7 L235.8,271.2 L237.2,272.4 L238.8,273.0 L237.0,273.8 L235.1,274.0 L233.2,274.2 L231.4,274.0 L229.8,273.2 L228.0,273.0 L226.3,271.9 L224.5,270.7 L226.5,269.9 L228.6,269.9Z M371.9,80.3 L374.7,79.6 L374.2,78.7 L372.4,79.1Z M384.3,77.3 L385.7,76.4 L385.1,75.6Z M356.9,107.8 L358.8,107.4 L358.1,107.1Z M491.9,165.6 L491.9,163.7 L492.1,161.8 L492.2,159.8 L493.3,161.2 L494.4,162.6 L495.5,163.9 L494.0,166.5Z M562.5,155.5 L564.6,153.3 L564.1,155.6Z M552.4,191.4 L554.3,191.4 L556.2,191.5 L555.9,192.6 L554.1,192.3 L552.4,192.4Z M556.4,191.7 L558.5,191.2 L560.6,191.4 L560.2,192.6 L558.5,192.5 L556.7,192.8Z M560.6,193.6 L563.4,193.8 L562.9,194.9 L560.8,194.3Z M572.4,182.4 L574.5,182.6 L573.8,183.7 L572.6,183.3Z M615.2,181.6 L616.9,182.6 L618.7,183.7 L619.9,185.1 L618.3,184.5 L617.0,182.8Z M622.3,186.1 L623.3,187.4 L624.6,188.4 L623.9,188.9 L622.5,187.2Z M625.6,190.1 L627.1,190.9 L628.8,191.1 L630.3,191.9 L631.7,192.8 L634.4,193.8 L632.6,194.5 L631.1,193.7 L629.7,192.9 L628.0,192.6 L626.5,191.9Z M643.1,203.6 L644.5,204.2 L644.6,206.1 L646.4,208.2 L646.2,207.3 L645.2,205.9 L643.9,204.7Z M638.7,212.4 L640.4,213.6 L642.2,214.7 L644.1,216.2 L643.1,215.9 L641.0,214.9 L639.2,213.4Z M661.9,207.7 L664.2,207.3 L664.0,208.9 L662.3,208.9Z M606.5,100.8 L609.1,99.4 L611.7,97.6 L614.3,95.9 L614.6,96.2 L613.0,97.5 L611.2,98.6 L609.4,99.7Z M514.2,156.9 L514.9,154.4 L514.5,153.3 L514.0,156.0Z M341.5,75.0 L342.2,76.3 L341.4,77.1 L339.6,76.3 L340.8,74.9Z" fill="none" stroke="#000" stroke-width="1.15" stroke-linejoin="round"/>
<path d="M240.2,67.5 L237.6,68.6 L235.6,68.5 L234.1,67.3 L232.4,67.2 L230.7,66.5 L228.9,66.8 L227.3,65.5 L225.6,64.6 L223.6,64.0 L221.6,63.9 L219.6,63.1 L217.5,63.5 L219.3,62.8 L220.7,61.3 L222.7,61.2 L224.5,60.5 L223.6,57.9 L221.6,58.1 L220.4,56.0 L218.7,55.3 L216.6,55.8 L214.8,55.3 L213.2,54.4 L211.4,53.9 L209.7,54.9 L207.9,54.9 L206.2,54.9 L204.5,54.4 L202.6,54.2 L201.0,53.3 L199.4,52.2 L197.5,52.6 L195.7,50.0 L197.3,48.9 L199.5,49.6 L201.0,48.2 L202.7,48.3 L204.5,48.8 L206.2,48.7 L207.9,47.4 L209.7,48.2 L211.4,47.3 L213.2,47.9 L215.1,47.6 L216.5,48.7 L217.9,49.9 L219.6,50.1 L221.4,50.0 L222.7,51.6 L224.5,51.6 L226.0,52.6 L227.8,51.7 L229.3,52.4 L230.9,53.1 L232.4,53.9 L234.1,53.5 L235.7,54.2 L236.4,55.9 L237.6,57.0 L238.9,58.4 L240.7,58.4 L242.2,59.1 L243.7,59.8 L245.4,60.0 L243.7,61.5 L242.0,63.1 L240.2,65.7Z M147.8,56.1 L149.4,56.3 L151.1,55.6 L152.8,57.0 L154.5,57.0 L156.1,56.2 L157.8,56.6 L159.5,55.8 L161.2,55.8 L162.8,56.0 L164.5,56.8 L166.2,55.9 L167.8,56.5 L169.7,57.1 L171.2,55.2 L173.0,55.2 L174.7,54.7 L176.6,55.2 L176.6,52.6 L175.1,50.9 L173.1,50.0 L170.8,49.8 L168.7,49.1 L167.1,49.1 L165.5,49.3 L163.9,48.7 L162.2,49.1 L160.6,49.4 L159.0,48.9 L157.4,48.8 L155.7,49.3 L154.0,49.8 L152.1,48.7 L150.4,49.1 L148.6,49.3 L146.8,49.1 L145.2,50.0 L145.2,52.6 L146.6,54.2Z M133.8,51.0 L135.7,50.6 L137.3,51.7 L139.1,51.2 L140.8,52.4 L142.5,52.3 L144.2,51.7 L145.6,50.6 L147.3,50.2 L148.9,49.4 L150.4,48.6 L148.4,48.8 L146.9,47.4 L145.2,46.8 L143.4,46.6 L141.7,46.8 L139.9,46.1 L138.2,46.4 L136.4,46.8 L135.8,48.3 L135.1,49.9Z M196.6,43.0 L198.2,43.9 L199.9,43.0 L201.6,43.5 L203.2,43.6 L204.9,42.7 L206.6,42.5 L208.2,43.5 L209.9,42.7 L211.5,43.2 L213.2,43.5 L215.3,42.9 L216.7,41.2 L218.4,41.3 L219.5,39.5 L221.0,38.9 L222.8,39.1 L224.6,38.3 L226.8,39.0 L228.5,37.2 L230.6,37.7 L232.3,36.9 L234.0,36.3 L235.7,36.0 L237.6,36.4 L239.3,36.0 L240.8,34.6 L242.8,34.1 L244.6,33.3 L243.0,32.4 L241.2,31.8 L239.3,31.6 L237.6,31.7 L235.9,31.1 L234.1,31.5 L232.4,31.0 L230.6,32.0 L228.9,31.8 L227.1,31.4 L225.4,30.8 L223.6,31.4 L221.9,31.6 L220.3,31.8 L218.7,32.4 L217.0,32.5 L215.4,32.8 L213.6,31.5 L212.0,31.9 L210.4,32.0 L208.8,32.8 L207.1,32.7 L205.6,33.6 L203.9,33.4 L202.3,34.2 L200.7,33.9 L199.1,34.3 L197.4,34.8 L195.7,34.2 L193.7,34.4 L192.6,36.6 L190.5,36.8 L191.3,38.5 L192.7,39.5 L194.7,40.0 L195.4,41.7Z M192.3,46.3 L194.0,47.1 L195.7,47.0 L197.5,46.7 L199.2,45.8 L201.0,46.0 L202.7,46.7 L204.5,46.9 L206.2,45.4 L207.9,45.7 L209.7,47.0 L211.4,46.3 L213.2,44.7 L211.2,44.9 L209.8,43.4 L207.9,43.1 L206.2,43.4 L204.5,42.8 L202.7,42.4 L201.0,42.9 L199.2,43.2 L197.5,43.0 L195.8,43.7 L193.9,43.6 L192.3,44.2Z M187.0,37.7 L188.7,38.5 L190.5,37.7 L192.2,38.6 L194.0,38.2 L196.0,38.4 L197.4,36.8 L199.4,37.0 L201.0,36.0 L199.2,36.0 L197.4,35.9 L195.7,35.3 L194.0,34.7 L192.2,34.5 L190.6,35.9 L188.7,35.2 L187.1,36.0 L185.3,36.0Z M150.4,45.6 L152.2,45.9 L153.9,46.2 L155.6,44.6 L157.4,46.2 L159.1,45.9 L160.8,44.5 L162.6,45.8 L164.4,45.8 L166.1,44.6 L167.9,46.0 L169.6,45.1 L169.6,43.0 L167.8,43.1 L166.1,42.9 L164.4,42.4 L162.6,42.2 L160.9,42.4 L159.1,42.1 L157.4,43.1 L155.6,42.9 L153.9,43.6 L152.2,43.5 L150.4,43.2 L148.7,43.3Z M176.6,50.9 L178.3,50.5 L180.0,51.2 L181.7,52.0 L183.5,51.2 L184.6,49.9 L185.3,48.2 L183.5,48.1 L181.8,48.2 L180.0,47.7 L178.5,48.8 L176.3,47.8 L174.8,49.1Z M186.1,50.9 L188.1,49.9 L190.3,50.8 L192.3,50.0 L194.0,47.4 L192.3,46.7 L190.5,47.6 L188.8,47.8 L187.0,47.4 L187.1,49.2Z M201.0,64.9 L202.8,64.9 L204.5,65.6 L206.2,66.1 L208.3,65.9 L210.2,64.8 L212.3,65.2 L211.4,63.7 L210.6,62.2 L208.7,61.2 L206.7,61.7 L204.7,61.6 L202.7,61.4 L201.0,63.1Z M176.6,44.7 L178.3,45.5 L180.0,44.5 L181.8,45.3 L183.5,44.7 L183.5,42.4 L181.8,43.1 L180.0,42.8 L178.3,43.0Z M178.3,56.8 L180.1,56.3 L181.8,56.8 L183.5,57.3 L186.0,55.6 L184.6,54.3 L182.7,54.5 L180.9,55.0 L179.2,55.2Z M185.3,46.3 L187.5,45.4 L189.6,46.3 L189.6,44.9 L187.5,44.1 L185.3,44.9Z M139.9,43.0 L141.8,42.8 L143.4,43.9 L145.2,43.9 L146.9,44.4 L148.3,43.6 L149.7,42.6 L151.6,43.3 L153.0,42.4 L151.0,41.1 L148.7,41.4 L146.9,41.9 L145.1,41.0 L143.4,40.9 L141.7,41.7Z M173.1,40.3 L174.8,40.0 L176.6,39.8 L178.3,40.7 L180.0,38.9 L178.3,38.8 L176.7,37.6 L174.8,38.2Z M182.7,40.7 L184.4,41.1 L186.1,40.7 L186.1,39.3 L184.4,39.3 L182.7,39.3Z M157.4,40.7 L159.1,40.4 L160.8,41.2 L162.6,41.2 L164.3,41.2 L164.3,39.3 L162.3,39.9 L160.3,38.7 L158.2,39.1Z M213.2,49.8 L215.2,50.3 L217.2,50.5 L219.3,49.8 L217.5,47.9 L215.8,47.8 L214.1,48.4 L212.3,48.2Z M207.1,67.5 L209.3,67.9 L211.4,67.3 L209.7,66.1 L207.9,66.3 L206.2,66.6Z" fill="none" stroke="#000" stroke-width="1.3" stroke-linejoin="round"/>
<path d="M406.4,54.7 L403.6,56.1 L402.6,57.5 L405.0,58.6 L403.5,61.4 L405.0,63.6 L405.9,65.2 L407.6,66.8 L404.5,69.6 L401.5,71.0 M401.5,72.9 L400.5,75.4 L401.2,76.6 L401.9,78.5 L406.4,79.6 L406.8,81.5 L409.4,82.7 L408.2,84.3 L408.5,85.7 M393.9,86.6 L397.2,86.1 L401.5,86.6 L405.9,86.9 L408.5,85.7 L411.1,85.4 L412.9,86.4 L414.6,88.7 L418.1,88.9 L419.3,89.6 L422.5,90.1 L422.6,92.4 L421.9,93.3 L419.5,94.5 M393.9,86.6 L394.6,88.0 L392.8,89.6 L391.9,91.2 L391.4,92.2 L393.7,93.1 L396.1,93.4 L399.1,92.4 L401.5,92.6 L403.6,93.8 L405.0,95.7 L404.3,97.5 M438.5,95.7 L437.6,94.7 L436.4,93.3 L434.7,92.4 L434.0,91.2 L435.2,89.4 L437.6,88.3 L440.9,86.4 L444.3,86.8 L448.6,88.2 L453.0,87.6 L456.5,88.3 L459.6,87.6 L459.1,85.0 L458.2,84.1 L460.8,82.6 L466.4,81.3 L472.2,80.1 L475.7,80.5 L478.3,82.0 L480.9,82.7 L486.1,82.2 L487.9,83.6 L492.2,87.8 L497.5,87.6 L501.3,89.4 L505.0,90.8 M505.0,90.8 L507.9,89.8 L512.3,88.3 L517.5,89.2 L521.0,89.6 L523.6,86.8 L528.0,86.6 L531.5,88.7 L536.7,88.7 L540.2,90.1 L545.4,90.8 L549.8,89.6 L554.1,89.6 L556.2,89.8 L558.1,90.3 L560.8,88.9 L562.0,86.4 L564.6,84.1 L568.1,83.3 L571.6,84.1 L573.8,86.8 L575.1,89.4 L578.5,90.6 L581.2,93.3 L585.5,92.6 L587.8,92.2 L586.4,94.3 L585.0,98.2 L582.0,98.3 L581.5,101.1 L580.6,102.7 M505.0,90.8 L502.7,92.0 L501.8,94.7 L497.5,94.3 L496.6,97.3 L492.2,98.3 L492.7,102.5 L488.7,104.8 L484.4,105.9 L481.1,107.8 L483.2,111.7 M459.4,114.6 L461.7,115.2 L465.2,113.4 L468.7,111.5 L471.3,112.2 L474.8,111.3 L477.4,112.2 L482.6,111.5 L483.2,111.7 M446.7,111.7 L449.5,110.4 L452.5,110.1 L456.5,111.3 L458.7,112.9 L459.4,114.6 M459.4,114.6 L458.9,116.9 L458.2,119.2 L458.9,121.8 L460.3,122.0 L458.9,124.8 L460.3,126.7 L462.0,127.6 L462.9,129.3 L462.0,130.4 L460.1,132.8 M483.2,111.7 L484.0,113.9 L488.4,114.8 L491.3,117.4 L490.1,120.1 L491.3,122.7 L494.0,124.1 L497.5,125.8 L500.9,127.2 L506.2,128.1 L508.8,127.8 L512.3,128.3 L516.6,126.2 L520.1,127.1 L522.4,127.9 M522.4,127.9 L520.5,129.2 L518.7,130.4 L517.7,133.2 L516.8,135.1 L515.4,135.3 L515.2,137.9 L514.2,139.7 L513.7,140.7 M522.4,127.9 L524.5,129.7 L523.6,133.2 L522.7,135.0 L525.4,138.1 L528.8,139.3 L530.6,137.8 L533.2,137.4 L536.7,136.4 L538.8,137.1 L541.1,139.3 M569.5,106.9 L572.4,104.3 L575.9,103.4 L578.5,102.7 L580.6,102.7 M415.5,113.9 L416.7,112.5 L419.8,112.5 L423.3,112.0 L426.5,111.8 L430.8,111.8 L430.0,109.5 L430.8,107.4 L428.7,106.7 L428.6,105.0 L426.8,104.3 L425.1,104.3 M418.1,98.2 L422.5,101.0 L425.9,101.3 L429.4,102.2 L432.9,103.6 L435.5,104.6 L437.5,103.8 M430.8,107.4 L429.8,111.8 L432.1,114.3 L432.9,116.6 L432.1,117.6 L434.7,120.1 L435.9,122.7 L436.4,124.4 M430.8,107.4 L433.8,108.8 L436.4,109.5 L438.0,109.7 M416.4,125.3 L419.0,123.6 L421.1,120.8 L424.2,122.2 L430.7,125.8 L433.8,126.0 L435.9,125.3 M412.3,122.2 L413.6,125.3" fill="none" stroke="#000" stroke-width="0.9" stroke-linejoin="round"/>
<path d="M65.3,81.5 L59.7,83.4 L53.4,84.7 L45.8,86.1 L39.7,86.6 L35.3,86.8" fill="none" stroke="#000" stroke-width="1.4"/>
<path d="M245.8,266.9 L247.7,266.7 L249.6,266.6 L251.5,266.7 L250.7,268.1 L248.9,268.2 L247.2,268.5Z" fill="#000"/>
<circle cx="81.5" cy="142.7" r="1.3" fill="#000"/>
<circle cx="80.1" cy="140.6" r="0.8" fill="#000"/>
<circle cx="77.3" cy="139.4" r="0.8" fill="#000"/>
<circle cx="74.5" cy="138.4" r="0.7" fill="#000"/>
<circle cx="70.3" cy="136.5" r="0.5" fill="#000"/>
<circle cx="62.8" cy="135.3" r="0.5" fill="#000"/>
<circle cx="194.9" cy="178.1" r="1.0" fill="#000"/>
<circle cx="214.9" cy="235.9" r="0.6" fill="#000"/>
<circle cx="52.4" cy="201.0" r="0.7" fill="#000"/>
<circle cx="47.2" cy="214.1" r="0.6" fill="#000"/>
<circle cx="39.1" cy="206.4" r="0.8" fill="#000"/>
<circle cx="44.9" cy="254.1" r="0.8" fill="#000"/>
<circle cx="325.7" cy="127.4" r="0.8" fill="#000"/>
<circle cx="323.1" cy="119.7" r="0.6" fill="#000"/>
<circle cx="311.5" cy="149.8" r="0.7" fill="#000"/>
<circle cx="303.9" cy="109.5" r="0.7" fill="#000"/>
<circle cx="308.2" cy="110.8" r="0.5" fill="#000"/>
<circle cx="453.0" cy="212.9" r="0.7" fill="#000"/>
<circle cx="449.5" cy="214.0" r="0.6" fill="#000"/>
<circle cx="428.6" cy="197.7" r="0.6" fill="#000"/>
<circle cx="449.5" cy="185.1" r="0.5" fill="#000"/>
<circle cx="480.9" cy="171.7" r="0.5" fill="#000"/>
<circle cx="480.4" cy="167.4" r="0.4" fill="#000"/>
<circle cx="239.7" cy="120.4" r="0.5" fill="#000"/>
<circle cx="245.4" cy="148.6" r="0.6" fill="#000"/>
<circle cx="246.0" cy="152.1" r="0.6" fill="#000"/>
<circle cx="245.6" cy="155.1" r="0.5" fill="#000"/>
<circle cx="246.3" cy="158.8" r="0.9" fill="#000"/>
<circle cx="230.8" cy="155.1" r="0.5" fill="#000"/>
<circle cx="217.5" cy="135.8" r="0.6" fill="#000"/>
<circle cx="222.8" cy="137.6" r="0.6" fill="#000"/>
<circle cx="225.4" cy="139.9" r="0.5" fill="#000"/>
<circle cx="587.3" cy="163.9" r="0.6" fill="#000"/>
<circle cx="605.2" cy="153.5" r="0.6" fill="#000"/>
<circle cx="606.8" cy="150.4" r="0.5" fill="#000"/>
<circle cx="628.6" cy="164.9" r="0.5" fill="#000"/>
<circle cx="643.9" cy="161.2" r="0.4" fill="#000"/>
<circle cx="650.9" cy="164.7" r="0.4" fill="#000"/>
<circle cx="646.2" cy="227.8" r="0.5" fill="#000"/>
<circle cx="630.0" cy="232.2" r="0.5" fill="#000"/>
<circle cx="643.6" cy="204.0" r="0.6" fill="#000"/>
<circle cx="663.1" cy="208.2" r="0.9" fill="#000"/>
<circle cx="41.4" cy="209.4" r="0.6" fill="#000"/>
<circle cx="480.9" cy="269.9" r="0.7" fill="#000"/>
<circle cx="473.9" cy="263.4" r="0.9" fill="#000"/>
<circle cx="443.0" cy="258.3" r="0.5" fill="#000"/>
<circle cx="418.4" cy="259.0" r="0.5" fill="#000"/>
<circle cx="288.2" cy="272.1" r="0.9" fill="#000"/>
<circle cx="335.3" cy="247.6" r="0.4" fill="#000"/>
<circle cx="342.8" cy="204.9" r="0.4" fill="#000"/>
<circle cx="327.6" cy="190.8" r="0.4" fill="#000"/>
<path d="M392.6,105.9 L394.2,106.9 L392.6,108.3 L394.4,109.7 L395.1,110.8 L393.2,111.7 L392.5,113.1" fill="none" stroke="#000" stroke-width="1.8" stroke-linejoin="round" stroke-linecap="round"/>
<path d="M397.2,106.4 L398.6,108.3 L399.1,109.9 L400.1,111.7 L401.5,112.9" fill="none" stroke="#000" stroke-width="1.8" stroke-linejoin="round" stroke-linecap="round"/>
<path d="M362.3,73.6 L361.4,71.0 L361.8,68.7 L364.9,67.3 L369.3,65.7 L371.9,64.9 L374.5,63.1 L375.4,61.4 L378.0,58.7 L380.6,57.0 L384.1,55.2 L387.6,54.4 L392.8,53.3 L397.2,52.4 L401.5,52.6 L405.0,54.7" fill="none" stroke="#000" stroke-width="2.4" stroke-linejoin="round" stroke-linecap="round"/>
<path d="M109.4,72.6 L112.9,74.0 L115.5,74.7 L119.0,75.0 L121.6,77.5 L124.2,79.8 L125.1,81.5 L126.9,83.3 L129.5,85.5 L130.3,87.6 L134.7,88.9 L137.3,90.3" fill="none" stroke="#000" stroke-width="4.0" stroke-linejoin="round" stroke-linecap="round"/>
<path d="M224.0,249.7 L223.6,251.5 L225.4,252.3 L224.0,254.1 L222.8,256.7 L221.0,258.5 L222.9,259.0 L221.4,262.0 L221.9,265.5 L222.8,268.6 L225.4,269.9 L228.0,272.1 L230.6,273.4 L233.2,273.9 L235.9,273.4" fill="none" stroke="#000" stroke-width="2.8" stroke-linejoin="round" stroke-linecap="round"/>
<path d="M332.6,34.4 L323.1,36.0 L320.4,38.6 L318.7,42.1 L317.8,45.6 L312.6,49.1 L305.6,51.2 L300.4,54.7" fill="none" stroke="#000" stroke-width="1.8" stroke-linejoin="round" stroke-linecap="round"/>
<path d="M263.8,55.8 L257.7,53.5 L256.8,51.7 L255.0,49.5" fill="none" stroke="#000" stroke-width="2.6" stroke-linejoin="round" stroke-linecap="round"/>
<path d="M344.0,74.3 L342.2,76.3 L342.9,78.5 L344.2,80.6" fill="none" stroke="#000" stroke-width="1.8" stroke-linejoin="round" stroke-linecap="round"/>
</g>
<rect x="37.1" y="15.05" width="615.1" height="264.55" fill="none" stroke="#111" stroke-width="1.7"/>
<line x1="143.4" y1="15.1" x2="143.4" y2="19.7" stroke="#111" stroke-width="1.2"/>
<line x1="143.4" y1="279.6" x2="143.4" y2="275.9" stroke="#111" stroke-width="1.2"/>
<line x1="247.9" y1="15.1" x2="247.9" y2="19.7" stroke="#111" stroke-width="1.2"/>
<line x1="247.9" y1="279.6" x2="247.9" y2="275.9" stroke="#111" stroke-width="1.2"/>
<line x1="352.9" y1="15.1" x2="352.9" y2="19.7" stroke="#111" stroke-width="1.2"/>
<line x1="352.9" y1="279.6" x2="352.9" y2="275.9" stroke="#111" stroke-width="1.2"/>
<line x1="457.5" y1="15.1" x2="457.5" y2="19.7" stroke="#111" stroke-width="1.2"/>
<line x1="457.5" y1="279.6" x2="457.5" y2="275.9" stroke="#111" stroke-width="1.2"/>
<line x1="562.2" y1="15.1" x2="562.2" y2="19.7" stroke="#111" stroke-width="1.2"/>
<line x1="562.2" y1="279.6" x2="562.2" y2="275.9" stroke="#111" stroke-width="1.2"/>
<line x1="37.1" y1="19.3" x2="41.3" y2="19.3" stroke="#111" stroke-width="1.2"/>
<line x1="652.2" y1="19.3" x2="648.0" y2="19.3" stroke="#111" stroke-width="1.2"/>
<line x1="37.1" y1="72.0" x2="41.3" y2="72.0" stroke="#111" stroke-width="1.2"/>
<line x1="652.2" y1="72.0" x2="648.0" y2="72.0" stroke="#111" stroke-width="1.2"/>
<line x1="37.1" y1="124.5" x2="41.3" y2="124.5" stroke="#111" stroke-width="1.2"/>
<line x1="652.2" y1="124.5" x2="648.0" y2="124.5" stroke="#111" stroke-width="1.2"/>
<line x1="37.1" y1="177.0" x2="41.3" y2="177.0" stroke="#111" stroke-width="1.2"/>
<line x1="652.2" y1="177.0" x2="648.0" y2="177.0" stroke="#111" stroke-width="1.2"/>
<line x1="37.1" y1="229.5" x2="41.3" y2="229.5" stroke="#111" stroke-width="1.2"/>
<line x1="652.2" y1="229.5" x2="648.0" y2="229.5" stroke="#111" stroke-width="1.2"/>
<text x="143.7" y="12.5" fill="#1a1a1a" font-size="12" text-anchor="middle" >120° W</text>
<text x="143.7" y="293.2" fill="#1a1a1a" font-size="12" text-anchor="middle" >120° W</text>
<text x="248.2" y="12.5" fill="#1a1a1a" font-size="12" text-anchor="middle" >60° W</text>
<text x="248.2" y="293.2" fill="#1a1a1a" font-size="12" text-anchor="middle" >60° W</text>
<text x="351.2" y="12.5" fill="#1a1a1a" font-size="12" text-anchor="middle" >0°</text>
<text x="351.2" y="293.2" fill="#1a1a1a" font-size="12" text-anchor="middle" >0°</text>
<text x="457.8" y="12.5" fill="#1a1a1a" font-size="12" text-anchor="middle" >60° E</text>
<text x="457.8" y="293.2" fill="#1a1a1a" font-size="12" text-anchor="middle" >60° E</text>
<text x="562.5" y="12.5" fill="#1a1a1a" font-size="12" text-anchor="middle" >120° E</text>
<text x="562.5" y="293.2" fill="#1a1a1a" font-size="12" text-anchor="middle" >120° E</text>
<text x="37.4" y="293.2" fill="#1a1a1a" font-size="12" text-anchor="middle" >180°</text>
<text x="30.6" y="23.9" fill="#1a1a1a" font-size="12" text-anchor="end" >90°</text>
<text x="655.3" y="23.9" fill="#1a1a1a" font-size="12" text-anchor="start" >90°</text>
<text x="34.3" y="76.6" fill="#1a1a1a" font-size="12" text-anchor="end" >60° N</text>
<text x="655.3" y="76.6" fill="#1a1a1a" font-size="12" text-anchor="start" >60° N</text>
<text x="34.3" y="129.1" fill="#1a1a1a" font-size="12" text-anchor="end" >30° N</text>
<text x="655.3" y="129.1" fill="#1a1a1a" font-size="12" text-anchor="start" >30° N</text>
<text x="30.6" y="181.6" fill="#1a1a1a" font-size="12" text-anchor="end" >0°</text>
<text x="655.3" y="181.6" fill="#1a1a1a" font-size="12" text-anchor="start" >0°</text>
<text x="34.3" y="234.1" fill="#1a1a1a" font-size="12" text-anchor="end" >30° S</text>
<text x="655.3" y="234.1" fill="#1a1a1a" font-size="12" text-anchor="start" >30° S</text>
<text x="-0.4" y="6.6" fill="#33241f" font-size="12" font-weight="bold">a</text>
<text x="49.6" y="186.9" fill="#33241f" font-size="12" text-anchor="start" >Total N deposition trend</text>
<rect x="46.2" y="199.00" width="18" height="8.7" fill="#d81b2b" stroke="#3a2a2a" stroke-width="0.9"/>
<text x="70.3" y="207.0" fill="#33241f" font-size="12" text-anchor="start" >Increase at <tspan font-style="italic">P</tspan> = 0.01 level</text>
<rect x="46.2" y="214.95" width="18" height="8.7" fill="#e77a7a" stroke="#3a2a2a" stroke-width="0.9"/>
<text x="70.3" y="222.9" fill="#33241f" font-size="12" text-anchor="start" >Increase at <tspan font-style="italic">P</tspan> = 0.05 level</text>
<rect x="46.2" y="230.90" width="18" height="8.7" fill="#ffffff" stroke="#3a2a2a" stroke-width="0.9"/>
<text x="70.3" y="238.9" fill="#33241f" font-size="12" text-anchor="start" >No Significant Change</text>
<rect x="46.2" y="246.85" width="18" height="8.7" fill="#6b9fd3" stroke="#3a2a2a" stroke-width="0.9"/>
<text x="70.3" y="254.8" fill="#33241f" font-size="12" text-anchor="start" >Decrease at <tspan font-style="italic">P</tspan> = 0.05 level</text>
<rect x="46.2" y="262.80" width="18" height="8.7" fill="#2160b0" stroke="#3a2a2a" stroke-width="0.9"/>
<text x="70.3" y="270.8" fill="#33241f" font-size="12" text-anchor="start" >Decrease at <tspan font-style="italic">P</tspan> = 0.01 level</text>
<line x1="55.0" y1="312.3" x2="55.0" y2="555.8" stroke="#7fbd7f" stroke-width="1.6"/>
<line x1="81.5" y1="312.3" x2="81.5" y2="555.8" stroke="#f2cc80" stroke-width="1.6"/>
<line x1="301.2" y1="312.3" x2="301.2" y2="555.8" stroke="#6c78b4" stroke-width="1.6"/>
<line x1="79.5" y1="312.3" x2="302.0" y2="312.3" stroke="#111" stroke-width="1.6"/>
<line x1="79.5" y1="555.8" x2="302.0" y2="555.8" stroke="#111" stroke-width="1.6"/>
<line x1="51.5" y1="312.3" x2="55.0" y2="312.3" stroke="#111" stroke-width="1.3"/>
<line x1="77.0" y1="312.3" x2="81.5" y2="312.3" stroke="#111" stroke-width="1.3"/>
<text x="46.5" y="316.6" fill="#86c286" font-size="12" text-anchor="end" >10</text>
<text x="76.0" y="316.6" fill="#f3cf88" font-size="12" text-anchor="end" >6.0</text>
<line x1="51.5" y1="393.5" x2="55.0" y2="393.5" stroke="#111" stroke-width="1.3"/>
<line x1="77.0" y1="393.5" x2="81.5" y2="393.5" stroke="#111" stroke-width="1.3"/>
<text x="46.5" y="397.8" fill="#86c286" font-size="12" text-anchor="end" >9</text>
<text x="76.0" y="397.8" fill="#f3cf88" font-size="12" text-anchor="end" >4.9</text>
<line x1="51.5" y1="474.6" x2="55.0" y2="474.6" stroke="#111" stroke-width="1.3"/>
<line x1="77.0" y1="474.6" x2="81.5" y2="474.6" stroke="#111" stroke-width="1.3"/>
<text x="46.5" y="478.9" fill="#86c286" font-size="12" text-anchor="end" >8</text>
<text x="76.0" y="478.9" fill="#f3cf88" font-size="12" text-anchor="end" >3.8</text>
<line x1="51.5" y1="555.8" x2="55.0" y2="555.8" stroke="#111" stroke-width="1.3"/>
<line x1="77.0" y1="555.8" x2="81.5" y2="555.8" stroke="#111" stroke-width="1.3"/>
<text x="46.5" y="560.1" fill="#86c286" font-size="12" text-anchor="end" >7</text>
<text x="76.0" y="560.1" fill="#f3cf88" font-size="12" text-anchor="end" >2.7</text>
<line x1="301.2" y1="312.3" x2="305.0" y2="312.3" stroke="#111" stroke-width="1.3"/>
<text x="306.0" y="316.6" fill="#6f7ab5" font-size="12" text-anchor="start" >3.3</text>
<line x1="301.2" y1="393.5" x2="305.0" y2="393.5" stroke="#111" stroke-width="1.3"/>
<text x="306.0" y="397.8" fill="#6f7ab5" font-size="12" text-anchor="start" >2.8</text>
<line x1="301.2" y1="474.6" x2="305.0" y2="474.6" stroke="#111" stroke-width="1.3"/>
<text x="306.0" y="478.9" fill="#6f7ab5" font-size="12" text-anchor="start" >2.3</text>
<line x1="301.2" y1="555.8" x2="305.0" y2="555.8" stroke="#111" stroke-width="1.3"/>
<text x="306.0" y="560.1" fill="#6f7ab5" font-size="12" text-anchor="start" >1.8</text>
<line x1="96.9" y1="555.8" x2="96.9" y2="559.3" stroke="#111" stroke-width="1.3"/>
<text x="96.9" y="575.4" fill="#1c1c1c" font-size="12" text-anchor="middle" >2008</text>
<line x1="159.5" y1="555.8" x2="159.5" y2="559.3" stroke="#111" stroke-width="1.3"/>
<text x="159.5" y="575.4" fill="#1c1c1c" font-size="12" text-anchor="middle" >2012</text>
<line x1="222.1" y1="555.8" x2="222.1" y2="559.3" stroke="#111" stroke-width="1.3"/>
<text x="222.1" y="575.4" fill="#1c1c1c" font-size="12" text-anchor="middle" >2016</text>
<line x1="284.7" y1="555.8" x2="284.7" y2="559.3" stroke="#111" stroke-width="1.3"/>
<text x="284.7" y="575.4" fill="#1c1c1c" font-size="12" text-anchor="middle" >2020</text>
<text x="186.8" y="587.6" fill="#33241f" font-size="12" text-anchor="middle" >Year</text>
<text transform="translate(27.2,437) rotate(-90)" fill="#33241f" font-size="12" text-anchor="middle">N deposition flux (kg N ha<tspan font-size="7" dy="-4.5">-1</tspan><tspan dy="4.5"> yr</tspan><tspan font-size="7" dy="-4.5">-1</tspan><tspan dy="4.5">)</tspan></text>
<text transform="translate(323.6,426.2) rotate(90)" fill="#33241f" font-size="12" text-anchor="middle">Ratio</text>
<line x1="96.8" y1="378.8" x2="96.8" y2="444.8" stroke="#262626" stroke-width="1.1"/>
<line x1="96.8" y1="428.9" x2="96.8" y2="451.9" stroke="#262626" stroke-width="1.1"/>
<line x1="96.8" y1="508.9" x2="96.8" y2="518.9" stroke="#262626" stroke-width="1.1"/>
<line x1="112.5" y1="384.9" x2="112.5" y2="450.3" stroke="#262626" stroke-width="1.1"/>
<line x1="112.5" y1="449.9" x2="112.5" y2="466.5" stroke="#262626" stroke-width="1.1"/>
<line x1="112.5" y1="489.4" x2="112.5" y2="503.6" stroke="#262626" stroke-width="1.1"/>
<line x1="128.1" y1="366.5" x2="128.1" y2="429.9" stroke="#262626" stroke-width="1.1"/>
<line x1="128.1" y1="448.7" x2="128.1" y2="463.9" stroke="#262626" stroke-width="1.1"/>
<line x1="128.1" y1="482.5" x2="128.1" y2="497.1" stroke="#262626" stroke-width="1.1"/>
<line x1="143.8" y1="364.1" x2="143.8" y2="428.1" stroke="#262626" stroke-width="1.1"/>
<line x1="143.8" y1="430.2" x2="143.8" y2="448.6" stroke="#262626" stroke-width="1.1"/>
<line x1="143.8" y1="501.2" x2="143.8" y2="514.4" stroke="#262626" stroke-width="1.1"/>
<line x1="159.4" y1="357.3" x2="159.4" y2="422.7" stroke="#262626" stroke-width="1.1"/>
<line x1="159.4" y1="425.0" x2="159.4" y2="440.4" stroke="#262626" stroke-width="1.1"/>
<line x1="159.4" y1="505.6" x2="159.4" y2="520.2" stroke="#262626" stroke-width="1.1"/>
<line x1="175.1" y1="362.0" x2="175.1" y2="429.0" stroke="#262626" stroke-width="1.1"/>
<line x1="175.1" y1="432.3" x2="175.1" y2="446.5" stroke="#262626" stroke-width="1.1"/>
<line x1="175.1" y1="500.4" x2="175.1" y2="515.2" stroke="#262626" stroke-width="1.1"/>
<line x1="190.7" y1="352.2" x2="190.7" y2="421.6" stroke="#262626" stroke-width="1.1"/>
<line x1="190.7" y1="429.3" x2="190.7" y2="444.5" stroke="#262626" stroke-width="1.1"/>
<line x1="190.7" y1="498.3" x2="190.7" y2="513.9" stroke="#262626" stroke-width="1.1"/>
<line x1="206.3" y1="347.1" x2="206.3" y2="411.3" stroke="#262626" stroke-width="1.1"/>
<line x1="206.3" y1="427.5" x2="206.3" y2="441.9" stroke="#262626" stroke-width="1.1"/>
<line x1="206.3" y1="497.1" x2="206.3" y2="512.3" stroke="#262626" stroke-width="1.1"/>
<line x1="222.0" y1="354.3" x2="222.0" y2="421.7" stroke="#262626" stroke-width="1.1"/>
<line x1="222.0" y1="451.1" x2="222.0" y2="468.5" stroke="#262626" stroke-width="1.1"/>
<line x1="222.0" y1="472.9" x2="222.0" y2="487.5" stroke="#262626" stroke-width="1.1"/>
<line x1="237.6" y1="354.3" x2="237.6" y2="419.5" stroke="#262626" stroke-width="1.1"/>
<line x1="237.6" y1="444.8" x2="237.6" y2="459.2" stroke="#262626" stroke-width="1.1"/>
<line x1="237.6" y1="480.0" x2="237.6" y2="496.8" stroke="#262626" stroke-width="1.1"/>
<line x1="253.3" y1="363.5" x2="253.3" y2="431.7" stroke="#262626" stroke-width="1.1"/>
<line x1="253.3" y1="448.1" x2="253.3" y2="465.3" stroke="#262626" stroke-width="1.1"/>
<line x1="253.3" y1="480.6" x2="253.3" y2="496.2" stroke="#262626" stroke-width="1.1"/>
<line x1="268.9" y1="360.4" x2="268.9" y2="422.8" stroke="#262626" stroke-width="1.1"/>
<line x1="268.9" y1="441.8" x2="268.9" y2="458.6" stroke="#262626" stroke-width="1.1"/>
<line x1="268.9" y1="486.5" x2="268.9" y2="499.3" stroke="#262626" stroke-width="1.1"/>
<line x1="284.6" y1="351.8" x2="284.6" y2="416.8" stroke="#262626" stroke-width="1.1"/>
<line x1="284.6" y1="454.9" x2="284.6" y2="469.9" stroke="#262626" stroke-width="1.1"/>
<line x1="284.6" y1="467.3" x2="284.6" y2="481.7" stroke="#262626" stroke-width="1.1"/>
<circle cx="96.8" cy="411.8" r="4.0" fill="#74b57c" stroke="#1a1a1a" stroke-width="1.1"/>
<circle cx="96.8" cy="440.4" r="4.0" fill="#f0c772" stroke="#1a1a1a" stroke-width="1.1"/>
<circle cx="96.8" cy="513.9" r="4.0" fill="#5f6aa8" stroke="#1a1a1a" stroke-width="1.1"/>
<circle cx="112.5" cy="417.6" r="4.0" fill="#74b57c" stroke="#1a1a1a" stroke-width="1.1"/>
<circle cx="112.5" cy="458.2" r="4.0" fill="#f0c772" stroke="#1a1a1a" stroke-width="1.1"/>
<circle cx="112.5" cy="496.5" r="4.0" fill="#5f6aa8" stroke="#1a1a1a" stroke-width="1.1"/>
<circle cx="128.1" cy="398.2" r="4.0" fill="#74b57c" stroke="#1a1a1a" stroke-width="1.1"/>
<circle cx="128.1" cy="456.3" r="4.0" fill="#f0c772" stroke="#1a1a1a" stroke-width="1.1"/>
<circle cx="128.1" cy="489.8" r="4.0" fill="#5f6aa8" stroke="#1a1a1a" stroke-width="1.1"/>
<circle cx="143.8" cy="396.1" r="4.0" fill="#74b57c" stroke="#1a1a1a" stroke-width="1.1"/>
<circle cx="143.8" cy="439.4" r="4.0" fill="#f0c772" stroke="#1a1a1a" stroke-width="1.1"/>
<circle cx="143.8" cy="507.8" r="4.0" fill="#5f6aa8" stroke="#1a1a1a" stroke-width="1.1"/>
<circle cx="159.4" cy="390.0" r="4.0" fill="#74b57c" stroke="#1a1a1a" stroke-width="1.1"/>
<circle cx="159.4" cy="432.7" r="4.0" fill="#f0c772" stroke="#1a1a1a" stroke-width="1.1"/>
<circle cx="159.4" cy="512.9" r="4.0" fill="#5f6aa8" stroke="#1a1a1a" stroke-width="1.1"/>
<circle cx="175.1" cy="395.5" r="4.0" fill="#74b57c" stroke="#1a1a1a" stroke-width="1.1"/>
<circle cx="175.1" cy="439.4" r="4.0" fill="#f0c772" stroke="#1a1a1a" stroke-width="1.1"/>
<circle cx="175.1" cy="507.8" r="4.0" fill="#5f6aa8" stroke="#1a1a1a" stroke-width="1.1"/>
<circle cx="190.7" cy="386.9" r="4.0" fill="#74b57c" stroke="#1a1a1a" stroke-width="1.1"/>
<circle cx="190.7" cy="436.9" r="4.0" fill="#f0c772" stroke="#1a1a1a" stroke-width="1.1"/>
<circle cx="190.7" cy="506.1" r="4.0" fill="#5f6aa8" stroke="#1a1a1a" stroke-width="1.1"/>
<circle cx="206.3" cy="379.2" r="4.0" fill="#74b57c" stroke="#1a1a1a" stroke-width="1.1"/>
<circle cx="206.3" cy="434.7" r="4.0" fill="#f0c772" stroke="#1a1a1a" stroke-width="1.1"/>
<circle cx="206.3" cy="504.7" r="4.0" fill="#5f6aa8" stroke="#1a1a1a" stroke-width="1.1"/>
<circle cx="222.0" cy="388.0" r="4.0" fill="#74b57c" stroke="#1a1a1a" stroke-width="1.1"/>
<circle cx="222.0" cy="459.8" r="4.0" fill="#f0c772" stroke="#1a1a1a" stroke-width="1.1"/>
<circle cx="222.0" cy="480.2" r="4.0" fill="#5f6aa8" stroke="#1a1a1a" stroke-width="1.1"/>
<circle cx="237.6" cy="386.9" r="4.0" fill="#74b57c" stroke="#1a1a1a" stroke-width="1.1"/>
<circle cx="237.6" cy="452.0" r="4.0" fill="#f0c772" stroke="#1a1a1a" stroke-width="1.1"/>
<circle cx="237.6" cy="488.4" r="4.0" fill="#5f6aa8" stroke="#1a1a1a" stroke-width="1.1"/>
<circle cx="253.3" cy="397.6" r="4.0" fill="#74b57c" stroke="#1a1a1a" stroke-width="1.1"/>
<circle cx="253.3" cy="456.7" r="4.0" fill="#f0c772" stroke="#1a1a1a" stroke-width="1.1"/>
<circle cx="253.3" cy="488.4" r="4.0" fill="#5f6aa8" stroke="#1a1a1a" stroke-width="1.1"/>
<circle cx="268.9" cy="391.6" r="4.0" fill="#74b57c" stroke="#1a1a1a" stroke-width="1.1"/>
<circle cx="268.9" cy="450.2" r="4.0" fill="#f0c772" stroke="#1a1a1a" stroke-width="1.1"/>
<circle cx="268.9" cy="492.9" r="4.0" fill="#5f6aa8" stroke="#1a1a1a" stroke-width="1.1"/>
<circle cx="284.6" cy="384.3" r="4.0" fill="#74b57c" stroke="#1a1a1a" stroke-width="1.1"/>
<circle cx="284.6" cy="462.4" r="4.0" fill="#f0c772" stroke="#1a1a1a" stroke-width="1.1"/>
<circle cx="284.6" cy="474.5" r="4.0" fill="#5f6aa8" stroke="#1a1a1a" stroke-width="1.1"/>
<line x1="96.8" y1="405.7" x2="284.6" y2="382.9" stroke="#7dbb80" stroke-width="1.6"/>
<line x1="96.8" y1="441.0" x2="284.6" y2="453.5" stroke="#f1c56a" stroke-width="1.6"/>
<line x1="96.8" y1="509.8" x2="284.6" y2="484.5" stroke="#6a76b4" stroke-width="1.6"/>
<circle cx="97.2" cy="322.0" r="4.0" fill="#74b57c" stroke="#1a1a1a" stroke-width="1.1"/>
<text x="104.3" y="326.0" fill="#33241f" font-size="12" text-anchor="start" >Developing countries</text>
<circle cx="97.2" cy="337.1" r="4.0" fill="#f0c772" stroke="#1a1a1a" stroke-width="1.1"/>
<text x="104.3" y="341.0" fill="#33241f" font-size="12" text-anchor="start" >Developed countries</text>
<circle cx="231.1" cy="322.0" r="4.0" fill="#5f6aa8" stroke="#1a1a1a" stroke-width="1.1"/>
<text x="237.3" y="326.0" fill="#33241f" font-size="12" text-anchor="start" >Their ratio</text>
<text x="225.0" y="348.3" fill="#86c286" font-size="12" text-anchor="start" >R<tspan font-size="7" dy="-4.5">2</tspan><tspan dy="4.5">=0.48**</tspan></text>
<text x="146.0" y="463.3" fill="#f3c870" font-size="12" text-anchor="start" >R<tspan font-size="7" dy="-4.5">2</tspan><tspan dy="4.5">=0.14</tspan></text>
<text x="185.0" y="528.2" fill="#7580b8" font-size="12" text-anchor="start" >R<tspan font-size="7" dy="-4.5">2</tspan><tspan dy="4.5">=0.43**</tspan></text>
<text x="13.2" y="314.3" fill="#33241f" font-size="12" font-weight="bold">b</text>
<line x1="396.5" y1="311.8" x2="396.5" y2="555.0" stroke="#111" stroke-width="1.6"/>
<line x1="614.8" y1="311.8" x2="614.8" y2="555.0" stroke="#111" stroke-width="1.6"/>
<line x1="395.7" y1="312.0" x2="615.6" y2="312.0" stroke="#111" stroke-width="1.6"/>
<line x1="395.7" y1="555.0" x2="615.6" y2="555.0" stroke="#111" stroke-width="1.6"/>
<line x1="392.0" y1="312.0" x2="396.5" y2="312.0" stroke="#111" stroke-width="1.3"/>
<line x1="614.8" y1="312.0" x2="619.0" y2="312.0" stroke="#111" stroke-width="1.3"/>
<text x="391.0" y="316.3" fill="#1c1c1c" font-size="12" text-anchor="end" >3.8</text>
<text x="619.2" y="316.3" fill="#1c1c1c" font-size="12" text-anchor="start" >6.6</text>
<line x1="392.0" y1="393.0" x2="396.5" y2="393.0" stroke="#111" stroke-width="1.3"/>
<line x1="614.8" y1="393.0" x2="619.0" y2="393.0" stroke="#111" stroke-width="1.3"/>
<text x="391.0" y="397.3" fill="#1c1c1c" font-size="12" text-anchor="end" >2.8</text>
<text x="619.2" y="397.3" fill="#1c1c1c" font-size="12" text-anchor="start" >5.4</text>
<line x1="392.0" y1="474.0" x2="396.5" y2="474.0" stroke="#111" stroke-width="1.3"/>
<line x1="614.8" y1="474.0" x2="619.0" y2="474.0" stroke="#111" stroke-width="1.3"/>
<text x="391.0" y="478.3" fill="#1c1c1c" font-size="12" text-anchor="end" >1.8</text>
<text x="619.2" y="478.3" fill="#1c1c1c" font-size="12" text-anchor="start" >4.2</text>
<line x1="392.0" y1="555.0" x2="396.5" y2="555.0" stroke="#111" stroke-width="1.3"/>
<line x1="614.8" y1="555.0" x2="619.0" y2="555.0" stroke="#111" stroke-width="1.3"/>
<text x="391.0" y="559.3" fill="#1c1c1c" font-size="12" text-anchor="end" >0.8</text>
<text x="619.2" y="559.3" fill="#1c1c1c" font-size="12" text-anchor="start" >3.0</text>
<line x1="423.8" y1="555.0" x2="423.8" y2="558.5" stroke="#111" stroke-width="1.3"/>
<text x="423.8" y="570.6" fill="#1c1c1c" font-size="12" text-anchor="middle" >2008</text>
<line x1="478.6" y1="555.0" x2="478.6" y2="558.5" stroke="#111" stroke-width="1.3"/>
<text x="478.6" y="570.6" fill="#1c1c1c" font-size="12" text-anchor="middle" >2012</text>
<line x1="533.4" y1="555.0" x2="533.4" y2="558.5" stroke="#111" stroke-width="1.3"/>
<text x="533.4" y="570.6" fill="#1c1c1c" font-size="12" text-anchor="middle" >2016</text>
<line x1="588.2" y1="555.0" x2="588.2" y2="558.5" stroke="#111" stroke-width="1.3"/>
<text x="588.2" y="570.6" fill="#1c1c1c" font-size="12" text-anchor="middle" >2020</text>
<text x="502.5" y="587.6" fill="#33241f" font-size="12" text-anchor="middle" >Year</text>
<text transform="translate(357.2,442) rotate(-90)" fill="#33241f" font-size="12" text-anchor="middle">N deposition in developed countries</text>
<text transform="translate(370.5,441.3) rotate(-90)" fill="#33241f" font-size="12" text-anchor="middle">(kg N ha<tspan font-size="7" dy="-4.5">-1</tspan><tspan dy="4.5"> yr</tspan><tspan font-size="7" dy="-4.5">-1</tspan><tspan dy="4.5">)</tspan></text>
<text transform="translate(657.6,441.7) rotate(90)" fill="#33241f" font-size="12" text-anchor="middle">N deposition in developing countries</text>
<text transform="translate(643.4,441.8) rotate(90)" fill="#33241f" font-size="12" text-anchor="middle">(kg N ha<tspan font-size="7" dy="-4.5">-1</tspan><tspan dy="4.5"> yr</tspan><tspan font-size="7" dy="-4.5">-1</tspan><tspan dy="4.5">)</tspan></text>
<line x1="423.7" y1="379.0" x2="423.7" y2="421.8" stroke="#6a6a6a" stroke-width="1.0"/>
<line x1="423.7" y1="407.5" x2="423.7" y2="423.5" stroke="#6a6a6a" stroke-width="1.0"/>
<line x1="423.7" y1="512.3" x2="423.7" y2="532.7" stroke="#6a6a6a" stroke-width="1.0"/>
<line x1="437.4" y1="381.6" x2="437.4" y2="422.4" stroke="#6a6a6a" stroke-width="1.0"/>
<line x1="437.4" y1="419.3" x2="437.4" y2="433.3" stroke="#6a6a6a" stroke-width="1.0"/>
<line x1="437.4" y1="514.4" x2="437.4" y2="536.4" stroke="#6a6a6a" stroke-width="1.0"/>
<line x1="451.1" y1="373.1" x2="451.1" y2="409.5" stroke="#6a6a6a" stroke-width="1.0"/>
<line x1="451.1" y1="419.4" x2="451.1" y2="430.4" stroke="#6a6a6a" stroke-width="1.0"/>
<line x1="451.1" y1="508.9" x2="451.1" y2="529.7" stroke="#6a6a6a" stroke-width="1.0"/>
<line x1="464.8" y1="372.2" x2="464.8" y2="412.4" stroke="#6a6a6a" stroke-width="1.0"/>
<line x1="464.8" y1="405.4" x2="464.8" y2="419.0" stroke="#6a6a6a" stroke-width="1.0"/>
<line x1="464.8" y1="505.9" x2="464.8" y2="527.9" stroke="#6a6a6a" stroke-width="1.0"/>
<line x1="478.5" y1="368.8" x2="478.5" y2="410.4" stroke="#6a6a6a" stroke-width="1.0"/>
<line x1="478.5" y1="400.5" x2="478.5" y2="410.9" stroke="#6a6a6a" stroke-width="1.0"/>
<line x1="478.5" y1="504.5" x2="478.5" y2="525.1" stroke="#6a6a6a" stroke-width="1.0"/>
<line x1="492.1" y1="373.1" x2="492.1" y2="413.9" stroke="#6a6a6a" stroke-width="1.0"/>
<line x1="492.1" y1="406.2" x2="492.1" y2="419.8" stroke="#6a6a6a" stroke-width="1.0"/>
<line x1="492.1" y1="504.7" x2="492.1" y2="525.9" stroke="#6a6a6a" stroke-width="1.0"/>
<line x1="505.8" y1="367.1" x2="505.8" y2="409.3" stroke="#6a6a6a" stroke-width="1.0"/>
<line x1="505.8" y1="404.0" x2="505.8" y2="416.0" stroke="#6a6a6a" stroke-width="1.0"/>
<line x1="505.8" y1="502.3" x2="505.8" y2="523.3" stroke="#6a6a6a" stroke-width="1.0"/>
<line x1="519.5" y1="362.9" x2="519.5" y2="402.7" stroke="#6a6a6a" stroke-width="1.0"/>
<line x1="519.5" y1="402.3" x2="519.5" y2="414.3" stroke="#6a6a6a" stroke-width="1.0"/>
<line x1="519.5" y1="501.1" x2="519.5" y2="523.5" stroke="#6a6a6a" stroke-width="1.0"/>
<line x1="533.2" y1="367.1" x2="533.2" y2="407.3" stroke="#6a6a6a" stroke-width="1.0"/>
<line x1="533.2" y1="420.8" x2="533.2" y2="431.8" stroke="#6a6a6a" stroke-width="1.0"/>
<line x1="533.2" y1="503.2" x2="533.2" y2="525.8" stroke="#6a6a6a" stroke-width="1.0"/>
<line x1="546.9" y1="367.1" x2="546.9" y2="407.3" stroke="#6a6a6a" stroke-width="1.0"/>
<line x1="546.9" y1="413.0" x2="546.9" y2="425.0" stroke="#6a6a6a" stroke-width="1.0"/>
<line x1="546.9" y1="503.3" x2="546.9" y2="524.9" stroke="#6a6a6a" stroke-width="1.0"/>
<line x1="560.6" y1="371.9" x2="560.6" y2="412.7" stroke="#6a6a6a" stroke-width="1.0"/>
<line x1="560.6" y1="414.2" x2="560.6" y2="426.2" stroke="#6a6a6a" stroke-width="1.0"/>
<line x1="560.6" y1="507.0" x2="560.6" y2="528.8" stroke="#6a6a6a" stroke-width="1.0"/>
<line x1="574.3" y1="368.0" x2="574.3" y2="405.4" stroke="#6a6a6a" stroke-width="1.0"/>
<line x1="574.3" y1="409.6" x2="574.3" y2="421.6" stroke="#6a6a6a" stroke-width="1.0"/>
<line x1="574.3" y1="507.6" x2="574.3" y2="528.8" stroke="#6a6a6a" stroke-width="1.0"/>
<line x1="588.0" y1="364.0" x2="588.0" y2="401.6" stroke="#6a6a6a" stroke-width="1.0"/>
<line x1="588.0" y1="416.4" x2="588.0" y2="428.4" stroke="#6a6a6a" stroke-width="1.0"/>
<line x1="588.0" y1="505.7" x2="588.0" y2="527.3" stroke="#6a6a6a" stroke-width="1.0"/>
<rect x="420.6" y="397.3" width="6.2" height="6.2" fill="#9f7fb0" stroke="#1a1a1a" stroke-width="1.1"/>
<circle cx="423.7" cy="415.5" r="4.0" fill="#74b57c" stroke="#1a1a1a" stroke-width="1.1"/>
<circle cx="423.7" cy="478.8" r="4.0" fill="#f0c772" stroke="#1a1a1a" stroke-width="1.1"/>
<rect x="420.6" y="519.4" width="6.2" height="6.2" fill="#5464a4" stroke="#1a1a1a" stroke-width="1.1"/>
<rect x="434.3" y="398.9" width="6.2" height="6.2" fill="#9f7fb0" stroke="#1a1a1a" stroke-width="1.1"/>
<circle cx="437.4" cy="426.3" r="4.0" fill="#74b57c" stroke="#1a1a1a" stroke-width="1.1"/>
<circle cx="437.4" cy="486.3" r="4.0" fill="#f0c772" stroke="#1a1a1a" stroke-width="1.1"/>
<rect x="434.3" y="522.3" width="6.2" height="6.2" fill="#5464a4" stroke="#1a1a1a" stroke-width="1.1"/>
<rect x="448.0" y="388.2" width="6.2" height="6.2" fill="#9f7fb0" stroke="#1a1a1a" stroke-width="1.1"/>
<circle cx="451.1" cy="424.9" r="4.0" fill="#74b57c" stroke="#1a1a1a" stroke-width="1.1"/>
<circle cx="451.1" cy="485.6" r="4.0" fill="#f0c772" stroke="#1a1a1a" stroke-width="1.1"/>
<rect x="448.0" y="516.2" width="6.2" height="6.2" fill="#5464a4" stroke="#1a1a1a" stroke-width="1.1"/>
<rect x="461.7" y="389.2" width="6.2" height="6.2" fill="#9f7fb0" stroke="#1a1a1a" stroke-width="1.1"/>
<circle cx="464.8" cy="412.2" r="4.0" fill="#74b57c" stroke="#1a1a1a" stroke-width="1.1"/>
<circle cx="464.8" cy="480.0" r="4.0" fill="#f0c772" stroke="#1a1a1a" stroke-width="1.1"/>
<rect x="461.7" y="513.8" width="6.2" height="6.2" fill="#5464a4" stroke="#1a1a1a" stroke-width="1.1"/>
<rect x="475.4" y="386.5" width="6.2" height="6.2" fill="#9f7fb0" stroke="#1a1a1a" stroke-width="1.1"/>
<circle cx="478.5" cy="405.7" r="4.0" fill="#74b57c" stroke="#1a1a1a" stroke-width="1.1"/>
<circle cx="478.5" cy="478.8" r="4.0" fill="#f0c772" stroke="#1a1a1a" stroke-width="1.1"/>
<rect x="475.4" y="511.7" width="6.2" height="6.2" fill="#5464a4" stroke="#1a1a1a" stroke-width="1.1"/>
<rect x="489.0" y="390.4" width="6.2" height="6.2" fill="#9f7fb0" stroke="#1a1a1a" stroke-width="1.1"/>
<circle cx="492.1" cy="413.0" r="4.0" fill="#74b57c" stroke="#1a1a1a" stroke-width="1.1"/>
<circle cx="492.1" cy="479.5" r="4.0" fill="#f0c772" stroke="#1a1a1a" stroke-width="1.1"/>
<rect x="489.0" y="512.2" width="6.2" height="6.2" fill="#5464a4" stroke="#1a1a1a" stroke-width="1.1"/>
<rect x="502.7" y="385.1" width="6.2" height="6.2" fill="#9f7fb0" stroke="#1a1a1a" stroke-width="1.1"/>
<circle cx="505.8" cy="410.0" r="4.0" fill="#74b57c" stroke="#1a1a1a" stroke-width="1.1"/>
<circle cx="505.8" cy="479.5" r="4.0" fill="#f0c772" stroke="#1a1a1a" stroke-width="1.1"/>
<rect x="502.7" y="509.7" width="6.2" height="6.2" fill="#5464a4" stroke="#1a1a1a" stroke-width="1.1"/>
<rect x="516.4" y="379.7" width="6.2" height="6.2" fill="#9f7fb0" stroke="#1a1a1a" stroke-width="1.1"/>
<circle cx="519.5" cy="408.3" r="4.0" fill="#74b57c" stroke="#1a1a1a" stroke-width="1.1"/>
<circle cx="519.5" cy="478.8" r="4.0" fill="#f0c772" stroke="#1a1a1a" stroke-width="1.1"/>
<rect x="516.4" y="509.2" width="6.2" height="6.2" fill="#5464a4" stroke="#1a1a1a" stroke-width="1.1"/>
<rect x="530.1" y="384.1" width="6.2" height="6.2" fill="#9f7fb0" stroke="#1a1a1a" stroke-width="1.1"/>
<circle cx="533.2" cy="426.3" r="4.0" fill="#74b57c" stroke="#1a1a1a" stroke-width="1.1"/>
<circle cx="533.2" cy="488.1" r="4.0" fill="#f0c772" stroke="#1a1a1a" stroke-width="1.1"/>
<rect x="530.1" y="511.4" width="6.2" height="6.2" fill="#5464a4" stroke="#1a1a1a" stroke-width="1.1"/>
<rect x="543.8" y="384.1" width="6.2" height="6.2" fill="#9f7fb0" stroke="#1a1a1a" stroke-width="1.1"/>
<circle cx="546.9" cy="419.0" r="4.0" fill="#74b57c" stroke="#1a1a1a" stroke-width="1.1"/>
<circle cx="546.9" cy="487.6" r="4.0" fill="#f0c772" stroke="#1a1a1a" stroke-width="1.1"/>
<rect x="543.8" y="511.0" width="6.2" height="6.2" fill="#5464a4" stroke="#1a1a1a" stroke-width="1.1"/>
<rect x="557.5" y="389.2" width="6.2" height="6.2" fill="#9f7fb0" stroke="#1a1a1a" stroke-width="1.1"/>
<circle cx="560.6" cy="420.2" r="4.0" fill="#74b57c" stroke="#1a1a1a" stroke-width="1.1"/>
<circle cx="560.6" cy="491.5" r="4.0" fill="#f0c772" stroke="#1a1a1a" stroke-width="1.1"/>
<rect x="557.5" y="514.8" width="6.2" height="6.2" fill="#5464a4" stroke="#1a1a1a" stroke-width="1.1"/>
<rect x="571.2" y="383.6" width="6.2" height="6.2" fill="#9f7fb0" stroke="#1a1a1a" stroke-width="1.1"/>
<circle cx="574.3" cy="415.6" r="4.0" fill="#74b57c" stroke="#1a1a1a" stroke-width="1.1"/>
<circle cx="574.3" cy="488.5" r="4.0" fill="#f0c772" stroke="#1a1a1a" stroke-width="1.1"/>
<rect x="571.2" y="515.1" width="6.2" height="6.2" fill="#5464a4" stroke="#1a1a1a" stroke-width="1.1"/>
<rect x="584.9" y="379.7" width="6.2" height="6.2" fill="#9f7fb0" stroke="#1a1a1a" stroke-width="1.1"/>
<circle cx="588.0" cy="422.4" r="4.0" fill="#74b57c" stroke="#1a1a1a" stroke-width="1.1"/>
<circle cx="588.0" cy="495.6" r="4.0" fill="#f0c772" stroke="#1a1a1a" stroke-width="1.1"/>
<rect x="584.9" y="513.4" width="6.2" height="6.2" fill="#5464a4" stroke="#1a1a1a" stroke-width="1.1"/>
<line x1="423.7" y1="397.4" x2="587.9" y2="383.8" stroke="#a98fc0" stroke-width="1.6"/>
<line x1="423.7" y1="416.1" x2="587.9" y2="418.1" stroke="#7dbb80" stroke-width="1.6"/>
<line x1="423.7" y1="479.5" x2="587.9" y2="490.7" stroke="#f1c56a" stroke-width="1.6"/>
<line x1="423.7" y1="519.9" x2="587.9" y2="514.0" stroke="#6a76b4" stroke-width="1.6"/>
<text x="398.9" y="328.6" fill="#33241f" font-size="12" text-anchor="start" >Developed countries:</text>
<text x="398.9" y="340.8" fill="#33241f" font-size="12" text-anchor="start" >Developing countries<tspan dx="1.5">:</tspan></text>
<circle cx="522.7" cy="325.2" r="4.0" fill="#74b57c" stroke="#1a1a1a" stroke-width="1.1"/>
<text x="531.5" y="328.6" fill="#33241f" font-size="12" text-anchor="start" >NHx</text>
<circle cx="569.0" cy="325.8" r="4.0" fill="#f0c772" stroke="#1a1a1a" stroke-width="1.1"/>
<text x="577.5" y="328.6" fill="#33241f" font-size="12" text-anchor="start" >NOy</text>
<rect x="519.7" y="334.4" width="6.2" height="6.2" fill="#9f7fb0" stroke="#1a1a1a" stroke-width="1.1"/>
<text x="531.5" y="340.8" fill="#33241f" font-size="12" text-anchor="start" >NHx</text>
<rect x="565.8" y="334.8" width="6.2" height="6.2" fill="#5464a4" stroke="#1a1a1a" stroke-width="1.1"/>
<text x="577.5" y="340.8" fill="#33241f" font-size="12" text-anchor="start" >NOy</text>
<text x="427.0" y="368.6" fill="#a98ec0" font-size="12" text-anchor="start" >R<tspan font-size="7" dy="-4.5">2</tspan><tspan dy="4.5">=0.59**</tspan></text>
<text x="475.3" y="438.2" fill="#86c286" font-size="12" text-anchor="start" >R<tspan font-size="7" dy="-4.5">2</tspan><tspan dy="4.5">=0.01</tspan></text>
<text x="475.3" y="468.2" fill="#f3c870" font-size="12" text-anchor="start" >R<tspan font-size="7" dy="-4.5">2</tspan><tspan dy="4.5">=0.44*</tspan></text>
<text x="473.6" y="541.2" fill="#7580b8" font-size="12" text-anchor="start" >R<tspan font-size="7" dy="-4.5">2</tspan><tspan dy="4.5">=0.24</tspan></text>
<text x="348.6" y="314.3" fill="#33241f" font-size="12" font-weight="bold">c</text>
</svg>
</body></html>
